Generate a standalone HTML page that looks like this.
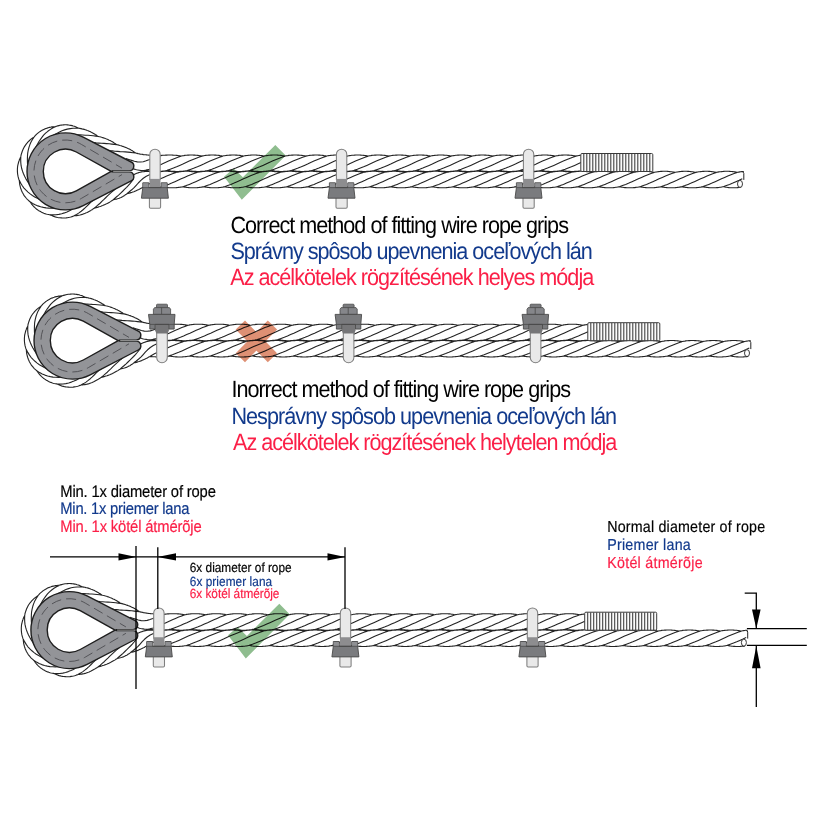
<!DOCTYPE html>
<html><head><meta charset="utf-8"><title>Wire rope grips</title>
<style>
html,body{margin:0;padding:0;background:#fff;}
body{width:820px;height:820px;overflow:hidden;font-family:"Liberation Sans",sans-serif;}
svg{display:block;}
</style></head><body>
<svg width="820" height="820" viewBox="0 0 820 820">
<rect width="820" height="820" fill="#ffffff"/>
<g transform="translate(0 0)">
<path d="M742.3 178.8 L739.1 180.3 L735.9 181.7 L732.8 183.1 L729.6 184.4 L726.4 185.6 L723.3 186.7 M737.3 172.4 L734.1 173.5 L731 174.7 L727.8 176 L724.6 177.4 L721.5 178.8 L718.3 180.3 L715.2 181.7 L712 183.1 L708.8 184.4 L705.7 185.6 L702.5 186.7 M716.5 172.4 L713.4 173.5 L710.2 174.7 L707 176 L703.9 177.4 L700.7 178.8 L697.5 180.3 L694.4 181.7 L691.2 183.1 L688 184.4 L684.9 185.6 L681.7 186.7 M695.7 172.4 L692.6 173.5 L689.4 174.7 L686.2 176 L683.1 177.4 L679.9 178.8 L676.8 180.3 L673.6 181.7 L670.4 183.1 L667.3 184.4 L664.1 185.6 L660.9 186.7 M675 172.4 L671.8 173.5 L668.6 174.7 L665.5 176 L662.3 177.4 L659.1 178.8 L656 180.3 L652.8 181.7 L649.7 183.1 L646.5 184.4 L643.3 185.6 L640.2 186.7 M654.2 172.4 L651 173.5 L647.9 174.7 L644.7 176 L641.5 177.4 L638.4 178.8 L635.2 180.3 L632 181.7 L628.9 183.1 L625.7 184.4 L622.5 185.6 L619.4 186.7 M633.4 172.4 L630.2 173.5 L627.1 174.7 L623.9 176 L620.7 177.4 L617.6 178.8 L614.4 180.3 L611.3 181.7 L608.1 183.1 L604.9 184.4 L601.8 185.6 L598.6 186.7 M612.6 172.4 L609.5 173.5 L606.3 174.7 L603.1 176 L600 177.4 L596.8 178.8 L593.6 180.3 L590.5 181.7 L587.3 183.1 L584.1 184.4 L581 185.6 L577.8 186.7 M591.8 172.4 L588.7 173.5 L585.5 174.7 L582.3 176 L579.2 177.4 L576 178.8 L572.9 180.3 L569.7 181.7 L566.5 183.1 L563.4 184.4 L560.2 185.6 L557 186.7 M571.1 172.4 L567.9 173.5 L564.7 174.7 L561.6 176 L558.4 177.4 L555.2 178.8 L552.1 180.3 L548.9 181.7 L545.8 183.1 L542.6 184.4 L539.4 185.6 L536.3 186.7 M550.3 172.4 L547.1 173.5 L544 174.7 L540.8 176 L537.6 177.4 L534.5 178.8 L531.3 180.3 L528.1 181.7 L525 183.1 L521.8 184.4 L518.6 185.6 L515.5 186.7 M529.5 172.4 L526.3 173.5 L523.2 174.7 L520 176 L516.8 177.4 L513.7 178.8 L510.5 180.3 L507.4 181.7 L504.2 183.1 L501 184.4 L497.9 185.6 L494.7 186.7 M508.7 172.4 L505.6 173.5 L502.4 174.7 L499.2 176 L496.1 177.4 L492.9 178.8 L489.7 180.3 L486.6 181.7 L483.4 183.1 L480.2 184.4 L477.1 185.6 L473.9 186.7 M487.9 172.4 L484.8 173.5 L481.6 174.7 L478.4 176 L475.3 177.4 L472.1 178.8 L469 180.3 L465.8 181.7 L462.6 183.1 L459.5 184.4 L456.3 185.6 L453.1 186.7 M467.2 172.4 L464 173.5 L460.8 174.7 L457.7 176 L454.5 177.4 L451.3 178.8 L448.2 180.3 L445 181.7 L441.9 183.1 L438.7 184.4 L435.5 185.6 L432.4 186.7 M446.4 172.4 L443.2 173.5 L440.1 174.7 L436.9 176 L433.7 177.4 L430.6 178.8 L427.4 180.3 L424.2 181.7 L421.1 183.1 L417.9 184.4 L414.7 185.6 L411.6 186.7 M425.6 172.4 L422.4 173.5 L419.3 174.7 L416.1 176 L412.9 177.4 L409.8 178.8 L406.6 180.3 L403.5 181.7 L400.3 183.1 L397.1 184.4 L394 185.6 L390.8 186.7 M404.8 172.4 L401.7 173.5 L398.5 174.7 L395.3 176 L392.2 177.4 L389 178.8 L385.8 180.3 L382.7 181.7 L379.5 183.1 L376.3 184.4 L373.2 185.6 L370 186.7 M384 172.4 L380.9 173.5 L377.7 174.7 L374.5 176 L371.4 177.4 L368.2 178.8 L365.1 180.3 L361.9 181.7 L358.7 183.1 L355.6 184.4 L352.4 185.6 L349.2 186.7 M363.3 172.4 L360.1 173.5 L356.9 174.7 L353.8 176 L350.6 177.4 L347.4 178.8 L344.3 180.3 L341.1 181.7 L338 183.1 L334.8 184.4 L331.6 185.6 L328.5 186.7 M342.5 172.4 L339.3 173.5 L336.2 174.7 L333 176 L329.8 177.4 L326.7 178.8 L323.5 180.3 L320.3 181.7 L317.2 183.1 L314 184.4 L310.8 185.6 L307.7 186.7 M321.7 172.4 L318.5 173.5 L315.4 174.7 L312.2 176 L309 177.4 L305.9 178.8 L302.7 180.3 L299.6 181.7 L296.4 183.1 L293.2 184.4 L290.1 185.6 L286.9 186.7 M300.9 172.4 L297.8 173.5 L294.6 174.7 L291.4 176 L288.3 177.4 L285.1 178.8 L281.9 180.3 L278.8 181.7 L275.6 183.1 L272.4 184.4 L269.3 185.6 L266.1 186.7 M280.1 172.4 L277 173.5 L273.8 174.7 L270.6 176 L267.5 177.4 L264.3 178.8 L261.2 180.3 L258 181.7 L254.8 183.1 L251.7 184.4 L248.5 185.6 L245.3 186.7 M259.4 172.4 L256.2 173.5 L253 174.7 L249.9 176 L246.7 177.4 L243.5 178.8 L240.4 180.3 L237.2 181.7 L234.1 183.1 L230.9 184.4 L227.7 185.6 L224.6 186.7 M238.6 172.4 L235.4 173.5 L232.3 174.7 L229.1 176 L225.9 177.4 L222.8 178.8 L219.6 180.3 L216.4 181.7 L213.3 183.1 L210.1 184.4 L206.9 185.6 L203.8 186.7 M217.8 172.4 L214.6 173.5 L211.5 174.7 L208.3 176 L205.1 177.4 L202 178.8 L198.8 180.3 L195.7 181.7 L192.5 183.1 L189.3 184.4 L186.2 185.6 L183 186.7 M197 172.4 L193.9 173.5 L190.7 174.7 L187.5 176 L184.4 177.4 L181.2 178.8 L178 180.3 L174.9 181.7 L171.7 183.1 L168.5 184.4 L165.4 185.6 L162.2 186.7 M176.2 172.4 L173.1 173.5 L169.9 174.7 L166.7 176 L163.6 177.4 L160.4 178.8 L157.3 180.3 L154.1 181.7 L150.9 183.1 L147.9 184.4 L145.3 185.8 L142.9 187.3 M155.5 172.4 L152.5 173.5 L149.5 174.7 L146.3 176.3 L143.3 178.3 L140.6 180.6 L138.3 183 L136.2 185.4 L134.1 187.7 L131.7 189.8 L129.3 191.8 L126.9 193.6 M133.7 178.7 L131.9 181.1 L130.2 183.3 L128.4 185.4 L126.6 187.3 L124.7 189.2 L122.9 191 L121 192.8 L119.1 194.6 L117.2 196.3 L115.2 198 L113.3 199.7 M115.5 188.9 L113.5 190.5 L111.6 192.2 L109.7 193.9 L107.8 195.7 L105.9 197.5 L104 199.4 L102.1 201.2 L100.3 203 L98.3 204.7 L96.4 206.4 L94.4 208 M96.8 197.2 L94.8 198.8 L92.8 200.5 L90.9 202.2 L89 204 L87.2 205.8 L85.3 207.7 L83.3 209.5 L81.2 211.2 L79 212.9 L76.6 214.4 L74 215.8 M78.1 205.2 L76.1 206.7 L74 208.1 L71.8 209.4 L69.5 210.7 L67 211.9 L64.4 212.9 L61.7 213.8 L58.9 214.4 L56 214.8 L53.1 214.9 L50.1 214.8 M59 207.7 L56.6 208 L54.1 208.1 L51.5 208.2 L48.9 208.1 L46.1 207.9 L43.4 207.4 L40.6 206.8 L37.9 205.9 L35.2 204.8 L32.6 203.4 L30.1 201.8 M41.5 200.2 L39.2 199.2 L36.9 198.1 L34.7 196.9 L32.4 195.5 L30.2 193.9 L28 192.1 L26 190.2 L24 188.1 L22.3 185.7 L20.8 183.2 L19.4 180.6 M30 185 L28.5 183 L27.2 180.9 L25.8 178.6 L24.6 176.3 L23.5 173.8 L22.5 171.2 L21.7 168.5 L21.1 165.7 L20.8 162.8 L20.7 159.9 L20.8 156.9 M27.8 166 L27.5 163.6 L27.4 161.1 L27.4 158.5 L27.5 155.8 L27.7 153.1 L28.2 150.4 L28.9 147.6 L29.8 144.9 L30.9 142.2 L32.3 139.7 L34 137.2 M35.4 148.6 L36.4 146.3 L37.6 144.1 L38.8 141.8 L40.3 139.6 L41.9 137.4 L43.6 135.2 L45.6 133.2 L47.8 131.3 L50.1 129.6 L52.6 128 L55.3 126.7 M50.8 137.3 L52.8 135.8 L54.9 134.5 L57.2 133.2 L59.5 132 L62 130.8 L64.6 129.9 L67.3 129.1 L70.2 128.6 L73.1 128.3 L76 128.2 L78.8 128.3 M69.8 135.3 L72.3 135 L74.8 134.9 L77.4 134.9 L80 134.9 L82.7 135 L85.3 135.2 L88 135.3 L90.6 135.5 L93.1 135.8 L95.7 136.1 L98.2 136.5 M88.5 142 L91.1 142.3 L93.6 142.6 L96.2 142.9 L98.8 143.1 L101.4 143.3 L104 143.4 L106.6 143.6 L109.2 143.8 L111.8 144.1 L114.3 144.4 L116.8 144.7 M107.2 150.2 L109.8 150.6 L112.3 150.9 L114.9 151.2 L117.5 151.4 L120.1 151.6 L122.7 151.7 L125.3 151.9 L127.9 152.1 L130.4 152.4 L133 152.7 L135.5 153 M126 158.6 L128.8 159.5 L131.6 160.4 L134.4 161.3 L137.3 161.9 L140.3 162 L143.3 161.7 L146.1 160.8 L148.9 159.7 L151.8 158.4 L154.7 157.2 L157.6 156.1 M145.9 170 L149.5 169.3 L152.6 168.1 L155.8 166.8 L159 165.4 L162.1 164 L165.3 162.5 L168.5 161.1 L171.6 159.7 L174.8 158.4 L177.9 157.2 L181.1 156.1 M167.1 170.4 L170.2 169.3 L173.4 168.1 L176.6 166.8 L179.7 165.4 L182.9 164 L186.1 162.5 L189.2 161.1 L192.4 159.7 L195.6 158.4 L198.7 157.2 L201.9 156.1 M187.9 170.4 L191 169.3 L194.2 168.1 L197.4 166.8 L200.5 165.4 L203.7 164 L206.8 162.5 L210 161.1 L213.2 159.7 L216.3 158.4 L219.5 157.2 L222.7 156.1 M208.6 170.4 L211.8 169.3 L215 168.1 L218.1 166.8 L221.3 165.4 L224.5 164 L227.6 162.5 L230.8 161.1 L234 159.7 L237.1 158.4 L240.3 157.2 L243.4 156.1 M229.4 170.4 L232.6 169.3 L235.8 168.1 L238.9 166.8 L242.1 165.4 L245.2 164 L248.4 162.5 L251.6 161.1 L254.7 159.7 L257.9 158.4 L261.1 157.2 L264.2 156.1 M250.2 170.4 L253.4 169.3 L256.5 168.1 L259.7 166.8 L262.9 165.4 L266 164 L269.2 162.5 L272.4 161.1 L275.5 159.7 L278.7 158.4 L281.8 157.2 L285 156.1 M271 170.4 L274.1 169.3 L277.3 168.1 L280.5 166.8 L283.6 165.4 L286.8 164 L290 162.5 L293.1 161.1 L296.3 159.7 L299.5 158.4 L302.6 157.2 L305.8 156.1 M291.8 170.4 L294.9 169.3 L298.1 168.1 L301.3 166.8 L304.4 165.4 L307.6 164 L310.7 162.5 L313.9 161.1 L317.1 159.7 L320.2 158.4 L323.4 157.2 L326.6 156.1 M312.5 170.4 L315.7 169.3 L318.9 168.1 L322 166.8 L325.2 165.4 L328.4 164 L331.5 162.5 L334.7 161.1 L337.9 159.7 L341 158.4 L344.2 157.2 L347.3 156.1 M333.3 170.4 L336.5 169.3 L339.7 168.1 L342.8 166.8 L346 165.4 L349.1 164 L352.3 162.5 L355.5 161.1 L358.6 159.7 L361.8 158.4 L365 157.2 L368.1 156.1 M354.1 170.4 L357.3 169.3 L360.4 168.1 L363.6 166.8 L366.8 165.4 L369.9 164 L373.1 162.5 L376.3 161.1 L379.4 159.7 L382.6 158.4 L385.7 157.2 L388.9 156.1 M374.9 170.4 L378 169.3 L381.2 168.1 L384.4 166.8 L387.5 165.4 L390.7 164 L393.9 162.5 L397 161.1 L400.2 159.7 L403.4 158.4 L406.5 157.2 L409.7 156.1 M395.7 170.4 L398.8 169.3 L402 168.1 L405.2 166.8 L408.3 165.4 L411.5 164 L414.6 162.5 L417.8 161.1 L421 159.7 L424.1 158.4 L427.3 157.2 L430.5 156.1 M416.4 170.4 L419.6 169.3 L422.8 168.1 L425.9 166.8 L429.1 165.4 L432.3 164 L435.4 162.5 L438.6 161.1 L441.8 159.7 L444.9 158.4 L448.1 157.2 L451.2 156.1 M437.2 170.4 L440.4 169.3 L443.6 168.1 L446.7 166.8 L449.9 165.4 L453 164 L456.2 162.5 L459.4 161.1 L462.5 159.7 L465.7 158.4 L468.9 157.2 L472 156.1 M458 170.4 L461.2 169.3 L464.3 168.1 L467.5 166.8 L470.7 165.4 L473.8 164 L477 162.5 L480.2 161.1 L483.3 159.7 L486.5 158.4 L489.6 157.2 L492.8 156.1 M478.8 170.4 L481.9 169.3 L485.1 168.1 L488.3 166.8 L491.4 165.4 L494.6 164 L497.8 162.5 L500.9 161.1 L504.1 159.7 L507.3 158.4 L510.4 157.2 L513.6 156.1 M499.6 170.4 L502.7 169.3 L505.9 168.1 L509.1 166.8 L512.2 165.4 L515.4 164 L518.5 162.5 L521.7 161.1 L524.9 159.7 L528 158.4 L531.2 157.2 L534.4 156.1 M520.3 170.4 L523.5 169.3 L526.7 168.1 L529.8 166.8 L533 165.4 L536.2 164 L539.3 162.5 L542.5 161.1 L545.7 159.7 L548.8 158.4 L552 157.2 L555.1 156.1 M541.1 170.4 L544.3 169.3 L547.5 168.1 L550.6 166.8 L553.8 165.4 L556.9 164 L560.1 162.5 L563.3 161.1 L566.4 159.7 L569.6 158.4 L572.8 157.2 L575.9 156.1 M561.9 170.4 L565.1 169.3 L568.2 168.1 L571.4 166.8 L574.6 165.4 L577.7 164 L580.9 162.5 M743.8 171.5 L742.8 171.5 L741.8 171.6 L740.8 171.8 L739.8 171.9 L738.8 172.1 L737.8 172.3 L736.8 172.3 L735.8 172.1 L734.8 171.9 L733.8 171.8 L732.8 171.6 L731.8 171.5 L730.8 171.5 L729.8 171.4 L728.8 171.3 L727.8 171.3 L726.8 171.3 L725.8 171.3 L724.8 171.3 L723.8 171.4 L722.8 171.5 L721.8 171.6 L720.8 171.7 L719.8 171.8 L718.8 171.9 L717.8 172.1 L716.8 172.3 L715.8 172.2 L714.8 172 L713.8 171.9 L712.8 171.7 L711.8 171.6 L710.8 171.5 L709.8 171.4 L708.8 171.4 L707.8 171.3 L706.8 171.3 L705.8 171.3 L704.8 171.3 L703.8 171.4 L702.8 171.4 L701.8 171.5 L700.8 171.6 L699.8 171.7 L698.8 171.8 L697.8 172 L696.8 172.1 L695.8 172.4 L694.8 172.2 L693.8 172 L692.8 171.8 L691.8 171.7 L690.8 171.6 L689.8 171.5 L688.8 171.4 L687.8 171.4 L686.8 171.3 L685.8 171.3 L684.8 171.3 L683.8 171.3 L682.8 171.4 L681.8 171.4 L680.8 171.5 L679.8 171.6 L678.8 171.7 L677.8 171.9 L676.8 172 L675.8 172.2 L674.8 172.3 L673.8 172.1 L672.8 172 L671.8 171.8 L670.8 171.7 L669.8 171.6 L668.8 171.5 L667.8 171.4 L666.8 171.3 L665.8 171.3 L664.8 171.3 L663.8 171.3 L662.8 171.3 L661.8 171.4 L660.8 171.4 L659.8 171.5 L658.8 171.6 L657.8 171.7 L656.8 171.9 L655.8 172 L654.8 172.2 L653.8 172.3 L652.8 172.1 L651.8 171.9 L650.8 171.8 L649.8 171.7 L648.8 171.5 L647.8 171.5 L646.8 171.4 L645.8 171.3 L644.8 171.3 L643.8 171.3 L642.8 171.3 L641.8 171.3 L640.8 171.4 L639.8 171.5 L638.8 171.5 L637.8 171.7 L636.8 171.8 L635.8 171.9 L634.8 172.1 L633.8 172.3 L632.8 172.2 L631.8 172 L630.8 171.9 L629.8 171.8 L628.8 171.6 L627.8 171.5 L626.8 171.4 L625.8 171.4 L624.8 171.3 L623.8 171.3 L622.8 171.3 L621.8 171.3 L620.8 171.3 L619.8 171.4 L618.8 171.5 L617.8 171.6 L616.8 171.7 L615.8 171.8 L614.8 172 L613.8 172.1 L612.8 172.3 L611.8 172.2 L610.8 172 L609.8 171.9 L608.8 171.7 L607.8 171.6 L606.8 171.5 L605.8 171.4 L604.8 171.4 L603.8 171.3 L602.8 171.3 L601.8 171.3 L600.8 171.3 L599.8 171.4 L598.8 171.4 L597.8 171.5 L596.8 171.6 L595.8 171.7 L594.8 171.8 L593.8 172 L592.8 172.2 L591.8 172.4 L590.8 172.2 L589.8 172 L588.8 171.8 L587.8 171.7 L586.8 171.6 L585.8 171.5 L584.8 171.4 L583.8 171.4 L582.8 171.3 L581.8 171.3 L580.8 171.3 L579.8 171.3 L578.8 171.4 L577.8 171.4 L576.8 171.5 L575.8 171.6 L574.8 171.7 L573.8 171.9 L572.8 172 L571.8 172.2 L570.8 172.3 L569.8 172.1 L568.8 171.9 L567.8 171.8 L566.8 171.7 L565.8 171.6 L564.8 171.5 L563.8 171.4 L562.8 171.3 L561.8 171.3 L560.8 171.3 L559.8 171.3 L558.8 171.3 L557.8 171.4 L556.8 171.4 L555.8 171.5 L554.8 171.6 L553.8 171.8 L552.8 171.9 L551.8 172.1 L550.8 172.3 L549.8 172.3 L548.8 172.1 L547.8 171.9 L546.8 171.8 L545.8 171.6 L544.8 171.5 L543.8 171.5 L542.8 171.4 L541.8 171.3 L540.8 171.3 L539.8 171.3 L538.8 171.3 L537.8 171.3 L536.8 171.4 L535.8 171.5 L534.8 171.6 L533.8 171.7 L532.8 171.8 L531.8 171.9 L530.8 172.1 L529.8 172.3 L528.8 172.2 L527.8 172 L526.8 171.9 L525.8 171.7 L524.8 171.6 L523.8 171.5 L522.8 171.4 L521.8 171.4 L520.8 171.3 L519.8 171.3 L518.8 171.3 L517.8 171.3 L516.8 171.4 L515.8 171.4 L514.8 171.5 L513.8 171.6 L512.8 171.7 L511.8 171.8 L510.8 172 L509.8 172.1 L508.8 172.4 L507.8 172.2 L506.8 172 L505.8 171.8 L504.8 171.7 L503.8 171.6 L502.8 171.5 L501.8 171.4 L500.8 171.4 L499.8 171.3 L498.8 171.3 L497.8 171.3 L496.8 171.3 L495.8 171.4 L494.8 171.4 L493.8 171.5 L492.8 171.6 L491.8 171.7 L490.8 171.9 L489.8 172 L488.8 172.2 L487.8 172.3 L486.8 172.1 L485.8 172 L484.8 171.8 L483.8 171.7 L482.8 171.6 L481.8 171.5 L480.8 171.4 L479.8 171.4 L478.8 171.3 L477.8 171.3 L476.8 171.3 L475.8 171.3 L474.8 171.4 L473.8 171.4 L472.8 171.5 L471.8 171.6 L470.8 171.7 L469.8 171.9 L468.8 172 L467.8 172.2 L466.8 172.3 L465.8 172.1 L464.8 171.9 L463.8 171.8 L462.8 171.7 L461.8 171.5 L460.8 171.5 L459.8 171.4 L458.8 171.3 L457.8 171.3 L456.8 171.3 L455.8 171.3 L454.8 171.3 L453.8 171.4 L452.8 171.5 L451.8 171.5 L450.8 171.6 L449.8 171.8 L448.8 171.9 L447.8 172.1 L446.8 172.3 L445.8 172.2 L444.8 172.1 L443.8 171.9 L442.8 171.8 L441.8 171.6 L440.8 171.5 L439.8 171.4 L438.8 171.4 L437.8 171.3 L436.8 171.3 L435.8 171.3 L434.8 171.3 L433.8 171.3 L432.8 171.4 L431.8 171.5 L430.8 171.6 L429.8 171.7 L428.8 171.8 L427.8 172 L426.8 172.1 L425.8 172.3 L424.8 172.2 L423.8 172 L422.8 171.9 L421.8 171.7 L420.8 171.6 L419.8 171.5 L418.8 171.4 L417.8 171.4 L416.8 171.3 L415.8 171.3 L414.8 171.3 L413.8 171.3 L412.8 171.4 L411.8 171.4 L410.8 171.5 L409.8 171.6 L408.8 171.7 L407.8 171.8 L406.8 172 L405.8 172.2 L404.8 172.4 L403.8 172.2 L402.8 172 L401.8 171.8 L400.8 171.7 L399.8 171.6 L398.8 171.5 L397.8 171.4 L396.8 171.4 L395.8 171.3 L394.8 171.3 L393.8 171.3 L392.8 171.3 L391.8 171.4 L390.8 171.4 L389.8 171.5 L388.8 171.6 L387.8 171.7 L386.8 171.9 L385.8 172 L384.8 172.2 L383.8 172.3 L382.8 172.1 L381.8 171.9 L380.8 171.8 L379.8 171.7 L378.8 171.6 L377.8 171.5 L376.8 171.4 L375.8 171.3 L374.8 171.3 L373.8 171.3 L372.8 171.3 L371.8 171.3 L370.8 171.4 L369.8 171.4 L368.8 171.5 L367.8 171.6 L366.8 171.8 L365.8 171.9 L364.8 172.1 L363.8 172.3 L362.8 172.3 L361.8 172.1 L360.8 171.9 L359.8 171.8 L358.8 171.6 L357.8 171.5 L356.8 171.5 L355.8 171.4 L354.8 171.3 L353.8 171.3 L352.8 171.3 L351.8 171.3 L350.8 171.3 L349.8 171.4 L348.8 171.5 L347.8 171.6 L346.8 171.7 L345.8 171.8 L344.8 171.9 L343.8 172.1 L342.8 172.3 L341.8 172.2 L340.8 172 L339.8 171.9 L338.8 171.7 L337.8 171.6 L336.8 171.5 L335.8 171.4 L334.8 171.4 L333.8 171.3 L332.8 171.3 L331.8 171.3 L330.8 171.3 L329.8 171.4 L328.8 171.4 L327.8 171.5 L326.8 171.6 L325.8 171.7 L324.8 171.8 L323.8 172 L322.8 172.1 L321.8 172.4 L320.8 172.2 L319.8 172 L318.8 171.8 L317.8 171.7 L316.8 171.6 L315.8 171.5 L314.8 171.4 L313.8 171.4 L312.8 171.3 L311.8 171.3 L310.8 171.3 L309.8 171.3 L308.8 171.4 L307.8 171.4 L306.8 171.5 L305.8 171.6 L304.8 171.7 L303.8 171.8 L302.8 172 L301.8 172.2 L300.8 172.4 L299.8 172.1 L298.8 172 L297.8 171.8 L296.8 171.7 L295.8 171.6 L294.8 171.5 L293.8 171.4 L292.8 171.4 L291.8 171.3 L290.8 171.3 L289.8 171.3 L288.8 171.3 L287.8 171.4 L286.8 171.4 L285.8 171.5 L284.8 171.6 L283.8 171.7 L282.8 171.9 L281.8 172 L280.8 172.2 L279.8 172.3 L278.8 172.1 L277.8 171.9 L276.8 171.8 L275.8 171.7 L274.8 171.6 L273.8 171.5 L272.8 171.4 L271.8 171.3 L270.8 171.3 L269.8 171.3 L268.8 171.3 L267.8 171.3 L266.8 171.4 L265.8 171.5 L264.8 171.5 L263.8 171.6 L262.8 171.8 L261.8 171.9 L260.8 172.1 L259.8 172.3 L258.8 172.2 L257.8 172.1 L256.8 171.9 L255.8 171.8 L254.8 171.6 L253.8 171.5 L252.8 171.4 L251.8 171.4 L250.8 171.3 L249.8 171.3 L248.8 171.3 L247.8 171.3 L246.8 171.3 L245.8 171.4 L244.8 171.5 L243.8 171.6 L242.8 171.7 L241.8 171.8 L240.8 171.9 L239.8 172.1 L238.8 172.3 L237.8 172.2 L236.8 172 L235.8 171.9 L234.8 171.7 L233.8 171.6 L232.8 171.5 L231.8 171.4 L230.8 171.4 L229.8 171.3 L228.8 171.3 L227.8 171.3 L226.8 171.3 L225.8 171.4 L224.8 171.4 L223.8 171.5 L222.8 171.6 L221.8 171.7 L220.8 171.8 L219.8 172 L218.8 172.2 L217.8 172.4 L216.8 172.2 L215.8 172 L214.8 171.8 L213.8 171.7 L212.8 171.6 L211.8 171.5 L210.8 171.4 L209.8 171.4 L208.8 171.3 L207.8 171.3 L206.8 171.3 L205.8 171.3 L204.8 171.4 L203.8 171.4 L202.8 171.5 L201.8 171.6 L200.8 171.7 L199.8 171.9 L198.8 172 L197.8 172.2 L196.8 172.3 L195.8 172.1 L194.8 171.9 L193.8 171.8 L192.8 171.7 L191.8 171.6 L190.8 171.5 L189.8 171.4 L188.8 171.3 L187.8 171.3 L186.8 171.3 L185.8 171.3 L184.8 171.3 L183.8 171.4 L182.8 171.4 L181.8 171.5 L180.8 171.6 L179.8 171.8 L178.8 171.9 L177.8 172.1 L176.8 172.2 L175.8 172.3 L174.8 172.1 L173.8 171.9 L172.8 171.8 L171.8 171.6 L170.8 171.5 L169.8 171.5 L168.8 171.4 L167.8 171.3 L166.8 171.3 L165.8 171.3 L164.8 171.3 L163.8 171.3 L162.8 171.4 L161.8 171.5 L160.8 171.6 L159.8 171.7 L158.8 171.8 L157.8 171.9 L156.8 172.1 L155.8 172.3 L154.8 172.2 L153.8 172 L152.8 171.9 L151.8 171.7 L150.8 171.6 L149.8 171.5 L148.8 171.4 L147.6 171.4 L146.4 171.4 L145.2 171.4 L143.9 171.6 L142.7 171.7 L141.5 171.9 L140.3 172.2 L139.1 172.5 L138 172.9 L136.8 173.3 L135.7 173.8 L134.6 174.3 L133.5 174.9 L132.5 175.5 L131.3 175.8 L130.2 176.1 L129.3 176.3 L128.3 176.6 L127.3 176.9 L126.4 177.2 L125.4 177.6 L124.5 177.9 L123.6 178.3 L122.6 178.7 L121.7 179.1 L120.8 179.5 L119.9 179.9 L119 180.4 L118.2 180.9 L117.3 181.4 L116.4 181.9 L115.6 182.4 L114.7 183 L113.9 183.6 L113 184 L112 184.3 L111 184.5 L110 184.8 L109.1 185.1 L108.1 185.4 L107.2 185.7 L106.2 186 L105.3 186.4 L104.4 186.8 L103.4 187.2 L102.5 187.6 L101.6 188 L100.7 188.5 L99.9 188.9 L99 189.4 L98.1 189.9 L97.2 190.5 L96.4 191 L95.5 191.6 L94.7 192.2 L93.7 192.4 L92.8 192.7 L91.8 192.9 L90.8 193.2 L89.8 193.5 L88.9 193.8 L87.9 194.2 L87 194.5 L86.1 194.9 L85.2 195.3 L84.2 195.7 L83.3 196.1 L82.5 196.6 L81.6 197 L80.7 197.5 L79.9 197.9 L79.1 198.4 L78.3 198.9 L77.5 199.4 L76.7 199.9 L75.9 200.2 L75 200.3 L74.1 200.5 L73.3 200.6 L72.4 200.7 L71.6 200.8 L70.8 200.9 L70 201 L69.2 201.1 L68.5 201.2 L67.7 201.3 L66.9 201.4 L66.1 201.5 L65.3 201.6 L64.5 201.7 L63.8 201.8 L63 201.9 L62.2 202 L61.3 202.1 L60.5 202.2 L59.7 202.3 L58.9 202 L58.2 201.6 L57.4 201.3 L56.7 201 L55.9 200.7 L55.2 200.4 L54.5 200.1 L53.7 199.8 L53 199.5 L52.3 199.2 L51.6 198.9 L50.9 198.6 L50.1 198.3 L49.4 197.9 L48.7 197.6 L47.9 197.3 L47.2 197 L46.4 196.7 L45.7 196.4 L44.9 196 L44.4 195.4 L43.9 194.8 L43.4 194.1 L42.9 193.5 L42.4 192.8 L41.9 192.2 L41.4 191.6 L41 190.9 L40.5 190.3 L40 189.7 L39.6 189 L39.1 188.4 L38.6 187.8 L38.1 187.1 L37.7 186.5 L37.2 185.9 L36.7 185.2 L36.2 184.6 L35.7 183.9 L35.2 183.2 L35 182.5 L34.9 181.7 L34.8 180.8 L34.7 180 L34.6 179.2 L34.5 178.4 L34.4 177.7 L34.3 176.9 L34.2 176.1 L34.1 175.3 L34 174.5 L33.9 173.8 L33.8 173 L33.7 172.2 L33.7 171.4 L33.6 170.6 L33.5 169.8 L33.4 169 L33.3 168.2 L33.2 167.4 L33.2 166.5 L33.6 165.8 L33.9 165 L34.2 164.3 L34.5 163.5 L34.9 162.8 L35.2 162.1 L35.5 161.4 L35.8 160.6 L36.1 159.9 L36.4 159.2 L36.8 158.5 L37.1 157.8 L37.4 157 L37.7 156.3 L38 155.6 L38.3 154.8 L38.7 154.1 L39 153.4 L39.3 152.6 L39.7 151.8 L40.4 151.4 L41 150.9 L41.7 150.4 L42.3 149.9 L43 149.4 L43.6 149 L44.3 148.5 L44.9 148 L45.5 147.6 L46.2 147.1 L46.8 146.6 L47.4 146.2 L48.1 145.7 L48.7 145.2 L49.4 144.8 L50 144.3 L50.7 143.8 L51.3 143.3 L52 142.9 L52.7 142.4 L53.5 142.2 L54.3 142.1 L55.1 142 L55.9 141.9 L56.7 141.9 L57.5 141.8 L58.3 141.7 L59.1 141.6 L59.9 141.5 L60.6 141.5 L61.4 141.4 L62.2 141.3 L63 141.2 L63.8 141.1 L64.6 141 L65.4 141 L66.2 140.9 L67 140.8 L67.8 140.7 L68.6 140.6 L69.4 140.8 L70.2 141.1 L70.9 141.5 L71.7 141.8 L72.4 142.1 L73.2 142.5 L74 142.8 L74.8 143.1 L75.6 143.5 L76.4 143.8 L77.2 144.1 L78.1 144.4 L78.9 144.7 L79.8 145.1 L80.7 145.4 L81.7 145.7 L82.6 145.9 L83.6 146.2 L84.5 146.5 L85.5 146.7 L86.5 147 L87.3 147.6 L88.2 148.2 L89 148.7 L89.9 149.2 L90.8 149.7 L91.6 150.2 L92.5 150.7 L93.4 151.1 L94.3 151.6 L95.2 152 L96.1 152.4 L97.1 152.8 L98 153.1 L98.9 153.5 L99.9 153.8 L100.9 154.1 L101.8 154.4 L102.8 154.6 L103.8 154.9 L104.8 155.1 L105.6 155.6 L106.5 156.2 L107.3 156.7 L108.2 157.3 L109.1 157.8 L109.9 158.3 L110.8 158.8 L111.7 159.2 L112.6 159.7 L113.5 160.1 L114.4 160.5 L115.3 160.9 L116.3 161.2 L117.2 161.6 L118.2 161.9 L119.1 162.2 L120.1 162.5 L121 162.8 L122 163.1 L123 163.3 L124 163.6 L124.8 164.2 L125.7 164.8 L126.5 165.3 L127.4 165.8 L128.2 166.3 L129.1 166.8 L130 167.3 L131 167.8 L132.1 168.3 L133.2 168.7 L134.4 169.1 L135.5 169.5 L136.7 169.8 L137.9 170 L139.1 170.2 L140.4 170.4 L141.6 170.5 L142.8 170.5 L144 170.5 L145.2 170.4 L146.4 170.5 L147.6 170.7 L148.8 170.9 L149.8 171 L150.8 171.2 L151.8 171.3 L152.8 171.3 L153.8 171.4 L154.8 171.5 L155.8 171.5 L156.8 171.5 L157.8 171.5 L158.8 171.5 L159.8 171.4 L160.8 171.3 L161.8 171.2 L162.8 171.1 L163.8 171 L164.8 170.9 L165.8 170.7 L166.8 170.5 L167.8 170.6 L168.8 170.8 L169.8 170.9 L170.8 171.1 L171.8 171.2 L172.8 171.3 L173.8 171.4 L174.8 171.4 L175.8 171.5 L176.8 171.5 L177.8 171.5 L178.8 171.5 L179.8 171.4 L180.8 171.4 L181.8 171.3 L182.8 171.2 L183.8 171.1 L184.8 171 L185.8 170.8 L186.8 170.7 L187.8 170.4 L188.8 170.6 L189.8 170.8 L190.8 171 L191.8 171.1 L192.8 171.2 L193.8 171.3 L194.8 171.4 L195.8 171.4 L196.8 171.5 L197.8 171.5 L198.8 171.5 L199.8 171.5 L200.8 171.4 L201.8 171.4 L202.8 171.3 L203.8 171.2 L204.8 171.1 L205.8 170.9 L206.8 170.8 L207.8 170.6 L208.8 170.5 L209.8 170.7 L210.8 170.8 L211.8 171 L212.8 171.1 L213.8 171.2 L214.8 171.3 L215.8 171.4 L216.8 171.5 L217.8 171.5 L218.8 171.5 L219.8 171.5 L220.8 171.5 L221.8 171.4 L222.8 171.4 L223.8 171.3 L224.8 171.2 L225.8 171.1 L226.8 170.9 L227.8 170.8 L228.8 170.6 L229.8 170.5 L230.8 170.7 L231.8 170.9 L232.8 171 L233.8 171.1 L234.8 171.3 L235.8 171.3 L236.8 171.4 L237.8 171.5 L238.8 171.5 L239.8 171.5 L240.8 171.5 L241.8 171.5 L242.8 171.4 L243.8 171.3 L244.8 171.3 L245.8 171.1 L246.8 171 L247.8 170.9 L248.8 170.7 L249.8 170.5 L250.8 170.6 L251.8 170.8 L252.8 170.9 L253.8 171.1 L254.8 171.2 L255.8 171.3 L256.8 171.4 L257.8 171.4 L258.8 171.5 L259.8 171.5 L260.8 171.5 L261.8 171.5 L262.8 171.5 L263.8 171.4 L264.8 171.3 L265.8 171.2 L266.8 171.1 L267.8 171 L268.8 170.8 L269.8 170.7 L270.8 170.5 L271.8 170.6 L272.8 170.8 L273.8 170.9 L274.8 171.1 L275.8 171.2 L276.8 171.3 L277.8 171.4 L278.8 171.4 L279.8 171.5 L280.8 171.5 L281.8 171.5 L282.8 171.5 L283.8 171.4 L284.8 171.4 L285.8 171.3 L286.8 171.2 L287.8 171.1 L288.8 171 L289.8 170.8 L290.8 170.6 L291.8 170.4 L292.8 170.7 L293.8 170.8 L294.8 171 L295.8 171.1 L296.8 171.2 L297.8 171.3 L298.8 171.4 L299.8 171.4 L300.8 171.5 L301.8 171.5 L302.8 171.5 L303.8 171.5 L304.8 171.4 L305.8 171.4 L306.8 171.3 L307.8 171.2 L308.8 171.1 L309.8 170.9 L310.8 170.8 L311.8 170.6 L312.8 170.5 L313.8 170.7 L314.8 170.9 L315.8 171 L316.8 171.1 L317.8 171.2 L318.8 171.3 L319.8 171.4 L320.8 171.5 L321.8 171.5 L322.8 171.5 L323.8 171.5 L324.8 171.5 L325.8 171.4 L326.8 171.4 L327.8 171.3 L328.8 171.2 L329.8 171 L330.8 170.9 L331.8 170.7 L332.8 170.5 L333.8 170.5 L334.8 170.7 L335.8 170.9 L336.8 171 L337.8 171.2 L338.8 171.3 L339.8 171.3 L340.8 171.4 L341.8 171.5 L342.8 171.5 L343.8 171.5 L344.8 171.5 L345.8 171.5 L346.8 171.4 L347.8 171.3 L348.8 171.2 L349.8 171.1 L350.8 171 L351.8 170.9 L352.8 170.7 L353.8 170.5 L354.8 170.6 L355.8 170.8 L356.8 170.9 L357.8 171.1 L358.8 171.2 L359.8 171.3 L360.8 171.4 L361.8 171.4 L362.8 171.5 L363.8 171.5 L364.8 171.5 L365.8 171.5 L366.8 171.4 L367.8 171.4 L368.8 171.3 L369.8 171.2 L370.8 171.1 L371.8 171 L372.8 170.8 L373.8 170.7 L374.8 170.4 L375.8 170.6 L376.8 170.8 L377.8 171 L378.8 171.1 L379.8 171.2 L380.8 171.3 L381.8 171.4 L382.8 171.4 L383.8 171.5 L384.8 171.5 L385.8 171.5 L386.8 171.5 L387.8 171.4 L388.8 171.4 L389.8 171.3 L390.8 171.2 L391.8 171.1 L392.8 170.9 L393.8 170.8 L394.8 170.6 L395.8 170.5 L396.8 170.7 L397.8 170.8 L398.8 171 L399.8 171.1 L400.8 171.2 L401.8 171.3 L402.8 171.4 L403.8 171.4 L404.8 171.5 L405.8 171.5 L406.8 171.5 L407.8 171.5 L408.8 171.4 L409.8 171.4 L410.8 171.3 L411.8 171.2 L412.8 171.1 L413.8 170.9 L414.8 170.8 L415.8 170.6 L416.8 170.5 L417.8 170.7 L418.8 170.9 L419.8 171 L420.8 171.1 L421.8 171.3 L422.8 171.3 L423.8 171.4 L424.8 171.5 L425.8 171.5 L426.8 171.5 L427.8 171.5 L428.8 171.5 L429.8 171.4 L430.8 171.3 L431.8 171.3 L432.8 171.1 L433.8 171 L434.8 170.9 L435.8 170.7 L436.8 170.5 L437.8 170.6 L438.8 170.7 L439.8 170.9 L440.8 171 L441.8 171.2 L442.8 171.3 L443.8 171.4 L444.8 171.4 L445.8 171.5 L446.8 171.5 L447.8 171.5 L448.8 171.5 L449.8 171.5 L450.8 171.4 L451.8 171.3 L452.8 171.2 L453.8 171.1 L454.8 171 L455.8 170.8 L456.8 170.7 L457.8 170.5 L458.8 170.6 L459.8 170.8 L460.8 170.9 L461.8 171.1 L462.8 171.2 L463.8 171.3 L464.8 171.4 L465.8 171.4 L466.8 171.5 L467.8 171.5 L468.8 171.5 L469.8 171.5 L470.8 171.4 L471.8 171.4 L472.8 171.3 L473.8 171.2 L474.8 171.1 L475.8 171 L476.8 170.8 L477.8 170.6 L478.8 170.4 L479.8 170.6 L480.8 170.8 L481.8 171 L482.8 171.1 L483.8 171.2 L484.8 171.3 L485.8 171.4 L486.8 171.4 L487.8 171.5 L488.8 171.5 L489.8 171.5 L490.8 171.5 L491.8 171.4 L492.8 171.4 L493.8 171.3 L494.8 171.2 L495.8 171.1 L496.8 170.9 L497.8 170.8 L498.8 170.6 L499.8 170.5 L500.8 170.7 L501.8 170.9 L502.8 171 L503.8 171.1 L504.8 171.2 L505.8 171.3 L506.8 171.4 L507.8 171.5 L508.8 171.5 L509.8 171.5 L510.8 171.5 L511.8 171.5 L512.8 171.4 L513.8 171.4 L514.8 171.3 L515.8 171.2 L516.8 171 L517.8 170.9 L518.8 170.7 L519.8 170.5 L520.8 170.5 L521.8 170.7 L522.8 170.9 L523.8 171 L524.8 171.2 L525.8 171.3 L526.8 171.3 L527.8 171.4 L528.8 171.5 L529.8 171.5 L530.8 171.5 L531.8 171.5 L532.8 171.5 L533.8 171.4 L534.8 171.3 L535.8 171.2 L536.8 171.1 L537.8 171 L538.8 170.9 L539.8 170.7 L540.8 170.5 L541.8 170.6 L542.8 170.8 L543.8 170.9 L544.8 171.1 L545.8 171.2 L546.8 171.3 L547.8 171.4 L548.8 171.4 L549.8 171.5 L550.8 171.5 L551.8 171.5 L552.8 171.5 L553.8 171.4 L554.8 171.4 L555.8 171.3 L556.8 171.2 L557.8 171.1 L558.8 171 L559.8 170.8 L560.8 170.7 L561.8 170.4 L562.8 170.6 L563.8 170.8 L564.8 171 L565.8 171.1 L566.8 171.2 L567.8 171.3 L568.8 171.4 L569.8 171.4 L570.8 171.5 L571.8 171.5 L572.8 171.5 L573.8 171.5 L574.8 171.4 L575.8 171.4 L576.8 171.3 L577.8 171.2 L578.8 171.1 L579.8 171 L580.8 170.8 M743.8 186.8 L742.8 187 L741.8 187.2 L740.8 187.3 L739.8 187.4 L738.8 187.5 L737.8 187.6 L736.8 187.7 L735.8 187.8 L734.8 187.8 L733.8 187.8 L732.8 187.8 L731.8 187.8 L730.8 187.7 L729.8 187.7 L728.8 187.6 L727.8 187.5 L726.8 187.3 L725.8 187.2 L724.8 187 L723.8 186.8 L722.8 186.8 L721.8 187 L720.8 187.2 L719.8 187.3 L718.8 187.5 L717.8 187.6 L716.8 187.6 L715.8 187.7 L714.8 187.8 L713.8 187.8 L712.8 187.8 L711.8 187.8 L710.8 187.8 L709.8 187.7 L708.8 187.6 L707.8 187.5 L706.8 187.4 L705.8 187.3 L704.8 187.2 L703.8 187 L702.8 186.8 L701.8 186.9 L700.8 187.1 L699.8 187.2 L698.8 187.4 L697.8 187.5 L696.8 187.6 L695.8 187.7 L694.8 187.7 L693.8 187.8 L692.8 187.8 L691.8 187.8 L690.8 187.8 L689.8 187.7 L688.8 187.7 L687.8 187.6 L686.8 187.5 L685.8 187.4 L684.8 187.3 L683.8 187.1 L682.8 187 L681.8 186.7 L680.8 186.9 L679.8 187.1 L678.8 187.3 L677.8 187.4 L676.8 187.5 L675.8 187.6 L674.8 187.7 L673.8 187.7 L672.8 187.8 L671.8 187.8 L670.8 187.8 L669.8 187.8 L668.8 187.7 L667.8 187.7 L666.8 187.6 L665.8 187.5 L664.8 187.4 L663.8 187.2 L662.8 187.1 L661.8 186.9 L660.8 186.8 L659.8 187 L658.8 187.1 L657.8 187.3 L656.8 187.4 L655.8 187.5 L654.8 187.6 L653.8 187.7 L652.8 187.7 L651.8 187.8 L650.8 187.8 L649.8 187.8 L648.8 187.8 L647.8 187.7 L646.8 187.7 L645.8 187.6 L644.8 187.5 L643.8 187.4 L642.8 187.2 L641.8 187.1 L640.8 186.9 L639.8 186.8 L638.8 187 L637.8 187.2 L636.8 187.3 L635.8 187.4 L634.8 187.6 L633.8 187.6 L632.8 187.7 L631.8 187.8 L630.8 187.8 L629.8 187.8 L628.8 187.8 L627.8 187.8 L626.8 187.7 L625.8 187.6 L624.8 187.6 L623.8 187.5 L622.8 187.3 L621.8 187.2 L620.8 187 L619.8 186.8 L618.8 186.9 L617.8 187 L616.8 187.2 L615.8 187.3 L614.8 187.5 L613.8 187.6 L612.8 187.7 L611.8 187.7 L610.8 187.8 L609.8 187.8 L608.8 187.8 L607.8 187.8 L606.8 187.8 L605.8 187.7 L604.8 187.6 L603.8 187.5 L602.8 187.4 L601.8 187.3 L600.8 187.1 L599.8 187 L598.8 186.8 L597.8 186.9 L596.8 187.1 L595.8 187.2 L594.8 187.4 L593.8 187.5 L592.8 187.6 L591.8 187.7 L590.8 187.7 L589.8 187.8 L588.8 187.8 L587.8 187.8 L586.8 187.8 L585.8 187.7 L584.8 187.7 L583.8 187.6 L582.8 187.5 L581.8 187.4 L580.8 187.3 L579.8 187.1 L578.8 186.9 L577.8 186.7 L576.8 186.9 L575.8 187.1 L574.8 187.3 L573.8 187.4 L572.8 187.5 L571.8 187.6 L570.8 187.7 L569.8 187.7 L568.8 187.8 L567.8 187.8 L566.8 187.8 L565.8 187.8 L564.8 187.7 L563.8 187.7 L562.8 187.6 L561.8 187.5 L560.8 187.4 L559.8 187.2 L558.8 187.1 L557.8 186.9 L556.8 186.8 L555.8 187 L554.8 187.2 L553.8 187.3 L552.8 187.4 L551.8 187.5 L550.8 187.6 L549.8 187.7 L548.8 187.8 L547.8 187.8 L546.8 187.8 L545.8 187.8 L544.8 187.8 L543.8 187.7 L542.8 187.7 L541.8 187.6 L540.8 187.5 L539.8 187.3 L538.8 187.2 L537.8 187 L536.8 186.8 L535.8 186.8 L534.8 187 L533.8 187.2 L532.8 187.3 L531.8 187.5 L530.8 187.6 L529.8 187.6 L528.8 187.7 L527.8 187.8 L526.8 187.8 L525.8 187.8 L524.8 187.8 L523.8 187.8 L522.8 187.7 L521.8 187.6 L520.8 187.5 L519.8 187.4 L518.8 187.3 L517.8 187.2 L516.8 187 L515.8 186.8 L514.8 186.9 L513.8 187.1 L512.8 187.2 L511.8 187.4 L510.8 187.5 L509.8 187.6 L508.8 187.7 L507.8 187.7 L506.8 187.8 L505.8 187.8 L504.8 187.8 L503.8 187.8 L502.8 187.7 L501.8 187.7 L500.8 187.6 L499.8 187.5 L498.8 187.4 L497.8 187.3 L496.8 187.1 L495.8 187 L494.8 186.7 L493.8 186.9 L492.8 187.1 L491.8 187.3 L490.8 187.4 L489.8 187.5 L488.8 187.6 L487.8 187.7 L486.8 187.7 L485.8 187.8 L484.8 187.8 L483.8 187.8 L482.8 187.8 L481.8 187.7 L480.8 187.7 L479.8 187.6 L478.8 187.5 L477.8 187.4 L476.8 187.3 L475.8 187.1 L474.8 186.9 L473.8 186.7 L472.8 187 L471.8 187.1 L470.8 187.3 L469.8 187.4 L468.8 187.5 L467.8 187.6 L466.8 187.7 L465.8 187.7 L464.8 187.8 L463.8 187.8 L462.8 187.8 L461.8 187.8 L460.8 187.7 L459.8 187.7 L458.8 187.6 L457.8 187.5 L456.8 187.4 L455.8 187.2 L454.8 187.1 L453.8 186.9 L452.8 186.8 L451.8 187 L450.8 187.2 L449.8 187.3 L448.8 187.4 L447.8 187.5 L446.8 187.6 L445.8 187.7 L444.8 187.8 L443.8 187.8 L442.8 187.8 L441.8 187.8 L440.8 187.8 L439.8 187.7 L438.8 187.6 L437.8 187.6 L436.8 187.5 L435.8 187.3 L434.8 187.2 L433.8 187 L432.8 186.8 L431.8 186.9 L430.8 187 L429.8 187.2 L428.8 187.3 L427.8 187.5 L426.8 187.6 L425.8 187.7 L424.8 187.7 L423.8 187.8 L422.8 187.8 L421.8 187.8 L420.8 187.8 L419.8 187.8 L418.8 187.7 L417.8 187.6 L416.8 187.5 L415.8 187.4 L414.8 187.3 L413.8 187.2 L412.8 187 L411.8 186.8 L410.8 186.9 L409.8 187.1 L408.8 187.2 L407.8 187.4 L406.8 187.5 L405.8 187.6 L404.8 187.7 L403.8 187.7 L402.8 187.8 L401.8 187.8 L400.8 187.8 L399.8 187.8 L398.8 187.7 L397.8 187.7 L396.8 187.6 L395.8 187.5 L394.8 187.4 L393.8 187.3 L392.8 187.1 L391.8 186.9 L390.8 186.7 L389.8 186.9 L388.8 187.1 L387.8 187.3 L386.8 187.4 L385.8 187.5 L384.8 187.6 L383.8 187.7 L382.8 187.7 L381.8 187.8 L380.8 187.8 L379.8 187.8 L378.8 187.8 L377.8 187.7 L376.8 187.7 L375.8 187.6 L374.8 187.5 L373.8 187.4 L372.8 187.2 L371.8 187.1 L370.8 186.9 L369.8 186.8 L368.8 187 L367.8 187.2 L366.8 187.3 L365.8 187.4 L364.8 187.5 L363.8 187.6 L362.8 187.7 L361.8 187.8 L360.8 187.8 L359.8 187.8 L358.8 187.8 L357.8 187.8 L356.8 187.7 L355.8 187.7 L354.8 187.6 L353.8 187.5 L352.8 187.3 L351.8 187.2 L350.8 187 L349.8 186.9 L348.8 186.8 L347.8 187 L346.8 187.2 L345.8 187.3 L344.8 187.5 L343.8 187.6 L342.8 187.6 L341.8 187.7 L340.8 187.8 L339.8 187.8 L338.8 187.8 L337.8 187.8 L336.8 187.8 L335.8 187.7 L334.8 187.6 L333.8 187.5 L332.8 187.4 L331.8 187.3 L330.8 187.2 L329.8 187 L328.8 186.8 L327.8 186.9 L326.8 187.1 L325.8 187.2 L324.8 187.4 L323.8 187.5 L322.8 187.6 L321.8 187.7 L320.8 187.7 L319.8 187.8 L318.8 187.8 L317.8 187.8 L316.8 187.8 L315.8 187.7 L314.8 187.7 L313.8 187.6 L312.8 187.5 L311.8 187.4 L310.8 187.3 L309.8 187.1 L308.8 187 L307.8 186.7 L306.8 186.9 L305.8 187.1 L304.8 187.3 L303.8 187.4 L302.8 187.5 L301.8 187.6 L300.8 187.7 L299.8 187.7 L298.8 187.8 L297.8 187.8 L296.8 187.8 L295.8 187.8 L294.8 187.7 L293.8 187.7 L292.8 187.6 L291.8 187.5 L290.8 187.4 L289.8 187.3 L288.8 187.1 L287.8 186.9 L286.8 186.7 L285.8 187 L284.8 187.1 L283.8 187.3 L282.8 187.4 L281.8 187.5 L280.8 187.6 L279.8 187.7 L278.8 187.7 L277.8 187.8 L276.8 187.8 L275.8 187.8 L274.8 187.8 L273.8 187.7 L272.8 187.7 L271.8 187.6 L270.8 187.5 L269.8 187.4 L268.8 187.2 L267.8 187.1 L266.8 186.9 L265.8 186.8 L264.8 187 L263.8 187.2 L262.8 187.3 L261.8 187.4 L260.8 187.5 L259.8 187.6 L258.8 187.7 L257.8 187.8 L256.8 187.8 L255.8 187.8 L254.8 187.8 L253.8 187.8 L252.8 187.7 L251.8 187.6 L250.8 187.6 L249.8 187.5 L248.8 187.3 L247.8 187.2 L246.8 187 L245.8 186.8 L244.8 186.8 L243.8 187 L242.8 187.2 L241.8 187.3 L240.8 187.5 L239.8 187.6 L238.8 187.7 L237.8 187.7 L236.8 187.8 L235.8 187.8 L234.8 187.8 L233.8 187.8 L232.8 187.8 L231.8 187.7 L230.8 187.6 L229.8 187.5 L228.8 187.4 L227.8 187.3 L226.8 187.2 L225.8 187 L224.8 186.8 L223.8 186.9 L222.8 187.1 L221.8 187.2 L220.8 187.4 L219.8 187.5 L218.8 187.6 L217.8 187.7 L216.8 187.7 L215.8 187.8 L214.8 187.8 L213.8 187.8 L212.8 187.8 L211.8 187.7 L210.8 187.7 L209.8 187.6 L208.8 187.5 L207.8 187.4 L206.8 187.3 L205.8 187.1 L204.8 186.9 L203.8 186.7 L202.8 186.9 L201.8 187.1 L200.8 187.3 L199.8 187.4 L198.8 187.5 L197.8 187.6 L196.8 187.7 L195.8 187.7 L194.8 187.8 L193.8 187.8 L192.8 187.8 L191.8 187.8 L190.8 187.7 L189.8 187.7 L188.8 187.6 L187.8 187.5 L186.8 187.4 L185.8 187.2 L184.8 187.1 L183.8 186.9 L182.8 186.8 L181.8 187 L180.8 187.1 L179.8 187.3 L178.8 187.4 L177.8 187.5 L176.8 187.6 L175.8 187.7 L174.8 187.8 L173.8 187.8 L172.8 187.8 L171.8 187.8 L170.8 187.8 L169.8 187.7 L168.8 187.7 L167.8 187.6 L166.8 187.5 L165.8 187.3 L164.8 187.2 L163.8 187 L162.8 186.9 L161.8 186.8 L160.8 187 L159.8 187.2 L158.8 187.3 L157.8 187.5 L156.8 187.6 L155.8 187.6 L154.8 187.7 L153.8 187.8 L152.8 187.8 L151.8 187.8 L150.8 187.8 L149.8 187.8 L148.8 187.7 L148 187.6 L147.2 187.6 L146.4 187.5 L145.6 187.5 L144.8 187.4 L144 187.4 L143.2 187.3 L142.4 187.6 L141.7 187.9 L141 188.3 L140.3 188.7 L139.6 189 L138.9 189.4 L138.2 189.7 L137.5 190.1 L136.6 190.5 L135.7 190.9 L134.8 191.3 L133.9 191.7 L132.9 192 L132 192.3 L131 192.6 L130.1 192.9 L129.1 193.2 L128.1 193.4 L127.1 193.6 L126.3 194.2 L125.4 194.8 L124.6 195.4 L123.7 195.9 L122.9 196.5 L122 196.9 L121.1 197.4 L120.2 197.8 L119.3 198.2 L118.3 198.5 L117.4 198.8 L116.4 199.1 L115.4 199.3 L114.4 199.5 L113.4 199.7 L112.5 200.2 L111.7 200.8 L110.8 201.4 L110 201.9 L109.1 202.4 L108.2 202.9 L107.3 203.4 L106.4 203.8 L105.5 204.3 L104.6 204.7 L103.7 205.1 L102.8 205.5 L101.9 205.8 L100.9 206.2 L100 206.5 L99 206.8 L98.1 207.1 L97.1 207.4 L96.1 207.7 L95.1 207.9 L94.2 208.2 L93.3 208.8 L92.5 209.4 L91.6 209.9 L90.8 210.4 L89.9 210.9 L89 211.4 L88.1 211.9 L87.2 212.4 L86.2 212.8 L85.3 213.2 L84.3 213.6 L83.2 214 L82.2 214.4 L81.1 214.7 L80 215 L78.9 215.2 L77.8 215.4 L76.6 215.6 L75.4 215.8 L74.2 215.8 L73.1 216.2 L72 216.6 L70.8 217 L69.6 217.3 L68.5 217.5 L67.3 217.7 L66.1 217.9 L64.8 218 L63.6 218 L62.4 218 L61.2 217.9 L60 217.8 L58.8 217.7 L57.6 217.5 L56.4 217.2 L55.2 216.9 L54.1 216.5 L52.9 216.1 L51.8 215.6 L50.7 215.1 L49.6 214.7 L48.4 214.5 L47.2 214.3 L46.1 214 L44.9 213.6 L43.8 213.2 L42.7 212.7 L41.6 212.2 L40.5 211.6 L39.4 211 L38.4 210.4 L37.4 209.7 L36.4 209 L35.5 208.2 L34.6 207.4 L33.7 206.5 L32.9 205.6 L32.1 204.7 L31.4 203.8 L30.7 202.8 L30 201.8 L29.1 201 L28.2 200.2 L27.3 199.4 L26.5 198.5 L25.7 197.5 L25 196.6 L24.2 195.6 L23.6 194.6 L23 193.5 L22.4 192.5 L21.9 191.4 L21.4 190.3 L21 189.1 L20.6 188 L20.3 186.8 L20 185.6 L19.7 184.4 L19.6 183.2 L19.4 182 L19.4 180.8 L19 179.7 L18.6 178.5 L18.3 177.4 L18 176.2 L17.8 175 L17.6 173.8 L17.5 172.6 L17.4 171.4 L17.4 170.2 L17.4 169 L17.5 167.8 L17.6 166.5 L17.8 165.3 L18.1 164.2 L18.4 163 L18.7 161.8 L19.1 160.7 L19.5 159.5 L20 158.4 L20.6 157.4 L20.9 156.2 L21.1 155 L21.4 153.9 L21.8 152.7 L22.2 151.5 L22.6 150.4 L23.1 149.3 L23.6 148.2 L24.2 147.1 L24.8 146.1 L25.5 145.1 L26.2 144.1 L27 143.2 L27.8 142.2 L28.6 141.4 L29.5 140.5 L30.4 139.7 L31.3 138.9 L32.3 138.2 L33.3 137.6 L34.2 136.8 L35 135.9 L35.8 135 L36.7 134.2 L37.6 133.4 L38.5 132.6 L39.5 131.9 L40.5 131.2 L41.6 130.6 L42.6 130 L43.7 129.4 L44.8 128.9 L45.9 128.5 L47.1 128.1 L48.2 127.7 L49.4 127.4 L50.6 127.2 L51.8 126.9 L53 126.8 L54.2 126.7 L55.4 126.6 L56.5 126.2 L57.7 125.9 L58.9 125.6 L60 125.3 L61.2 125.1 L62.4 125 L63.6 124.9 L64.9 124.8 L66.1 124.8 L67.3 124.9 L68.5 125 L69.7 125.2 L70.9 125.4 L72.1 125.6 L73.2 126 L74.4 126.3 L75.5 126.7 L76.6 127.2 L77.7 127.7 L78.7 128.2 L79.8 128.4 L80.9 128.6 L82 128.9 L83.1 129.1 L84.2 129.4 L85.2 129.7 L86.2 130.1 L87.2 130.5 L88.2 130.8 L89.1 131.2 L90 131.6 L90.9 132.1 L91.8 132.5 L92.7 133 L93.6 133.5 L94.5 134 L95.3 134.5 L96.2 135 L97 135.6 L97.9 136.2 L98.8 136.6 L99.8 136.8 L100.8 137 L101.7 137.3 L102.7 137.6 L103.6 137.9 L104.6 138.2 L105.5 138.6 L106.5 139 L107.4 139.3 L108.3 139.7 L109.2 140.2 L110.1 140.6 L111 141.1 L111.9 141.5 L112.8 142 L113.6 142.5 L114.5 143.1 L115.3 143.6 L116.2 144.2 L117 144.7 L118 144.9 L119 145.2 L120 145.5 L121 145.7 L121.9 146.1 L122.9 146.4 L123.8 146.7 L124.7 147.1 L125.7 147.4 L126.6 147.8 L127.5 148.3 L128.4 148.7 L129.3 149.1 L130.2 149.6 L131.1 150.1 L131.9 150.6 L132.8 151.1 L133.7 151.7 L134.5 152.2 L135.3 152.8 L136.3 153.2 L137.2 153.4 L138 153.6 L138.8 153.7 L139.5 153.9 L140.3 154.1 L141.1 154.2 L141.9 154.3 L142.6 154.4 L143.4 154.6 L144.2 154.7 L144.9 154.8 L145.7 154.8 L146.5 154.9 L147.2 155 L148 155 L148.8 155.1 L149.8 155.2 L150.8 155.2 L151.8 155.3 L152.8 155.4 L153.8 155.5 L154.8 155.6 L155.8 155.8 L156.8 155.9 L157.8 156 L158.8 155.8 L159.8 155.7 L160.8 155.6 L161.8 155.4 L162.8 155.3 L163.8 155.2 L164.8 155.2 L165.8 155.1 L166.8 155.1 L167.8 155 L168.8 155 L169.8 155 L170.8 155 L171.8 155 L172.8 155.1 L173.8 155.2 L174.8 155.2 L175.8 155.3 L176.8 155.4 L177.8 155.5 L178.8 155.7 L179.8 155.8 L180.8 156 L181.8 155.9 L182.8 155.7 L183.8 155.6 L184.8 155.4 L185.8 155.3 L186.8 155.2 L187.8 155.1 L188.8 155.1 L189.8 155 L190.8 155 L191.8 155 L192.8 155 L193.8 155.1 L194.8 155.1 L195.8 155.2 L196.8 155.3 L197.8 155.4 L198.8 155.5 L199.8 155.7 L200.8 155.8 L201.8 156.1 L202.8 155.9 L203.8 155.7 L204.8 155.5 L205.8 155.4 L206.8 155.3 L207.8 155.2 L208.8 155.1 L209.8 155.1 L210.8 155 L211.8 155 L212.8 155 L213.8 155 L214.8 155.1 L215.8 155.1 L216.8 155.2 L217.8 155.3 L218.8 155.4 L219.8 155.6 L220.8 155.7 L221.8 155.9 L222.8 156 L223.8 155.8 L224.8 155.7 L225.8 155.5 L226.8 155.4 L227.8 155.3 L228.8 155.2 L229.8 155.1 L230.8 155.1 L231.8 155 L232.8 155 L233.8 155 L234.8 155 L235.8 155.1 L236.8 155.1 L237.8 155.2 L238.8 155.3 L239.8 155.4 L240.8 155.6 L241.8 155.7 L242.8 155.9 L243.8 156 L244.8 155.8 L245.8 155.6 L246.8 155.5 L247.8 155.4 L248.8 155.2 L249.8 155.2 L250.8 155.1 L251.8 155 L252.8 155 L253.8 155 L254.8 155 L255.8 155 L256.8 155.1 L257.8 155.2 L258.8 155.2 L259.8 155.4 L260.8 155.5 L261.8 155.6 L262.8 155.8 L263.8 156 L264.8 155.9 L265.8 155.8 L266.8 155.6 L267.8 155.5 L268.8 155.3 L269.8 155.2 L270.8 155.1 L271.8 155.1 L272.8 155 L273.8 155 L274.8 155 L275.8 155 L276.8 155 L277.8 155.1 L278.8 155.2 L279.8 155.3 L280.8 155.4 L281.8 155.5 L282.8 155.7 L283.8 155.8 L284.8 156 L285.8 155.9 L286.8 155.7 L287.8 155.6 L288.8 155.4 L289.8 155.3 L290.8 155.2 L291.8 155.1 L292.8 155.1 L293.8 155 L294.8 155 L295.8 155 L296.8 155 L297.8 155.1 L298.8 155.1 L299.8 155.2 L300.8 155.3 L301.8 155.4 L302.8 155.5 L303.8 155.7 L304.8 155.9 L305.8 156.1 L306.8 155.9 L307.8 155.7 L308.8 155.5 L309.8 155.4 L310.8 155.3 L311.8 155.2 L312.8 155.1 L313.8 155.1 L314.8 155 L315.8 155 L316.8 155 L317.8 155 L318.8 155.1 L319.8 155.1 L320.8 155.2 L321.8 155.3 L322.8 155.4 L323.8 155.6 L324.8 155.7 L325.8 155.9 L326.8 156 L327.8 155.8 L328.8 155.6 L329.8 155.5 L330.8 155.4 L331.8 155.3 L332.8 155.2 L333.8 155.1 L334.8 155 L335.8 155 L336.8 155 L337.8 155 L338.8 155 L339.8 155.1 L340.8 155.1 L341.8 155.2 L342.8 155.3 L343.8 155.5 L344.8 155.6 L345.8 155.8 L346.8 156 L347.8 156 L348.8 155.8 L349.8 155.6 L350.8 155.5 L351.8 155.3 L352.8 155.2 L353.8 155.2 L354.8 155.1 L355.8 155 L356.8 155 L357.8 155 L358.8 155 L359.8 155 L360.8 155.1 L361.8 155.2 L362.8 155.3 L363.8 155.4 L364.8 155.5 L365.8 155.6 L366.8 155.8 L367.8 156 L368.8 155.9 L369.8 155.7 L370.8 155.6 L371.8 155.4 L372.8 155.3 L373.8 155.2 L374.8 155.1 L375.8 155.1 L376.8 155 L377.8 155 L378.8 155 L379.8 155 L380.8 155.1 L381.8 155.1 L382.8 155.2 L383.8 155.3 L384.8 155.4 L385.8 155.5 L386.8 155.7 L387.8 155.8 L388.8 156.1 L389.8 155.9 L390.8 155.7 L391.8 155.5 L392.8 155.4 L393.8 155.3 L394.8 155.2 L395.8 155.1 L396.8 155.1 L397.8 155 L398.8 155 L399.8 155 L400.8 155 L401.8 155.1 L402.8 155.1 L403.8 155.2 L404.8 155.3 L405.8 155.4 L406.8 155.5 L407.8 155.7 L408.8 155.9 L409.8 156.1 L410.8 155.8 L411.8 155.7 L412.8 155.5 L413.8 155.4 L414.8 155.3 L415.8 155.2 L416.8 155.1 L417.8 155.1 L418.8 155 L419.8 155 L420.8 155 L421.8 155 L422.8 155.1 L423.8 155.1 L424.8 155.2 L425.8 155.3 L426.8 155.4 L427.8 155.6 L428.8 155.7 L429.8 155.9 L430.8 156 L431.8 155.8 L432.8 155.6 L433.8 155.5 L434.8 155.4 L435.8 155.3 L436.8 155.2 L437.8 155.1 L438.8 155 L439.8 155 L440.8 155 L441.8 155 L442.8 155 L443.8 155.1 L444.8 155.2 L445.8 155.2 L446.8 155.3 L447.8 155.5 L448.8 155.6 L449.8 155.8 L450.8 156 L451.8 155.9 L452.8 155.8 L453.8 155.6 L454.8 155.5 L455.8 155.3 L456.8 155.2 L457.8 155.1 L458.8 155.1 L459.8 155 L460.8 155 L461.8 155 L462.8 155 L463.8 155 L464.8 155.1 L465.8 155.2 L466.8 155.3 L467.8 155.4 L468.8 155.5 L469.8 155.6 L470.8 155.8 L471.8 156 L472.8 155.9 L473.8 155.7 L474.8 155.6 L475.8 155.4 L476.8 155.3 L477.8 155.2 L478.8 155.1 L479.8 155.1 L480.8 155 L481.8 155 L482.8 155 L483.8 155 L484.8 155.1 L485.8 155.1 L486.8 155.2 L487.8 155.3 L488.8 155.4 L489.8 155.5 L490.8 155.7 L491.8 155.9 L492.8 156.1 L493.8 155.9 L494.8 155.7 L495.8 155.5 L496.8 155.4 L497.8 155.3 L498.8 155.2 L499.8 155.1 L500.8 155.1 L501.8 155 L502.8 155 L503.8 155 L504.8 155 L505.8 155.1 L506.8 155.1 L507.8 155.2 L508.8 155.3 L509.8 155.4 L510.8 155.6 L511.8 155.7 L512.8 155.9 L513.8 156 L514.8 155.8 L515.8 155.6 L516.8 155.5 L517.8 155.4 L518.8 155.3 L519.8 155.2 L520.8 155.1 L521.8 155 L522.8 155 L523.8 155 L524.8 155 L525.8 155 L526.8 155.1 L527.8 155.1 L528.8 155.2 L529.8 155.3 L530.8 155.5 L531.8 155.6 L532.8 155.8 L533.8 155.9 L534.8 156 L535.8 155.8 L536.8 155.6 L537.8 155.5 L538.8 155.3 L539.8 155.2 L540.8 155.2 L541.8 155.1 L542.8 155 L543.8 155 L544.8 155 L545.8 155 L546.8 155 L547.8 155.1 L548.8 155.2 L549.8 155.3 L550.8 155.4 L551.8 155.5 L552.8 155.6 L553.8 155.8 L554.8 156 L555.8 155.9 L556.8 155.7 L557.8 155.6 L558.8 155.4 L559.8 155.3 L560.8 155.2 L561.8 155.1 L562.8 155.1 L563.8 155 L564.8 155 L565.8 155 L566.8 155 L567.8 155.1 L568.8 155.1 L569.8 155.2 L570.8 155.3 L571.8 155.4 L572.8 155.5 L573.8 155.7 L574.8 155.8 L575.8 156.1 L576.8 155.9 L577.8 155.7 L578.8 155.5 L579.8 155.4 L580.8 155.3" fill="none" stroke="#242424" stroke-width="1.12" stroke-linejoin="round"/>
<rect x="741.1999999999999" y="180.0" width="5" height="9.6" fill="#fff"/>
<path d="M742.3 171.9 Q743.8 171.9 743.8 173.4 V179.9" stroke="#242424" stroke-width="1" fill="none"/>
<ellipse cx="740.0" cy="183.9" rx="2.5" ry="3.5" fill="#fff" stroke="#242424" stroke-width="0.9"/>
<rect x="580.8" y="153.5" width="72.0" height="18.0" rx="1.2" fill="#fbfbfb" stroke="#3a3a3a" stroke-width="1"/>
<path d="M583.8 153.8V171.5 M586.8 153.8V171.5 M589.8 153.8V171.5 M592.8 153.8V171.5 M595.8 153.8V171.5 M598.8 153.8V171.5 M601.8 153.8V171.5 M604.8 153.8V171.5 M607.8 153.8V171.5 M610.8 153.8V171.5 M613.8 153.8V171.5 M616.8 153.8V171.5 M619.8 153.8V171.5 M622.8 153.8V171.5 M625.8 153.8V171.5 M628.8 153.8V171.5 M631.8 153.8V171.5 M634.8 153.8V171.5 M637.8 153.8V171.5 M640.8 153.8V171.5 M643.8 153.8V171.5 M646.8 153.8V171.5 M649.8 153.8V171.5" stroke="#3a3a3a" stroke-width="1.05" fill="none"/>
<path d="M112.2 170.9 L129 170.9 A4.7 4.7 0 0 0 131.2 162 L83.2 137.2 A38.5 38.5 0 1 0 83.2 205.6 L131.2 180.8 A4.7 4.7 0 0 0 129 171.9 L112.2 171.9 Z M111.2 171.4 L76.3 152 A22.2 22.2 0 1 0 76.3 190.8 Z" fill="#939498" fill-rule="evenodd" stroke="#1e1e1e" stroke-width="1.4" stroke-linejoin="round"/>
<path d="M122 168.2 L81.4 144.4 A31.4 31.4 0 1 0 81.4 198.4 L122 174.6" fill="none" stroke="#4c4c50" stroke-width="0.9" stroke-dasharray="10 5" stroke-dashoffset="3"/>
<path d="M113.2 171.4 H132" stroke="#cfcfcf" stroke-width="0.7" fill="none"/>
<path d="M149.8 179.4 V154.4 A5.2 5.2 0 0 1 160.2 154.4 V179.4 Z" fill="#e9e9e9" stroke="#7e7e7e" stroke-width="1.05"/>
<rect x="149.5" y="178.9" width="11.0" height="8.6" fill="#8d8d8f"/>
<path d="M149.4 197.4 V207.0 Q149.4 208.2 150.6 208.2 H159.4 Q160.6 208.2 160.6 207.0 V197.4 Z" fill="#e9e9e9" stroke="#7e7e7e" stroke-width="1.05"/>
<path d="M142.8 182.8 H148.8 V187.6 H161.2 V182.8 H167.2 V187.6 L168.4 198.20000000000002 H141.4 L142.8 187.6 Z" fill="#7a7b7e" stroke="#4a4a4a" stroke-width="0.9" stroke-linejoin="round"/>
<path d="M143.2 183.20000000000002 H148.4 V187.6 H143.2 Z M161.6 183.20000000000002 H166.8 V187.6 H161.6 Z" fill="#8f9093"/>
<path d="M142.8 187.6 H167.2" stroke="#4a4a4a" stroke-width="0.8"/>
<path d="M336.40000000000003 179.4 V154.4 A5.2 5.2 0 0 1 346.8 154.4 V179.4 Z" fill="#e9e9e9" stroke="#7e7e7e" stroke-width="1.05"/>
<rect x="336.1" y="178.9" width="11.0" height="8.6" fill="#8d8d8f"/>
<path d="M336.0 197.4 V207.0 Q336.0 208.2 337.20000000000005 208.2 H346.0 Q347.20000000000005 208.2 347.20000000000005 207.0 V197.4 Z" fill="#e9e9e9" stroke="#7e7e7e" stroke-width="1.05"/>
<path d="M329.40000000000003 182.8 H335.40000000000003 V187.6 H347.8 V182.8 H353.8 V187.6 L355.0 198.20000000000002 H328.0 L329.40000000000003 187.6 Z" fill="#7a7b7e" stroke="#4a4a4a" stroke-width="0.9" stroke-linejoin="round"/>
<path d="M329.8 183.20000000000002 H335.0 V187.6 H329.8 Z M348.20000000000005 183.20000000000002 H353.40000000000003 V187.6 H348.20000000000005 Z" fill="#8f9093"/>
<path d="M329.40000000000003 187.6 H353.8" stroke="#4a4a4a" stroke-width="0.8"/>
<path d="M523.4 179.4 V154.4 A5.2 5.2 0 0 1 533.8000000000001 154.4 V179.4 Z" fill="#e9e9e9" stroke="#7e7e7e" stroke-width="1.05"/>
<rect x="523.1" y="178.9" width="11.0" height="8.6" fill="#8d8d8f"/>
<path d="M523.0 197.4 V207.0 Q523.0 208.2 524.2 208.2 H533.0 Q534.2 208.2 534.2 207.0 V197.4 Z" fill="#e9e9e9" stroke="#7e7e7e" stroke-width="1.05"/>
<path d="M516.4 182.8 H522.4 V187.6 H534.8000000000001 V182.8 H540.8000000000001 V187.6 L542.0 198.20000000000002 H515.0 L516.4 187.6 Z" fill="#7a7b7e" stroke="#4a4a4a" stroke-width="0.9" stroke-linejoin="round"/>
<path d="M516.8000000000001 183.20000000000002 H522.0 V187.6 H516.8000000000001 Z M535.2 183.20000000000002 H540.4 V187.6 H535.2 Z" fill="#8f9093"/>
<path d="M516.4 187.6 H540.8000000000001" stroke="#4a4a4a" stroke-width="0.8"/>
</g>
<g transform="translate(7.0 169.2)">
<path d="M742.3 178.8 L739.1 180.3 L735.9 181.7 L732.8 183.1 L729.6 184.4 L726.4 185.6 L723.3 186.7 M737.3 172.4 L734.1 173.5 L731 174.7 L727.8 176 L724.6 177.4 L721.5 178.8 L718.3 180.3 L715.2 181.7 L712 183.1 L708.8 184.4 L705.7 185.6 L702.5 186.7 M716.5 172.4 L713.4 173.5 L710.2 174.7 L707 176 L703.9 177.4 L700.7 178.8 L697.5 180.3 L694.4 181.7 L691.2 183.1 L688 184.4 L684.9 185.6 L681.7 186.7 M695.7 172.4 L692.6 173.5 L689.4 174.7 L686.2 176 L683.1 177.4 L679.9 178.8 L676.8 180.3 L673.6 181.7 L670.4 183.1 L667.3 184.4 L664.1 185.6 L660.9 186.7 M675 172.4 L671.8 173.5 L668.6 174.7 L665.5 176 L662.3 177.4 L659.1 178.8 L656 180.3 L652.8 181.7 L649.7 183.1 L646.5 184.4 L643.3 185.6 L640.2 186.7 M654.2 172.4 L651 173.5 L647.9 174.7 L644.7 176 L641.5 177.4 L638.4 178.8 L635.2 180.3 L632 181.7 L628.9 183.1 L625.7 184.4 L622.5 185.6 L619.4 186.7 M633.4 172.4 L630.2 173.5 L627.1 174.7 L623.9 176 L620.7 177.4 L617.6 178.8 L614.4 180.3 L611.3 181.7 L608.1 183.1 L604.9 184.4 L601.8 185.6 L598.6 186.7 M612.6 172.4 L609.5 173.5 L606.3 174.7 L603.1 176 L600 177.4 L596.8 178.8 L593.6 180.3 L590.5 181.7 L587.3 183.1 L584.1 184.4 L581 185.6 L577.8 186.7 M591.8 172.4 L588.7 173.5 L585.5 174.7 L582.3 176 L579.2 177.4 L576 178.8 L572.9 180.3 L569.7 181.7 L566.5 183.1 L563.4 184.4 L560.2 185.6 L557 186.7 M571.1 172.4 L567.9 173.5 L564.7 174.7 L561.6 176 L558.4 177.4 L555.2 178.8 L552.1 180.3 L548.9 181.7 L545.8 183.1 L542.6 184.4 L539.4 185.6 L536.3 186.7 M550.3 172.4 L547.1 173.5 L544 174.7 L540.8 176 L537.6 177.4 L534.5 178.8 L531.3 180.3 L528.1 181.7 L525 183.1 L521.8 184.4 L518.6 185.6 L515.5 186.7 M529.5 172.4 L526.3 173.5 L523.2 174.7 L520 176 L516.8 177.4 L513.7 178.8 L510.5 180.3 L507.4 181.7 L504.2 183.1 L501 184.4 L497.9 185.6 L494.7 186.7 M508.7 172.4 L505.6 173.5 L502.4 174.7 L499.2 176 L496.1 177.4 L492.9 178.8 L489.7 180.3 L486.6 181.7 L483.4 183.1 L480.2 184.4 L477.1 185.6 L473.9 186.7 M487.9 172.4 L484.8 173.5 L481.6 174.7 L478.4 176 L475.3 177.4 L472.1 178.8 L469 180.3 L465.8 181.7 L462.6 183.1 L459.5 184.4 L456.3 185.6 L453.1 186.7 M467.2 172.4 L464 173.5 L460.8 174.7 L457.7 176 L454.5 177.4 L451.3 178.8 L448.2 180.3 L445 181.7 L441.9 183.1 L438.7 184.4 L435.5 185.6 L432.4 186.7 M446.4 172.4 L443.2 173.5 L440.1 174.7 L436.9 176 L433.7 177.4 L430.6 178.8 L427.4 180.3 L424.2 181.7 L421.1 183.1 L417.9 184.4 L414.7 185.6 L411.6 186.7 M425.6 172.4 L422.4 173.5 L419.3 174.7 L416.1 176 L412.9 177.4 L409.8 178.8 L406.6 180.3 L403.5 181.7 L400.3 183.1 L397.1 184.4 L394 185.6 L390.8 186.7 M404.8 172.4 L401.7 173.5 L398.5 174.7 L395.3 176 L392.2 177.4 L389 178.8 L385.8 180.3 L382.7 181.7 L379.5 183.1 L376.3 184.4 L373.2 185.6 L370 186.7 M384 172.4 L380.9 173.5 L377.7 174.7 L374.5 176 L371.4 177.4 L368.2 178.8 L365.1 180.3 L361.9 181.7 L358.7 183.1 L355.6 184.4 L352.4 185.6 L349.2 186.7 M363.3 172.4 L360.1 173.5 L356.9 174.7 L353.8 176 L350.6 177.4 L347.4 178.8 L344.3 180.3 L341.1 181.7 L338 183.1 L334.8 184.4 L331.6 185.6 L328.5 186.7 M342.5 172.4 L339.3 173.5 L336.2 174.7 L333 176 L329.8 177.4 L326.7 178.8 L323.5 180.3 L320.3 181.7 L317.2 183.1 L314 184.4 L310.8 185.6 L307.7 186.7 M321.7 172.4 L318.5 173.5 L315.4 174.7 L312.2 176 L309 177.4 L305.9 178.8 L302.7 180.3 L299.6 181.7 L296.4 183.1 L293.2 184.4 L290.1 185.6 L286.9 186.7 M300.9 172.4 L297.8 173.5 L294.6 174.7 L291.4 176 L288.3 177.4 L285.1 178.8 L281.9 180.3 L278.8 181.7 L275.6 183.1 L272.4 184.4 L269.3 185.6 L266.1 186.7 M280.1 172.4 L277 173.5 L273.8 174.7 L270.6 176 L267.5 177.4 L264.3 178.8 L261.2 180.3 L258 181.7 L254.8 183.1 L251.7 184.4 L248.5 185.6 L245.3 186.7 M259.4 172.4 L256.2 173.5 L253 174.7 L249.9 176 L246.7 177.4 L243.5 178.8 L240.4 180.3 L237.2 181.7 L234.1 183.1 L230.9 184.4 L227.7 185.6 L224.6 186.7 M238.6 172.4 L235.4 173.5 L232.3 174.7 L229.1 176 L225.9 177.4 L222.8 178.8 L219.6 180.3 L216.4 181.7 L213.3 183.1 L210.1 184.4 L206.9 185.6 L203.8 186.7 M217.8 172.4 L214.6 173.5 L211.5 174.7 L208.3 176 L205.1 177.4 L202 178.8 L198.8 180.3 L195.7 181.7 L192.5 183.1 L189.3 184.4 L186.2 185.6 L183 186.7 M197 172.4 L193.9 173.5 L190.7 174.7 L187.5 176 L184.4 177.4 L181.2 178.8 L178 180.3 L174.9 181.7 L171.7 183.1 L168.5 184.4 L165.4 185.6 L162.2 186.7 M176.2 172.4 L173.1 173.5 L169.9 174.7 L166.7 176 L163.6 177.4 L160.4 178.8 L157.3 180.3 L154.1 181.7 L150.9 183.1 L147.9 184.4 L145.3 185.8 L142.9 187.3 M155.5 172.4 L152.5 173.5 L149.5 174.7 L146.3 176.3 L143.3 178.3 L140.6 180.6 L138.3 183 L136.2 185.4 L134.1 187.7 L131.7 189.8 L129.3 191.8 L126.9 193.6 M133.7 178.7 L131.9 181.1 L130.2 183.3 L128.4 185.4 L126.6 187.3 L124.7 189.2 L122.9 191 L121 192.8 L119.1 194.6 L117.2 196.3 L115.2 198 L113.3 199.7 M115.5 188.9 L113.5 190.5 L111.6 192.2 L109.7 193.9 L107.8 195.7 L105.9 197.5 L104 199.4 L102.1 201.2 L100.3 203 L98.3 204.7 L96.4 206.4 L94.4 208 M96.8 197.2 L94.8 198.8 L92.8 200.5 L90.9 202.2 L89 204 L87.2 205.8 L85.3 207.7 L83.3 209.5 L81.2 211.2 L79 212.9 L76.6 214.4 L74 215.8 M78.1 205.2 L76.1 206.7 L74 208.1 L71.8 209.4 L69.5 210.7 L67 211.9 L64.4 212.9 L61.7 213.8 L58.9 214.4 L56 214.8 L53.1 214.9 L50.1 214.8 M59 207.7 L56.6 208 L54.1 208.1 L51.5 208.2 L48.9 208.1 L46.1 207.9 L43.4 207.4 L40.6 206.8 L37.9 205.9 L35.2 204.8 L32.6 203.4 L30.1 201.8 M41.5 200.2 L39.2 199.2 L36.9 198.1 L34.7 196.9 L32.4 195.5 L30.2 193.9 L28 192.1 L26 190.2 L24 188.1 L22.3 185.7 L20.8 183.2 L19.4 180.6 M30 185 L28.5 183 L27.2 180.9 L25.8 178.6 L24.6 176.3 L23.5 173.8 L22.5 171.2 L21.7 168.5 L21.1 165.7 L20.8 162.8 L20.7 159.9 L20.8 156.9 M27.8 166 L27.5 163.6 L27.4 161.1 L27.4 158.5 L27.5 155.8 L27.7 153.1 L28.2 150.4 L28.9 147.6 L29.8 144.9 L30.9 142.2 L32.3 139.7 L34 137.2 M35.4 148.6 L36.4 146.3 L37.6 144.1 L38.8 141.8 L40.3 139.6 L41.9 137.4 L43.6 135.2 L45.6 133.2 L47.8 131.3 L50.1 129.6 L52.6 128 L55.3 126.7 M50.8 137.3 L52.8 135.8 L54.9 134.5 L57.2 133.2 L59.5 132 L62 130.8 L64.6 129.9 L67.3 129.1 L70.2 128.6 L73.1 128.3 L76 128.2 L78.8 128.3 M69.8 135.3 L72.3 135 L74.8 134.9 L77.4 134.9 L80 134.9 L82.7 135 L85.3 135.2 L88 135.3 L90.6 135.5 L93.1 135.8 L95.7 136.1 L98.2 136.5 M88.5 142 L91.1 142.3 L93.6 142.6 L96.2 142.9 L98.8 143.1 L101.4 143.3 L104 143.4 L106.6 143.6 L109.2 143.8 L111.8 144.1 L114.3 144.4 L116.8 144.7 M107.2 150.2 L109.8 150.6 L112.3 150.9 L114.9 151.2 L117.5 151.4 L120.1 151.6 L122.7 151.7 L125.3 151.9 L127.9 152.1 L130.4 152.4 L133 152.7 L135.5 153 M126 158.6 L128.8 159.5 L131.6 160.4 L134.4 161.3 L137.3 161.9 L140.3 162 L143.3 161.7 L146.1 160.8 L148.9 159.7 L151.8 158.4 L154.7 157.2 L157.6 156.1 M145.9 170 L149.5 169.3 L152.6 168.1 L155.8 166.8 L159 165.4 L162.1 164 L165.3 162.5 L168.5 161.1 L171.6 159.7 L174.8 158.4 L177.9 157.2 L181.1 156.1 M167.1 170.4 L170.2 169.3 L173.4 168.1 L176.6 166.8 L179.7 165.4 L182.9 164 L186.1 162.5 L189.2 161.1 L192.4 159.7 L195.6 158.4 L198.7 157.2 L201.9 156.1 M187.9 170.4 L191 169.3 L194.2 168.1 L197.4 166.8 L200.5 165.4 L203.7 164 L206.8 162.5 L210 161.1 L213.2 159.7 L216.3 158.4 L219.5 157.2 L222.7 156.1 M208.6 170.4 L211.8 169.3 L215 168.1 L218.1 166.8 L221.3 165.4 L224.5 164 L227.6 162.5 L230.8 161.1 L234 159.7 L237.1 158.4 L240.3 157.2 L243.4 156.1 M229.4 170.4 L232.6 169.3 L235.8 168.1 L238.9 166.8 L242.1 165.4 L245.2 164 L248.4 162.5 L251.6 161.1 L254.7 159.7 L257.9 158.4 L261.1 157.2 L264.2 156.1 M250.2 170.4 L253.4 169.3 L256.5 168.1 L259.7 166.8 L262.9 165.4 L266 164 L269.2 162.5 L272.4 161.1 L275.5 159.7 L278.7 158.4 L281.8 157.2 L285 156.1 M271 170.4 L274.1 169.3 L277.3 168.1 L280.5 166.8 L283.6 165.4 L286.8 164 L290 162.5 L293.1 161.1 L296.3 159.7 L299.5 158.4 L302.6 157.2 L305.8 156.1 M291.8 170.4 L294.9 169.3 L298.1 168.1 L301.3 166.8 L304.4 165.4 L307.6 164 L310.7 162.5 L313.9 161.1 L317.1 159.7 L320.2 158.4 L323.4 157.2 L326.6 156.1 M312.5 170.4 L315.7 169.3 L318.9 168.1 L322 166.8 L325.2 165.4 L328.4 164 L331.5 162.5 L334.7 161.1 L337.9 159.7 L341 158.4 L344.2 157.2 L347.3 156.1 M333.3 170.4 L336.5 169.3 L339.7 168.1 L342.8 166.8 L346 165.4 L349.1 164 L352.3 162.5 L355.5 161.1 L358.6 159.7 L361.8 158.4 L365 157.2 L368.1 156.1 M354.1 170.4 L357.3 169.3 L360.4 168.1 L363.6 166.8 L366.8 165.4 L369.9 164 L373.1 162.5 L376.3 161.1 L379.4 159.7 L382.6 158.4 L385.7 157.2 L388.9 156.1 M374.9 170.4 L378 169.3 L381.2 168.1 L384.4 166.8 L387.5 165.4 L390.7 164 L393.9 162.5 L397 161.1 L400.2 159.7 L403.4 158.4 L406.5 157.2 L409.7 156.1 M395.7 170.4 L398.8 169.3 L402 168.1 L405.2 166.8 L408.3 165.4 L411.5 164 L414.6 162.5 L417.8 161.1 L421 159.7 L424.1 158.4 L427.3 157.2 L430.5 156.1 M416.4 170.4 L419.6 169.3 L422.8 168.1 L425.9 166.8 L429.1 165.4 L432.3 164 L435.4 162.5 L438.6 161.1 L441.8 159.7 L444.9 158.4 L448.1 157.2 L451.2 156.1 M437.2 170.4 L440.4 169.3 L443.6 168.1 L446.7 166.8 L449.9 165.4 L453 164 L456.2 162.5 L459.4 161.1 L462.5 159.7 L465.7 158.4 L468.9 157.2 L472 156.1 M458 170.4 L461.2 169.3 L464.3 168.1 L467.5 166.8 L470.7 165.4 L473.8 164 L477 162.5 L480.2 161.1 L483.3 159.7 L486.5 158.4 L489.6 157.2 L492.8 156.1 M478.8 170.4 L481.9 169.3 L485.1 168.1 L488.3 166.8 L491.4 165.4 L494.6 164 L497.8 162.5 L500.9 161.1 L504.1 159.7 L507.3 158.4 L510.4 157.2 L513.6 156.1 M499.6 170.4 L502.7 169.3 L505.9 168.1 L509.1 166.8 L512.2 165.4 L515.4 164 L518.5 162.5 L521.7 161.1 L524.9 159.7 L528 158.4 L531.2 157.2 L534.4 156.1 M520.3 170.4 L523.5 169.3 L526.7 168.1 L529.8 166.8 L533 165.4 L536.2 164 L539.3 162.5 L542.5 161.1 L545.7 159.7 L548.8 158.4 L552 157.2 L555.1 156.1 M541.1 170.4 L544.3 169.3 L547.5 168.1 L550.6 166.8 L553.8 165.4 L556.9 164 L560.1 162.5 L563.3 161.1 L566.4 159.7 L569.6 158.4 L572.8 157.2 L575.9 156.1 M561.9 170.4 L565.1 169.3 L568.2 168.1 L571.4 166.8 L574.6 165.4 L577.7 164 L580.9 162.5 M743.8 171.5 L742.8 171.5 L741.8 171.6 L740.8 171.8 L739.8 171.9 L738.8 172.1 L737.8 172.3 L736.8 172.3 L735.8 172.1 L734.8 171.9 L733.8 171.8 L732.8 171.6 L731.8 171.5 L730.8 171.5 L729.8 171.4 L728.8 171.3 L727.8 171.3 L726.8 171.3 L725.8 171.3 L724.8 171.3 L723.8 171.4 L722.8 171.5 L721.8 171.6 L720.8 171.7 L719.8 171.8 L718.8 171.9 L717.8 172.1 L716.8 172.3 L715.8 172.2 L714.8 172 L713.8 171.9 L712.8 171.7 L711.8 171.6 L710.8 171.5 L709.8 171.4 L708.8 171.4 L707.8 171.3 L706.8 171.3 L705.8 171.3 L704.8 171.3 L703.8 171.4 L702.8 171.4 L701.8 171.5 L700.8 171.6 L699.8 171.7 L698.8 171.8 L697.8 172 L696.8 172.1 L695.8 172.4 L694.8 172.2 L693.8 172 L692.8 171.8 L691.8 171.7 L690.8 171.6 L689.8 171.5 L688.8 171.4 L687.8 171.4 L686.8 171.3 L685.8 171.3 L684.8 171.3 L683.8 171.3 L682.8 171.4 L681.8 171.4 L680.8 171.5 L679.8 171.6 L678.8 171.7 L677.8 171.9 L676.8 172 L675.8 172.2 L674.8 172.3 L673.8 172.1 L672.8 172 L671.8 171.8 L670.8 171.7 L669.8 171.6 L668.8 171.5 L667.8 171.4 L666.8 171.3 L665.8 171.3 L664.8 171.3 L663.8 171.3 L662.8 171.3 L661.8 171.4 L660.8 171.4 L659.8 171.5 L658.8 171.6 L657.8 171.7 L656.8 171.9 L655.8 172 L654.8 172.2 L653.8 172.3 L652.8 172.1 L651.8 171.9 L650.8 171.8 L649.8 171.7 L648.8 171.5 L647.8 171.5 L646.8 171.4 L645.8 171.3 L644.8 171.3 L643.8 171.3 L642.8 171.3 L641.8 171.3 L640.8 171.4 L639.8 171.5 L638.8 171.5 L637.8 171.7 L636.8 171.8 L635.8 171.9 L634.8 172.1 L633.8 172.3 L632.8 172.2 L631.8 172 L630.8 171.9 L629.8 171.8 L628.8 171.6 L627.8 171.5 L626.8 171.4 L625.8 171.4 L624.8 171.3 L623.8 171.3 L622.8 171.3 L621.8 171.3 L620.8 171.3 L619.8 171.4 L618.8 171.5 L617.8 171.6 L616.8 171.7 L615.8 171.8 L614.8 172 L613.8 172.1 L612.8 172.3 L611.8 172.2 L610.8 172 L609.8 171.9 L608.8 171.7 L607.8 171.6 L606.8 171.5 L605.8 171.4 L604.8 171.4 L603.8 171.3 L602.8 171.3 L601.8 171.3 L600.8 171.3 L599.8 171.4 L598.8 171.4 L597.8 171.5 L596.8 171.6 L595.8 171.7 L594.8 171.8 L593.8 172 L592.8 172.2 L591.8 172.4 L590.8 172.2 L589.8 172 L588.8 171.8 L587.8 171.7 L586.8 171.6 L585.8 171.5 L584.8 171.4 L583.8 171.4 L582.8 171.3 L581.8 171.3 L580.8 171.3 L579.8 171.3 L578.8 171.4 L577.8 171.4 L576.8 171.5 L575.8 171.6 L574.8 171.7 L573.8 171.9 L572.8 172 L571.8 172.2 L570.8 172.3 L569.8 172.1 L568.8 171.9 L567.8 171.8 L566.8 171.7 L565.8 171.6 L564.8 171.5 L563.8 171.4 L562.8 171.3 L561.8 171.3 L560.8 171.3 L559.8 171.3 L558.8 171.3 L557.8 171.4 L556.8 171.4 L555.8 171.5 L554.8 171.6 L553.8 171.8 L552.8 171.9 L551.8 172.1 L550.8 172.3 L549.8 172.3 L548.8 172.1 L547.8 171.9 L546.8 171.8 L545.8 171.6 L544.8 171.5 L543.8 171.5 L542.8 171.4 L541.8 171.3 L540.8 171.3 L539.8 171.3 L538.8 171.3 L537.8 171.3 L536.8 171.4 L535.8 171.5 L534.8 171.6 L533.8 171.7 L532.8 171.8 L531.8 171.9 L530.8 172.1 L529.8 172.3 L528.8 172.2 L527.8 172 L526.8 171.9 L525.8 171.7 L524.8 171.6 L523.8 171.5 L522.8 171.4 L521.8 171.4 L520.8 171.3 L519.8 171.3 L518.8 171.3 L517.8 171.3 L516.8 171.4 L515.8 171.4 L514.8 171.5 L513.8 171.6 L512.8 171.7 L511.8 171.8 L510.8 172 L509.8 172.1 L508.8 172.4 L507.8 172.2 L506.8 172 L505.8 171.8 L504.8 171.7 L503.8 171.6 L502.8 171.5 L501.8 171.4 L500.8 171.4 L499.8 171.3 L498.8 171.3 L497.8 171.3 L496.8 171.3 L495.8 171.4 L494.8 171.4 L493.8 171.5 L492.8 171.6 L491.8 171.7 L490.8 171.9 L489.8 172 L488.8 172.2 L487.8 172.3 L486.8 172.1 L485.8 172 L484.8 171.8 L483.8 171.7 L482.8 171.6 L481.8 171.5 L480.8 171.4 L479.8 171.4 L478.8 171.3 L477.8 171.3 L476.8 171.3 L475.8 171.3 L474.8 171.4 L473.8 171.4 L472.8 171.5 L471.8 171.6 L470.8 171.7 L469.8 171.9 L468.8 172 L467.8 172.2 L466.8 172.3 L465.8 172.1 L464.8 171.9 L463.8 171.8 L462.8 171.7 L461.8 171.5 L460.8 171.5 L459.8 171.4 L458.8 171.3 L457.8 171.3 L456.8 171.3 L455.8 171.3 L454.8 171.3 L453.8 171.4 L452.8 171.5 L451.8 171.5 L450.8 171.6 L449.8 171.8 L448.8 171.9 L447.8 172.1 L446.8 172.3 L445.8 172.2 L444.8 172.1 L443.8 171.9 L442.8 171.8 L441.8 171.6 L440.8 171.5 L439.8 171.4 L438.8 171.4 L437.8 171.3 L436.8 171.3 L435.8 171.3 L434.8 171.3 L433.8 171.3 L432.8 171.4 L431.8 171.5 L430.8 171.6 L429.8 171.7 L428.8 171.8 L427.8 172 L426.8 172.1 L425.8 172.3 L424.8 172.2 L423.8 172 L422.8 171.9 L421.8 171.7 L420.8 171.6 L419.8 171.5 L418.8 171.4 L417.8 171.4 L416.8 171.3 L415.8 171.3 L414.8 171.3 L413.8 171.3 L412.8 171.4 L411.8 171.4 L410.8 171.5 L409.8 171.6 L408.8 171.7 L407.8 171.8 L406.8 172 L405.8 172.2 L404.8 172.4 L403.8 172.2 L402.8 172 L401.8 171.8 L400.8 171.7 L399.8 171.6 L398.8 171.5 L397.8 171.4 L396.8 171.4 L395.8 171.3 L394.8 171.3 L393.8 171.3 L392.8 171.3 L391.8 171.4 L390.8 171.4 L389.8 171.5 L388.8 171.6 L387.8 171.7 L386.8 171.9 L385.8 172 L384.8 172.2 L383.8 172.3 L382.8 172.1 L381.8 171.9 L380.8 171.8 L379.8 171.7 L378.8 171.6 L377.8 171.5 L376.8 171.4 L375.8 171.3 L374.8 171.3 L373.8 171.3 L372.8 171.3 L371.8 171.3 L370.8 171.4 L369.8 171.4 L368.8 171.5 L367.8 171.6 L366.8 171.8 L365.8 171.9 L364.8 172.1 L363.8 172.3 L362.8 172.3 L361.8 172.1 L360.8 171.9 L359.8 171.8 L358.8 171.6 L357.8 171.5 L356.8 171.5 L355.8 171.4 L354.8 171.3 L353.8 171.3 L352.8 171.3 L351.8 171.3 L350.8 171.3 L349.8 171.4 L348.8 171.5 L347.8 171.6 L346.8 171.7 L345.8 171.8 L344.8 171.9 L343.8 172.1 L342.8 172.3 L341.8 172.2 L340.8 172 L339.8 171.9 L338.8 171.7 L337.8 171.6 L336.8 171.5 L335.8 171.4 L334.8 171.4 L333.8 171.3 L332.8 171.3 L331.8 171.3 L330.8 171.3 L329.8 171.4 L328.8 171.4 L327.8 171.5 L326.8 171.6 L325.8 171.7 L324.8 171.8 L323.8 172 L322.8 172.1 L321.8 172.4 L320.8 172.2 L319.8 172 L318.8 171.8 L317.8 171.7 L316.8 171.6 L315.8 171.5 L314.8 171.4 L313.8 171.4 L312.8 171.3 L311.8 171.3 L310.8 171.3 L309.8 171.3 L308.8 171.4 L307.8 171.4 L306.8 171.5 L305.8 171.6 L304.8 171.7 L303.8 171.8 L302.8 172 L301.8 172.2 L300.8 172.4 L299.8 172.1 L298.8 172 L297.8 171.8 L296.8 171.7 L295.8 171.6 L294.8 171.5 L293.8 171.4 L292.8 171.4 L291.8 171.3 L290.8 171.3 L289.8 171.3 L288.8 171.3 L287.8 171.4 L286.8 171.4 L285.8 171.5 L284.8 171.6 L283.8 171.7 L282.8 171.9 L281.8 172 L280.8 172.2 L279.8 172.3 L278.8 172.1 L277.8 171.9 L276.8 171.8 L275.8 171.7 L274.8 171.6 L273.8 171.5 L272.8 171.4 L271.8 171.3 L270.8 171.3 L269.8 171.3 L268.8 171.3 L267.8 171.3 L266.8 171.4 L265.8 171.5 L264.8 171.5 L263.8 171.6 L262.8 171.8 L261.8 171.9 L260.8 172.1 L259.8 172.3 L258.8 172.2 L257.8 172.1 L256.8 171.9 L255.8 171.8 L254.8 171.6 L253.8 171.5 L252.8 171.4 L251.8 171.4 L250.8 171.3 L249.8 171.3 L248.8 171.3 L247.8 171.3 L246.8 171.3 L245.8 171.4 L244.8 171.5 L243.8 171.6 L242.8 171.7 L241.8 171.8 L240.8 171.9 L239.8 172.1 L238.8 172.3 L237.8 172.2 L236.8 172 L235.8 171.9 L234.8 171.7 L233.8 171.6 L232.8 171.5 L231.8 171.4 L230.8 171.4 L229.8 171.3 L228.8 171.3 L227.8 171.3 L226.8 171.3 L225.8 171.4 L224.8 171.4 L223.8 171.5 L222.8 171.6 L221.8 171.7 L220.8 171.8 L219.8 172 L218.8 172.2 L217.8 172.4 L216.8 172.2 L215.8 172 L214.8 171.8 L213.8 171.7 L212.8 171.6 L211.8 171.5 L210.8 171.4 L209.8 171.4 L208.8 171.3 L207.8 171.3 L206.8 171.3 L205.8 171.3 L204.8 171.4 L203.8 171.4 L202.8 171.5 L201.8 171.6 L200.8 171.7 L199.8 171.9 L198.8 172 L197.8 172.2 L196.8 172.3 L195.8 172.1 L194.8 171.9 L193.8 171.8 L192.8 171.7 L191.8 171.6 L190.8 171.5 L189.8 171.4 L188.8 171.3 L187.8 171.3 L186.8 171.3 L185.8 171.3 L184.8 171.3 L183.8 171.4 L182.8 171.4 L181.8 171.5 L180.8 171.6 L179.8 171.8 L178.8 171.9 L177.8 172.1 L176.8 172.2 L175.8 172.3 L174.8 172.1 L173.8 171.9 L172.8 171.8 L171.8 171.6 L170.8 171.5 L169.8 171.5 L168.8 171.4 L167.8 171.3 L166.8 171.3 L165.8 171.3 L164.8 171.3 L163.8 171.3 L162.8 171.4 L161.8 171.5 L160.8 171.6 L159.8 171.7 L158.8 171.8 L157.8 171.9 L156.8 172.1 L155.8 172.3 L154.8 172.2 L153.8 172 L152.8 171.9 L151.8 171.7 L150.8 171.6 L149.8 171.5 L148.8 171.4 L147.6 171.4 L146.4 171.4 L145.2 171.4 L143.9 171.6 L142.7 171.7 L141.5 171.9 L140.3 172.2 L139.1 172.5 L138 172.9 L136.8 173.3 L135.7 173.8 L134.6 174.3 L133.5 174.9 L132.5 175.5 L131.3 175.8 L130.2 176.1 L129.3 176.3 L128.3 176.6 L127.3 176.9 L126.4 177.2 L125.4 177.6 L124.5 177.9 L123.6 178.3 L122.6 178.7 L121.7 179.1 L120.8 179.5 L119.9 179.9 L119 180.4 L118.2 180.9 L117.3 181.4 L116.4 181.9 L115.6 182.4 L114.7 183 L113.9 183.6 L113 184 L112 184.3 L111 184.5 L110 184.8 L109.1 185.1 L108.1 185.4 L107.2 185.7 L106.2 186 L105.3 186.4 L104.4 186.8 L103.4 187.2 L102.5 187.6 L101.6 188 L100.7 188.5 L99.9 188.9 L99 189.4 L98.1 189.9 L97.2 190.5 L96.4 191 L95.5 191.6 L94.7 192.2 L93.7 192.4 L92.8 192.7 L91.8 192.9 L90.8 193.2 L89.8 193.5 L88.9 193.8 L87.9 194.2 L87 194.5 L86.1 194.9 L85.2 195.3 L84.2 195.7 L83.3 196.1 L82.5 196.6 L81.6 197 L80.7 197.5 L79.9 197.9 L79.1 198.4 L78.3 198.9 L77.5 199.4 L76.7 199.9 L75.9 200.2 L75 200.3 L74.1 200.5 L73.3 200.6 L72.4 200.7 L71.6 200.8 L70.8 200.9 L70 201 L69.2 201.1 L68.5 201.2 L67.7 201.3 L66.9 201.4 L66.1 201.5 L65.3 201.6 L64.5 201.7 L63.8 201.8 L63 201.9 L62.2 202 L61.3 202.1 L60.5 202.2 L59.7 202.3 L58.9 202 L58.2 201.6 L57.4 201.3 L56.7 201 L55.9 200.7 L55.2 200.4 L54.5 200.1 L53.7 199.8 L53 199.5 L52.3 199.2 L51.6 198.9 L50.9 198.6 L50.1 198.3 L49.4 197.9 L48.7 197.6 L47.9 197.3 L47.2 197 L46.4 196.7 L45.7 196.4 L44.9 196 L44.4 195.4 L43.9 194.8 L43.4 194.1 L42.9 193.5 L42.4 192.8 L41.9 192.2 L41.4 191.6 L41 190.9 L40.5 190.3 L40 189.7 L39.6 189 L39.1 188.4 L38.6 187.8 L38.1 187.1 L37.7 186.5 L37.2 185.9 L36.7 185.2 L36.2 184.6 L35.7 183.9 L35.2 183.2 L35 182.5 L34.9 181.7 L34.8 180.8 L34.7 180 L34.6 179.2 L34.5 178.4 L34.4 177.7 L34.3 176.9 L34.2 176.1 L34.1 175.3 L34 174.5 L33.9 173.8 L33.8 173 L33.7 172.2 L33.7 171.4 L33.6 170.6 L33.5 169.8 L33.4 169 L33.3 168.2 L33.2 167.4 L33.2 166.5 L33.6 165.8 L33.9 165 L34.2 164.3 L34.5 163.5 L34.9 162.8 L35.2 162.1 L35.5 161.4 L35.8 160.6 L36.1 159.9 L36.4 159.2 L36.8 158.5 L37.1 157.8 L37.4 157 L37.7 156.3 L38 155.6 L38.3 154.8 L38.7 154.1 L39 153.4 L39.3 152.6 L39.7 151.8 L40.4 151.4 L41 150.9 L41.7 150.4 L42.3 149.9 L43 149.4 L43.6 149 L44.3 148.5 L44.9 148 L45.5 147.6 L46.2 147.1 L46.8 146.6 L47.4 146.2 L48.1 145.7 L48.7 145.2 L49.4 144.8 L50 144.3 L50.7 143.8 L51.3 143.3 L52 142.9 L52.7 142.4 L53.5 142.2 L54.3 142.1 L55.1 142 L55.9 141.9 L56.7 141.9 L57.5 141.8 L58.3 141.7 L59.1 141.6 L59.9 141.5 L60.6 141.5 L61.4 141.4 L62.2 141.3 L63 141.2 L63.8 141.1 L64.6 141 L65.4 141 L66.2 140.9 L67 140.8 L67.8 140.7 L68.6 140.6 L69.4 140.8 L70.2 141.1 L70.9 141.5 L71.7 141.8 L72.4 142.1 L73.2 142.5 L74 142.8 L74.8 143.1 L75.6 143.5 L76.4 143.8 L77.2 144.1 L78.1 144.4 L78.9 144.7 L79.8 145.1 L80.7 145.4 L81.7 145.7 L82.6 145.9 L83.6 146.2 L84.5 146.5 L85.5 146.7 L86.5 147 L87.3 147.6 L88.2 148.2 L89 148.7 L89.9 149.2 L90.8 149.7 L91.6 150.2 L92.5 150.7 L93.4 151.1 L94.3 151.6 L95.2 152 L96.1 152.4 L97.1 152.8 L98 153.1 L98.9 153.5 L99.9 153.8 L100.9 154.1 L101.8 154.4 L102.8 154.6 L103.8 154.9 L104.8 155.1 L105.6 155.6 L106.5 156.2 L107.3 156.7 L108.2 157.3 L109.1 157.8 L109.9 158.3 L110.8 158.8 L111.7 159.2 L112.6 159.7 L113.5 160.1 L114.4 160.5 L115.3 160.9 L116.3 161.2 L117.2 161.6 L118.2 161.9 L119.1 162.2 L120.1 162.5 L121 162.8 L122 163.1 L123 163.3 L124 163.6 L124.8 164.2 L125.7 164.8 L126.5 165.3 L127.4 165.8 L128.2 166.3 L129.1 166.8 L130 167.3 L131 167.8 L132.1 168.3 L133.2 168.7 L134.4 169.1 L135.5 169.5 L136.7 169.8 L137.9 170 L139.1 170.2 L140.4 170.4 L141.6 170.5 L142.8 170.5 L144 170.5 L145.2 170.4 L146.4 170.5 L147.6 170.7 L148.8 170.9 L149.8 171 L150.8 171.2 L151.8 171.3 L152.8 171.3 L153.8 171.4 L154.8 171.5 L155.8 171.5 L156.8 171.5 L157.8 171.5 L158.8 171.5 L159.8 171.4 L160.8 171.3 L161.8 171.2 L162.8 171.1 L163.8 171 L164.8 170.9 L165.8 170.7 L166.8 170.5 L167.8 170.6 L168.8 170.8 L169.8 170.9 L170.8 171.1 L171.8 171.2 L172.8 171.3 L173.8 171.4 L174.8 171.4 L175.8 171.5 L176.8 171.5 L177.8 171.5 L178.8 171.5 L179.8 171.4 L180.8 171.4 L181.8 171.3 L182.8 171.2 L183.8 171.1 L184.8 171 L185.8 170.8 L186.8 170.7 L187.8 170.4 L188.8 170.6 L189.8 170.8 L190.8 171 L191.8 171.1 L192.8 171.2 L193.8 171.3 L194.8 171.4 L195.8 171.4 L196.8 171.5 L197.8 171.5 L198.8 171.5 L199.8 171.5 L200.8 171.4 L201.8 171.4 L202.8 171.3 L203.8 171.2 L204.8 171.1 L205.8 170.9 L206.8 170.8 L207.8 170.6 L208.8 170.5 L209.8 170.7 L210.8 170.8 L211.8 171 L212.8 171.1 L213.8 171.2 L214.8 171.3 L215.8 171.4 L216.8 171.5 L217.8 171.5 L218.8 171.5 L219.8 171.5 L220.8 171.5 L221.8 171.4 L222.8 171.4 L223.8 171.3 L224.8 171.2 L225.8 171.1 L226.8 170.9 L227.8 170.8 L228.8 170.6 L229.8 170.5 L230.8 170.7 L231.8 170.9 L232.8 171 L233.8 171.1 L234.8 171.3 L235.8 171.3 L236.8 171.4 L237.8 171.5 L238.8 171.5 L239.8 171.5 L240.8 171.5 L241.8 171.5 L242.8 171.4 L243.8 171.3 L244.8 171.3 L245.8 171.1 L246.8 171 L247.8 170.9 L248.8 170.7 L249.8 170.5 L250.8 170.6 L251.8 170.8 L252.8 170.9 L253.8 171.1 L254.8 171.2 L255.8 171.3 L256.8 171.4 L257.8 171.4 L258.8 171.5 L259.8 171.5 L260.8 171.5 L261.8 171.5 L262.8 171.5 L263.8 171.4 L264.8 171.3 L265.8 171.2 L266.8 171.1 L267.8 171 L268.8 170.8 L269.8 170.7 L270.8 170.5 L271.8 170.6 L272.8 170.8 L273.8 170.9 L274.8 171.1 L275.8 171.2 L276.8 171.3 L277.8 171.4 L278.8 171.4 L279.8 171.5 L280.8 171.5 L281.8 171.5 L282.8 171.5 L283.8 171.4 L284.8 171.4 L285.8 171.3 L286.8 171.2 L287.8 171.1 L288.8 171 L289.8 170.8 L290.8 170.6 L291.8 170.4 L292.8 170.7 L293.8 170.8 L294.8 171 L295.8 171.1 L296.8 171.2 L297.8 171.3 L298.8 171.4 L299.8 171.4 L300.8 171.5 L301.8 171.5 L302.8 171.5 L303.8 171.5 L304.8 171.4 L305.8 171.4 L306.8 171.3 L307.8 171.2 L308.8 171.1 L309.8 170.9 L310.8 170.8 L311.8 170.6 L312.8 170.5 L313.8 170.7 L314.8 170.9 L315.8 171 L316.8 171.1 L317.8 171.2 L318.8 171.3 L319.8 171.4 L320.8 171.5 L321.8 171.5 L322.8 171.5 L323.8 171.5 L324.8 171.5 L325.8 171.4 L326.8 171.4 L327.8 171.3 L328.8 171.2 L329.8 171 L330.8 170.9 L331.8 170.7 L332.8 170.5 L333.8 170.5 L334.8 170.7 L335.8 170.9 L336.8 171 L337.8 171.2 L338.8 171.3 L339.8 171.3 L340.8 171.4 L341.8 171.5 L342.8 171.5 L343.8 171.5 L344.8 171.5 L345.8 171.5 L346.8 171.4 L347.8 171.3 L348.8 171.2 L349.8 171.1 L350.8 171 L351.8 170.9 L352.8 170.7 L353.8 170.5 L354.8 170.6 L355.8 170.8 L356.8 170.9 L357.8 171.1 L358.8 171.2 L359.8 171.3 L360.8 171.4 L361.8 171.4 L362.8 171.5 L363.8 171.5 L364.8 171.5 L365.8 171.5 L366.8 171.4 L367.8 171.4 L368.8 171.3 L369.8 171.2 L370.8 171.1 L371.8 171 L372.8 170.8 L373.8 170.7 L374.8 170.4 L375.8 170.6 L376.8 170.8 L377.8 171 L378.8 171.1 L379.8 171.2 L380.8 171.3 L381.8 171.4 L382.8 171.4 L383.8 171.5 L384.8 171.5 L385.8 171.5 L386.8 171.5 L387.8 171.4 L388.8 171.4 L389.8 171.3 L390.8 171.2 L391.8 171.1 L392.8 170.9 L393.8 170.8 L394.8 170.6 L395.8 170.5 L396.8 170.7 L397.8 170.8 L398.8 171 L399.8 171.1 L400.8 171.2 L401.8 171.3 L402.8 171.4 L403.8 171.4 L404.8 171.5 L405.8 171.5 L406.8 171.5 L407.8 171.5 L408.8 171.4 L409.8 171.4 L410.8 171.3 L411.8 171.2 L412.8 171.1 L413.8 170.9 L414.8 170.8 L415.8 170.6 L416.8 170.5 L417.8 170.7 L418.8 170.9 L419.8 171 L420.8 171.1 L421.8 171.3 L422.8 171.3 L423.8 171.4 L424.8 171.5 L425.8 171.5 L426.8 171.5 L427.8 171.5 L428.8 171.5 L429.8 171.4 L430.8 171.3 L431.8 171.3 L432.8 171.1 L433.8 171 L434.8 170.9 L435.8 170.7 L436.8 170.5 L437.8 170.6 L438.8 170.7 L439.8 170.9 L440.8 171 L441.8 171.2 L442.8 171.3 L443.8 171.4 L444.8 171.4 L445.8 171.5 L446.8 171.5 L447.8 171.5 L448.8 171.5 L449.8 171.5 L450.8 171.4 L451.8 171.3 L452.8 171.2 L453.8 171.1 L454.8 171 L455.8 170.8 L456.8 170.7 L457.8 170.5 L458.8 170.6 L459.8 170.8 L460.8 170.9 L461.8 171.1 L462.8 171.2 L463.8 171.3 L464.8 171.4 L465.8 171.4 L466.8 171.5 L467.8 171.5 L468.8 171.5 L469.8 171.5 L470.8 171.4 L471.8 171.4 L472.8 171.3 L473.8 171.2 L474.8 171.1 L475.8 171 L476.8 170.8 L477.8 170.6 L478.8 170.4 L479.8 170.6 L480.8 170.8 L481.8 171 L482.8 171.1 L483.8 171.2 L484.8 171.3 L485.8 171.4 L486.8 171.4 L487.8 171.5 L488.8 171.5 L489.8 171.5 L490.8 171.5 L491.8 171.4 L492.8 171.4 L493.8 171.3 L494.8 171.2 L495.8 171.1 L496.8 170.9 L497.8 170.8 L498.8 170.6 L499.8 170.5 L500.8 170.7 L501.8 170.9 L502.8 171 L503.8 171.1 L504.8 171.2 L505.8 171.3 L506.8 171.4 L507.8 171.5 L508.8 171.5 L509.8 171.5 L510.8 171.5 L511.8 171.5 L512.8 171.4 L513.8 171.4 L514.8 171.3 L515.8 171.2 L516.8 171 L517.8 170.9 L518.8 170.7 L519.8 170.5 L520.8 170.5 L521.8 170.7 L522.8 170.9 L523.8 171 L524.8 171.2 L525.8 171.3 L526.8 171.3 L527.8 171.4 L528.8 171.5 L529.8 171.5 L530.8 171.5 L531.8 171.5 L532.8 171.5 L533.8 171.4 L534.8 171.3 L535.8 171.2 L536.8 171.1 L537.8 171 L538.8 170.9 L539.8 170.7 L540.8 170.5 L541.8 170.6 L542.8 170.8 L543.8 170.9 L544.8 171.1 L545.8 171.2 L546.8 171.3 L547.8 171.4 L548.8 171.4 L549.8 171.5 L550.8 171.5 L551.8 171.5 L552.8 171.5 L553.8 171.4 L554.8 171.4 L555.8 171.3 L556.8 171.2 L557.8 171.1 L558.8 171 L559.8 170.8 L560.8 170.7 L561.8 170.4 L562.8 170.6 L563.8 170.8 L564.8 171 L565.8 171.1 L566.8 171.2 L567.8 171.3 L568.8 171.4 L569.8 171.4 L570.8 171.5 L571.8 171.5 L572.8 171.5 L573.8 171.5 L574.8 171.4 L575.8 171.4 L576.8 171.3 L577.8 171.2 L578.8 171.1 L579.8 171 L580.8 170.8 M743.8 186.8 L742.8 187 L741.8 187.2 L740.8 187.3 L739.8 187.4 L738.8 187.5 L737.8 187.6 L736.8 187.7 L735.8 187.8 L734.8 187.8 L733.8 187.8 L732.8 187.8 L731.8 187.8 L730.8 187.7 L729.8 187.7 L728.8 187.6 L727.8 187.5 L726.8 187.3 L725.8 187.2 L724.8 187 L723.8 186.8 L722.8 186.8 L721.8 187 L720.8 187.2 L719.8 187.3 L718.8 187.5 L717.8 187.6 L716.8 187.6 L715.8 187.7 L714.8 187.8 L713.8 187.8 L712.8 187.8 L711.8 187.8 L710.8 187.8 L709.8 187.7 L708.8 187.6 L707.8 187.5 L706.8 187.4 L705.8 187.3 L704.8 187.2 L703.8 187 L702.8 186.8 L701.8 186.9 L700.8 187.1 L699.8 187.2 L698.8 187.4 L697.8 187.5 L696.8 187.6 L695.8 187.7 L694.8 187.7 L693.8 187.8 L692.8 187.8 L691.8 187.8 L690.8 187.8 L689.8 187.7 L688.8 187.7 L687.8 187.6 L686.8 187.5 L685.8 187.4 L684.8 187.3 L683.8 187.1 L682.8 187 L681.8 186.7 L680.8 186.9 L679.8 187.1 L678.8 187.3 L677.8 187.4 L676.8 187.5 L675.8 187.6 L674.8 187.7 L673.8 187.7 L672.8 187.8 L671.8 187.8 L670.8 187.8 L669.8 187.8 L668.8 187.7 L667.8 187.7 L666.8 187.6 L665.8 187.5 L664.8 187.4 L663.8 187.2 L662.8 187.1 L661.8 186.9 L660.8 186.8 L659.8 187 L658.8 187.1 L657.8 187.3 L656.8 187.4 L655.8 187.5 L654.8 187.6 L653.8 187.7 L652.8 187.7 L651.8 187.8 L650.8 187.8 L649.8 187.8 L648.8 187.8 L647.8 187.7 L646.8 187.7 L645.8 187.6 L644.8 187.5 L643.8 187.4 L642.8 187.2 L641.8 187.1 L640.8 186.9 L639.8 186.8 L638.8 187 L637.8 187.2 L636.8 187.3 L635.8 187.4 L634.8 187.6 L633.8 187.6 L632.8 187.7 L631.8 187.8 L630.8 187.8 L629.8 187.8 L628.8 187.8 L627.8 187.8 L626.8 187.7 L625.8 187.6 L624.8 187.6 L623.8 187.5 L622.8 187.3 L621.8 187.2 L620.8 187 L619.8 186.8 L618.8 186.9 L617.8 187 L616.8 187.2 L615.8 187.3 L614.8 187.5 L613.8 187.6 L612.8 187.7 L611.8 187.7 L610.8 187.8 L609.8 187.8 L608.8 187.8 L607.8 187.8 L606.8 187.8 L605.8 187.7 L604.8 187.6 L603.8 187.5 L602.8 187.4 L601.8 187.3 L600.8 187.1 L599.8 187 L598.8 186.8 L597.8 186.9 L596.8 187.1 L595.8 187.2 L594.8 187.4 L593.8 187.5 L592.8 187.6 L591.8 187.7 L590.8 187.7 L589.8 187.8 L588.8 187.8 L587.8 187.8 L586.8 187.8 L585.8 187.7 L584.8 187.7 L583.8 187.6 L582.8 187.5 L581.8 187.4 L580.8 187.3 L579.8 187.1 L578.8 186.9 L577.8 186.7 L576.8 186.9 L575.8 187.1 L574.8 187.3 L573.8 187.4 L572.8 187.5 L571.8 187.6 L570.8 187.7 L569.8 187.7 L568.8 187.8 L567.8 187.8 L566.8 187.8 L565.8 187.8 L564.8 187.7 L563.8 187.7 L562.8 187.6 L561.8 187.5 L560.8 187.4 L559.8 187.2 L558.8 187.1 L557.8 186.9 L556.8 186.8 L555.8 187 L554.8 187.2 L553.8 187.3 L552.8 187.4 L551.8 187.5 L550.8 187.6 L549.8 187.7 L548.8 187.8 L547.8 187.8 L546.8 187.8 L545.8 187.8 L544.8 187.8 L543.8 187.7 L542.8 187.7 L541.8 187.6 L540.8 187.5 L539.8 187.3 L538.8 187.2 L537.8 187 L536.8 186.8 L535.8 186.8 L534.8 187 L533.8 187.2 L532.8 187.3 L531.8 187.5 L530.8 187.6 L529.8 187.6 L528.8 187.7 L527.8 187.8 L526.8 187.8 L525.8 187.8 L524.8 187.8 L523.8 187.8 L522.8 187.7 L521.8 187.6 L520.8 187.5 L519.8 187.4 L518.8 187.3 L517.8 187.2 L516.8 187 L515.8 186.8 L514.8 186.9 L513.8 187.1 L512.8 187.2 L511.8 187.4 L510.8 187.5 L509.8 187.6 L508.8 187.7 L507.8 187.7 L506.8 187.8 L505.8 187.8 L504.8 187.8 L503.8 187.8 L502.8 187.7 L501.8 187.7 L500.8 187.6 L499.8 187.5 L498.8 187.4 L497.8 187.3 L496.8 187.1 L495.8 187 L494.8 186.7 L493.8 186.9 L492.8 187.1 L491.8 187.3 L490.8 187.4 L489.8 187.5 L488.8 187.6 L487.8 187.7 L486.8 187.7 L485.8 187.8 L484.8 187.8 L483.8 187.8 L482.8 187.8 L481.8 187.7 L480.8 187.7 L479.8 187.6 L478.8 187.5 L477.8 187.4 L476.8 187.3 L475.8 187.1 L474.8 186.9 L473.8 186.7 L472.8 187 L471.8 187.1 L470.8 187.3 L469.8 187.4 L468.8 187.5 L467.8 187.6 L466.8 187.7 L465.8 187.7 L464.8 187.8 L463.8 187.8 L462.8 187.8 L461.8 187.8 L460.8 187.7 L459.8 187.7 L458.8 187.6 L457.8 187.5 L456.8 187.4 L455.8 187.2 L454.8 187.1 L453.8 186.9 L452.8 186.8 L451.8 187 L450.8 187.2 L449.8 187.3 L448.8 187.4 L447.8 187.5 L446.8 187.6 L445.8 187.7 L444.8 187.8 L443.8 187.8 L442.8 187.8 L441.8 187.8 L440.8 187.8 L439.8 187.7 L438.8 187.6 L437.8 187.6 L436.8 187.5 L435.8 187.3 L434.8 187.2 L433.8 187 L432.8 186.8 L431.8 186.9 L430.8 187 L429.8 187.2 L428.8 187.3 L427.8 187.5 L426.8 187.6 L425.8 187.7 L424.8 187.7 L423.8 187.8 L422.8 187.8 L421.8 187.8 L420.8 187.8 L419.8 187.8 L418.8 187.7 L417.8 187.6 L416.8 187.5 L415.8 187.4 L414.8 187.3 L413.8 187.2 L412.8 187 L411.8 186.8 L410.8 186.9 L409.8 187.1 L408.8 187.2 L407.8 187.4 L406.8 187.5 L405.8 187.6 L404.8 187.7 L403.8 187.7 L402.8 187.8 L401.8 187.8 L400.8 187.8 L399.8 187.8 L398.8 187.7 L397.8 187.7 L396.8 187.6 L395.8 187.5 L394.8 187.4 L393.8 187.3 L392.8 187.1 L391.8 186.9 L390.8 186.7 L389.8 186.9 L388.8 187.1 L387.8 187.3 L386.8 187.4 L385.8 187.5 L384.8 187.6 L383.8 187.7 L382.8 187.7 L381.8 187.8 L380.8 187.8 L379.8 187.8 L378.8 187.8 L377.8 187.7 L376.8 187.7 L375.8 187.6 L374.8 187.5 L373.8 187.4 L372.8 187.2 L371.8 187.1 L370.8 186.9 L369.8 186.8 L368.8 187 L367.8 187.2 L366.8 187.3 L365.8 187.4 L364.8 187.5 L363.8 187.6 L362.8 187.7 L361.8 187.8 L360.8 187.8 L359.8 187.8 L358.8 187.8 L357.8 187.8 L356.8 187.7 L355.8 187.7 L354.8 187.6 L353.8 187.5 L352.8 187.3 L351.8 187.2 L350.8 187 L349.8 186.9 L348.8 186.8 L347.8 187 L346.8 187.2 L345.8 187.3 L344.8 187.5 L343.8 187.6 L342.8 187.6 L341.8 187.7 L340.8 187.8 L339.8 187.8 L338.8 187.8 L337.8 187.8 L336.8 187.8 L335.8 187.7 L334.8 187.6 L333.8 187.5 L332.8 187.4 L331.8 187.3 L330.8 187.2 L329.8 187 L328.8 186.8 L327.8 186.9 L326.8 187.1 L325.8 187.2 L324.8 187.4 L323.8 187.5 L322.8 187.6 L321.8 187.7 L320.8 187.7 L319.8 187.8 L318.8 187.8 L317.8 187.8 L316.8 187.8 L315.8 187.7 L314.8 187.7 L313.8 187.6 L312.8 187.5 L311.8 187.4 L310.8 187.3 L309.8 187.1 L308.8 187 L307.8 186.7 L306.8 186.9 L305.8 187.1 L304.8 187.3 L303.8 187.4 L302.8 187.5 L301.8 187.6 L300.8 187.7 L299.8 187.7 L298.8 187.8 L297.8 187.8 L296.8 187.8 L295.8 187.8 L294.8 187.7 L293.8 187.7 L292.8 187.6 L291.8 187.5 L290.8 187.4 L289.8 187.3 L288.8 187.1 L287.8 186.9 L286.8 186.7 L285.8 187 L284.8 187.1 L283.8 187.3 L282.8 187.4 L281.8 187.5 L280.8 187.6 L279.8 187.7 L278.8 187.7 L277.8 187.8 L276.8 187.8 L275.8 187.8 L274.8 187.8 L273.8 187.7 L272.8 187.7 L271.8 187.6 L270.8 187.5 L269.8 187.4 L268.8 187.2 L267.8 187.1 L266.8 186.9 L265.8 186.8 L264.8 187 L263.8 187.2 L262.8 187.3 L261.8 187.4 L260.8 187.5 L259.8 187.6 L258.8 187.7 L257.8 187.8 L256.8 187.8 L255.8 187.8 L254.8 187.8 L253.8 187.8 L252.8 187.7 L251.8 187.6 L250.8 187.6 L249.8 187.5 L248.8 187.3 L247.8 187.2 L246.8 187 L245.8 186.8 L244.8 186.8 L243.8 187 L242.8 187.2 L241.8 187.3 L240.8 187.5 L239.8 187.6 L238.8 187.7 L237.8 187.7 L236.8 187.8 L235.8 187.8 L234.8 187.8 L233.8 187.8 L232.8 187.8 L231.8 187.7 L230.8 187.6 L229.8 187.5 L228.8 187.4 L227.8 187.3 L226.8 187.2 L225.8 187 L224.8 186.8 L223.8 186.9 L222.8 187.1 L221.8 187.2 L220.8 187.4 L219.8 187.5 L218.8 187.6 L217.8 187.7 L216.8 187.7 L215.8 187.8 L214.8 187.8 L213.8 187.8 L212.8 187.8 L211.8 187.7 L210.8 187.7 L209.8 187.6 L208.8 187.5 L207.8 187.4 L206.8 187.3 L205.8 187.1 L204.8 186.9 L203.8 186.7 L202.8 186.9 L201.8 187.1 L200.8 187.3 L199.8 187.4 L198.8 187.5 L197.8 187.6 L196.8 187.7 L195.8 187.7 L194.8 187.8 L193.8 187.8 L192.8 187.8 L191.8 187.8 L190.8 187.7 L189.8 187.7 L188.8 187.6 L187.8 187.5 L186.8 187.4 L185.8 187.2 L184.8 187.1 L183.8 186.9 L182.8 186.8 L181.8 187 L180.8 187.1 L179.8 187.3 L178.8 187.4 L177.8 187.5 L176.8 187.6 L175.8 187.7 L174.8 187.8 L173.8 187.8 L172.8 187.8 L171.8 187.8 L170.8 187.8 L169.8 187.7 L168.8 187.7 L167.8 187.6 L166.8 187.5 L165.8 187.3 L164.8 187.2 L163.8 187 L162.8 186.9 L161.8 186.8 L160.8 187 L159.8 187.2 L158.8 187.3 L157.8 187.5 L156.8 187.6 L155.8 187.6 L154.8 187.7 L153.8 187.8 L152.8 187.8 L151.8 187.8 L150.8 187.8 L149.8 187.8 L148.8 187.7 L148 187.6 L147.2 187.6 L146.4 187.5 L145.6 187.5 L144.8 187.4 L144 187.4 L143.2 187.3 L142.4 187.6 L141.7 187.9 L141 188.3 L140.3 188.7 L139.6 189 L138.9 189.4 L138.2 189.7 L137.5 190.1 L136.6 190.5 L135.7 190.9 L134.8 191.3 L133.9 191.7 L132.9 192 L132 192.3 L131 192.6 L130.1 192.9 L129.1 193.2 L128.1 193.4 L127.1 193.6 L126.3 194.2 L125.4 194.8 L124.6 195.4 L123.7 195.9 L122.9 196.5 L122 196.9 L121.1 197.4 L120.2 197.8 L119.3 198.2 L118.3 198.5 L117.4 198.8 L116.4 199.1 L115.4 199.3 L114.4 199.5 L113.4 199.7 L112.5 200.2 L111.7 200.8 L110.8 201.4 L110 201.9 L109.1 202.4 L108.2 202.9 L107.3 203.4 L106.4 203.8 L105.5 204.3 L104.6 204.7 L103.7 205.1 L102.8 205.5 L101.9 205.8 L100.9 206.2 L100 206.5 L99 206.8 L98.1 207.1 L97.1 207.4 L96.1 207.7 L95.1 207.9 L94.2 208.2 L93.3 208.8 L92.5 209.4 L91.6 209.9 L90.8 210.4 L89.9 210.9 L89 211.4 L88.1 211.9 L87.2 212.4 L86.2 212.8 L85.3 213.2 L84.3 213.6 L83.2 214 L82.2 214.4 L81.1 214.7 L80 215 L78.9 215.2 L77.8 215.4 L76.6 215.6 L75.4 215.8 L74.2 215.8 L73.1 216.2 L72 216.6 L70.8 217 L69.6 217.3 L68.5 217.5 L67.3 217.7 L66.1 217.9 L64.8 218 L63.6 218 L62.4 218 L61.2 217.9 L60 217.8 L58.8 217.7 L57.6 217.5 L56.4 217.2 L55.2 216.9 L54.1 216.5 L52.9 216.1 L51.8 215.6 L50.7 215.1 L49.6 214.7 L48.4 214.5 L47.2 214.3 L46.1 214 L44.9 213.6 L43.8 213.2 L42.7 212.7 L41.6 212.2 L40.5 211.6 L39.4 211 L38.4 210.4 L37.4 209.7 L36.4 209 L35.5 208.2 L34.6 207.4 L33.7 206.5 L32.9 205.6 L32.1 204.7 L31.4 203.8 L30.7 202.8 L30 201.8 L29.1 201 L28.2 200.2 L27.3 199.4 L26.5 198.5 L25.7 197.5 L25 196.6 L24.2 195.6 L23.6 194.6 L23 193.5 L22.4 192.5 L21.9 191.4 L21.4 190.3 L21 189.1 L20.6 188 L20.3 186.8 L20 185.6 L19.7 184.4 L19.6 183.2 L19.4 182 L19.4 180.8 L19 179.7 L18.6 178.5 L18.3 177.4 L18 176.2 L17.8 175 L17.6 173.8 L17.5 172.6 L17.4 171.4 L17.4 170.2 L17.4 169 L17.5 167.8 L17.6 166.5 L17.8 165.3 L18.1 164.2 L18.4 163 L18.7 161.8 L19.1 160.7 L19.5 159.5 L20 158.4 L20.6 157.4 L20.9 156.2 L21.1 155 L21.4 153.9 L21.8 152.7 L22.2 151.5 L22.6 150.4 L23.1 149.3 L23.6 148.2 L24.2 147.1 L24.8 146.1 L25.5 145.1 L26.2 144.1 L27 143.2 L27.8 142.2 L28.6 141.4 L29.5 140.5 L30.4 139.7 L31.3 138.9 L32.3 138.2 L33.3 137.6 L34.2 136.8 L35 135.9 L35.8 135 L36.7 134.2 L37.6 133.4 L38.5 132.6 L39.5 131.9 L40.5 131.2 L41.6 130.6 L42.6 130 L43.7 129.4 L44.8 128.9 L45.9 128.5 L47.1 128.1 L48.2 127.7 L49.4 127.4 L50.6 127.2 L51.8 126.9 L53 126.8 L54.2 126.7 L55.4 126.6 L56.5 126.2 L57.7 125.9 L58.9 125.6 L60 125.3 L61.2 125.1 L62.4 125 L63.6 124.9 L64.9 124.8 L66.1 124.8 L67.3 124.9 L68.5 125 L69.7 125.2 L70.9 125.4 L72.1 125.6 L73.2 126 L74.4 126.3 L75.5 126.7 L76.6 127.2 L77.7 127.7 L78.7 128.2 L79.8 128.4 L80.9 128.6 L82 128.9 L83.1 129.1 L84.2 129.4 L85.2 129.7 L86.2 130.1 L87.2 130.5 L88.2 130.8 L89.1 131.2 L90 131.6 L90.9 132.1 L91.8 132.5 L92.7 133 L93.6 133.5 L94.5 134 L95.3 134.5 L96.2 135 L97 135.6 L97.9 136.2 L98.8 136.6 L99.8 136.8 L100.8 137 L101.7 137.3 L102.7 137.6 L103.6 137.9 L104.6 138.2 L105.5 138.6 L106.5 139 L107.4 139.3 L108.3 139.7 L109.2 140.2 L110.1 140.6 L111 141.1 L111.9 141.5 L112.8 142 L113.6 142.5 L114.5 143.1 L115.3 143.6 L116.2 144.2 L117 144.7 L118 144.9 L119 145.2 L120 145.5 L121 145.7 L121.9 146.1 L122.9 146.4 L123.8 146.7 L124.7 147.1 L125.7 147.4 L126.6 147.8 L127.5 148.3 L128.4 148.7 L129.3 149.1 L130.2 149.6 L131.1 150.1 L131.9 150.6 L132.8 151.1 L133.7 151.7 L134.5 152.2 L135.3 152.8 L136.3 153.2 L137.2 153.4 L138 153.6 L138.8 153.7 L139.5 153.9 L140.3 154.1 L141.1 154.2 L141.9 154.3 L142.6 154.4 L143.4 154.6 L144.2 154.7 L144.9 154.8 L145.7 154.8 L146.5 154.9 L147.2 155 L148 155 L148.8 155.1 L149.8 155.2 L150.8 155.2 L151.8 155.3 L152.8 155.4 L153.8 155.5 L154.8 155.6 L155.8 155.8 L156.8 155.9 L157.8 156 L158.8 155.8 L159.8 155.7 L160.8 155.6 L161.8 155.4 L162.8 155.3 L163.8 155.2 L164.8 155.2 L165.8 155.1 L166.8 155.1 L167.8 155 L168.8 155 L169.8 155 L170.8 155 L171.8 155 L172.8 155.1 L173.8 155.2 L174.8 155.2 L175.8 155.3 L176.8 155.4 L177.8 155.5 L178.8 155.7 L179.8 155.8 L180.8 156 L181.8 155.9 L182.8 155.7 L183.8 155.6 L184.8 155.4 L185.8 155.3 L186.8 155.2 L187.8 155.1 L188.8 155.1 L189.8 155 L190.8 155 L191.8 155 L192.8 155 L193.8 155.1 L194.8 155.1 L195.8 155.2 L196.8 155.3 L197.8 155.4 L198.8 155.5 L199.8 155.7 L200.8 155.8 L201.8 156.1 L202.8 155.9 L203.8 155.7 L204.8 155.5 L205.8 155.4 L206.8 155.3 L207.8 155.2 L208.8 155.1 L209.8 155.1 L210.8 155 L211.8 155 L212.8 155 L213.8 155 L214.8 155.1 L215.8 155.1 L216.8 155.2 L217.8 155.3 L218.8 155.4 L219.8 155.6 L220.8 155.7 L221.8 155.9 L222.8 156 L223.8 155.8 L224.8 155.7 L225.8 155.5 L226.8 155.4 L227.8 155.3 L228.8 155.2 L229.8 155.1 L230.8 155.1 L231.8 155 L232.8 155 L233.8 155 L234.8 155 L235.8 155.1 L236.8 155.1 L237.8 155.2 L238.8 155.3 L239.8 155.4 L240.8 155.6 L241.8 155.7 L242.8 155.9 L243.8 156 L244.8 155.8 L245.8 155.6 L246.8 155.5 L247.8 155.4 L248.8 155.2 L249.8 155.2 L250.8 155.1 L251.8 155 L252.8 155 L253.8 155 L254.8 155 L255.8 155 L256.8 155.1 L257.8 155.2 L258.8 155.2 L259.8 155.4 L260.8 155.5 L261.8 155.6 L262.8 155.8 L263.8 156 L264.8 155.9 L265.8 155.8 L266.8 155.6 L267.8 155.5 L268.8 155.3 L269.8 155.2 L270.8 155.1 L271.8 155.1 L272.8 155 L273.8 155 L274.8 155 L275.8 155 L276.8 155 L277.8 155.1 L278.8 155.2 L279.8 155.3 L280.8 155.4 L281.8 155.5 L282.8 155.7 L283.8 155.8 L284.8 156 L285.8 155.9 L286.8 155.7 L287.8 155.6 L288.8 155.4 L289.8 155.3 L290.8 155.2 L291.8 155.1 L292.8 155.1 L293.8 155 L294.8 155 L295.8 155 L296.8 155 L297.8 155.1 L298.8 155.1 L299.8 155.2 L300.8 155.3 L301.8 155.4 L302.8 155.5 L303.8 155.7 L304.8 155.9 L305.8 156.1 L306.8 155.9 L307.8 155.7 L308.8 155.5 L309.8 155.4 L310.8 155.3 L311.8 155.2 L312.8 155.1 L313.8 155.1 L314.8 155 L315.8 155 L316.8 155 L317.8 155 L318.8 155.1 L319.8 155.1 L320.8 155.2 L321.8 155.3 L322.8 155.4 L323.8 155.6 L324.8 155.7 L325.8 155.9 L326.8 156 L327.8 155.8 L328.8 155.6 L329.8 155.5 L330.8 155.4 L331.8 155.3 L332.8 155.2 L333.8 155.1 L334.8 155 L335.8 155 L336.8 155 L337.8 155 L338.8 155 L339.8 155.1 L340.8 155.1 L341.8 155.2 L342.8 155.3 L343.8 155.5 L344.8 155.6 L345.8 155.8 L346.8 156 L347.8 156 L348.8 155.8 L349.8 155.6 L350.8 155.5 L351.8 155.3 L352.8 155.2 L353.8 155.2 L354.8 155.1 L355.8 155 L356.8 155 L357.8 155 L358.8 155 L359.8 155 L360.8 155.1 L361.8 155.2 L362.8 155.3 L363.8 155.4 L364.8 155.5 L365.8 155.6 L366.8 155.8 L367.8 156 L368.8 155.9 L369.8 155.7 L370.8 155.6 L371.8 155.4 L372.8 155.3 L373.8 155.2 L374.8 155.1 L375.8 155.1 L376.8 155 L377.8 155 L378.8 155 L379.8 155 L380.8 155.1 L381.8 155.1 L382.8 155.2 L383.8 155.3 L384.8 155.4 L385.8 155.5 L386.8 155.7 L387.8 155.8 L388.8 156.1 L389.8 155.9 L390.8 155.7 L391.8 155.5 L392.8 155.4 L393.8 155.3 L394.8 155.2 L395.8 155.1 L396.8 155.1 L397.8 155 L398.8 155 L399.8 155 L400.8 155 L401.8 155.1 L402.8 155.1 L403.8 155.2 L404.8 155.3 L405.8 155.4 L406.8 155.5 L407.8 155.7 L408.8 155.9 L409.8 156.1 L410.8 155.8 L411.8 155.7 L412.8 155.5 L413.8 155.4 L414.8 155.3 L415.8 155.2 L416.8 155.1 L417.8 155.1 L418.8 155 L419.8 155 L420.8 155 L421.8 155 L422.8 155.1 L423.8 155.1 L424.8 155.2 L425.8 155.3 L426.8 155.4 L427.8 155.6 L428.8 155.7 L429.8 155.9 L430.8 156 L431.8 155.8 L432.8 155.6 L433.8 155.5 L434.8 155.4 L435.8 155.3 L436.8 155.2 L437.8 155.1 L438.8 155 L439.8 155 L440.8 155 L441.8 155 L442.8 155 L443.8 155.1 L444.8 155.2 L445.8 155.2 L446.8 155.3 L447.8 155.5 L448.8 155.6 L449.8 155.8 L450.8 156 L451.8 155.9 L452.8 155.8 L453.8 155.6 L454.8 155.5 L455.8 155.3 L456.8 155.2 L457.8 155.1 L458.8 155.1 L459.8 155 L460.8 155 L461.8 155 L462.8 155 L463.8 155 L464.8 155.1 L465.8 155.2 L466.8 155.3 L467.8 155.4 L468.8 155.5 L469.8 155.6 L470.8 155.8 L471.8 156 L472.8 155.9 L473.8 155.7 L474.8 155.6 L475.8 155.4 L476.8 155.3 L477.8 155.2 L478.8 155.1 L479.8 155.1 L480.8 155 L481.8 155 L482.8 155 L483.8 155 L484.8 155.1 L485.8 155.1 L486.8 155.2 L487.8 155.3 L488.8 155.4 L489.8 155.5 L490.8 155.7 L491.8 155.9 L492.8 156.1 L493.8 155.9 L494.8 155.7 L495.8 155.5 L496.8 155.4 L497.8 155.3 L498.8 155.2 L499.8 155.1 L500.8 155.1 L501.8 155 L502.8 155 L503.8 155 L504.8 155 L505.8 155.1 L506.8 155.1 L507.8 155.2 L508.8 155.3 L509.8 155.4 L510.8 155.6 L511.8 155.7 L512.8 155.9 L513.8 156 L514.8 155.8 L515.8 155.6 L516.8 155.5 L517.8 155.4 L518.8 155.3 L519.8 155.2 L520.8 155.1 L521.8 155 L522.8 155 L523.8 155 L524.8 155 L525.8 155 L526.8 155.1 L527.8 155.1 L528.8 155.2 L529.8 155.3 L530.8 155.5 L531.8 155.6 L532.8 155.8 L533.8 155.9 L534.8 156 L535.8 155.8 L536.8 155.6 L537.8 155.5 L538.8 155.3 L539.8 155.2 L540.8 155.2 L541.8 155.1 L542.8 155 L543.8 155 L544.8 155 L545.8 155 L546.8 155 L547.8 155.1 L548.8 155.2 L549.8 155.3 L550.8 155.4 L551.8 155.5 L552.8 155.6 L553.8 155.8 L554.8 156 L555.8 155.9 L556.8 155.7 L557.8 155.6 L558.8 155.4 L559.8 155.3 L560.8 155.2 L561.8 155.1 L562.8 155.1 L563.8 155 L564.8 155 L565.8 155 L566.8 155 L567.8 155.1 L568.8 155.1 L569.8 155.2 L570.8 155.3 L571.8 155.4 L572.8 155.5 L573.8 155.7 L574.8 155.8 L575.8 156.1 L576.8 155.9 L577.8 155.7 L578.8 155.5 L579.8 155.4 L580.8 155.3" fill="none" stroke="#242424" stroke-width="1.12" stroke-linejoin="round"/>
<rect x="741.1999999999999" y="180.0" width="5" height="9.6" fill="#fff"/>
<path d="M742.3 171.9 Q743.8 171.9 743.8 173.4 V179.9" stroke="#242424" stroke-width="1" fill="none"/>
<ellipse cx="740.0" cy="183.9" rx="2.5" ry="3.5" fill="#fff" stroke="#242424" stroke-width="0.9"/>
<rect x="580.8" y="153.5" width="72.0" height="18.0" rx="1.2" fill="#fbfbfb" stroke="#3a3a3a" stroke-width="1"/>
<path d="M583.8 153.8V171.5 M586.8 153.8V171.5 M589.8 153.8V171.5 M592.8 153.8V171.5 M595.8 153.8V171.5 M598.8 153.8V171.5 M601.8 153.8V171.5 M604.8 153.8V171.5 M607.8 153.8V171.5 M610.8 153.8V171.5 M613.8 153.8V171.5 M616.8 153.8V171.5 M619.8 153.8V171.5 M622.8 153.8V171.5 M625.8 153.8V171.5 M628.8 153.8V171.5 M631.8 153.8V171.5 M634.8 153.8V171.5 M637.8 153.8V171.5 M640.8 153.8V171.5 M643.8 153.8V171.5 M646.8 153.8V171.5 M649.8 153.8V171.5" stroke="#3a3a3a" stroke-width="1.05" fill="none"/>
<path d="M112.2 170.9 L129 170.9 A4.7 4.7 0 0 0 131.2 162 L83.2 137.2 A38.5 38.5 0 1 0 83.2 205.6 L131.2 180.8 A4.7 4.7 0 0 0 129 171.9 L112.2 171.9 Z M111.2 171.4 L76.3 152 A22.2 22.2 0 1 0 76.3 190.8 Z" fill="#939498" fill-rule="evenodd" stroke="#1e1e1e" stroke-width="1.4" stroke-linejoin="round"/>
<path d="M122 168.2 L81.4 144.4 A31.4 31.4 0 1 0 81.4 198.4 L122 174.6" fill="none" stroke="#4c4c50" stroke-width="0.9" stroke-dasharray="10 5" stroke-dashoffset="3"/>
<path d="M113.2 171.4 H132" stroke="#cfcfcf" stroke-width="0.7" fill="none"/>
<path d="M149.7 163.4 V188.29999999999998 A5.3 5.3 0 0 0 160.3 188.29999999999998 V163.4 Z" fill="#e9e9e9" stroke="#7e7e7e" stroke-width="1.05"/>
<path d="M148.1 155.4 H161.9 V161.4 L160.60000000000002 164.20000000000002 H149.39999999999998 L148.1 161.4 Z" fill="#767678"/>
<rect x="149.5" y="135.0" width="11" height="4" rx="1" fill="#7a7b7e" stroke="#4a4a4a" stroke-width="0.8"/>
<path d="M146.4 145.20000000000002 V140.0 L147.6 138.4 H162.4 L163.6 140.0 V145.20000000000002 Z" fill="#85868a" stroke="#4a4a4a" stroke-width="0.8" stroke-linejoin="round"/>
<path d="M154.6 138.4 V145.20000000000002" stroke="#4a4a4a" stroke-width="0.8"/>
<path d="M141.5 145.20000000000002 H168.0 L167.2 155.20000000000002 V159.9 H161.9 V155.20000000000002 H148.1 V159.9 H142.8 V155.20000000000002 Z" fill="#7a7b7e" stroke="#4a4a4a" stroke-width="0.9" stroke-linejoin="round"/>
<path d="M142.8 155.20000000000002 H167.2" stroke="#4a4a4a" stroke-width="0.8"/>
<path d="M336.3 163.4 V188.29999999999998 A5.3 5.3 0 0 0 346.90000000000003 188.29999999999998 V163.4 Z" fill="#e9e9e9" stroke="#7e7e7e" stroke-width="1.05"/>
<path d="M334.70000000000005 155.4 H348.5 V161.4 L347.20000000000005 164.20000000000002 H336.0 L334.70000000000005 161.4 Z" fill="#767678"/>
<rect x="336.1" y="135.0" width="11" height="4" rx="1" fill="#7a7b7e" stroke="#4a4a4a" stroke-width="0.8"/>
<path d="M333.0 145.20000000000002 V140.0 L334.20000000000005 138.4 H349.0 L350.20000000000005 140.0 V145.20000000000002 Z" fill="#85868a" stroke="#4a4a4a" stroke-width="0.8" stroke-linejoin="round"/>
<path d="M341.20000000000005 138.4 V145.20000000000002" stroke="#4a4a4a" stroke-width="0.8"/>
<path d="M328.1 145.20000000000002 H354.6 L353.8 155.20000000000002 V159.9 H348.5 V155.20000000000002 H334.70000000000005 V159.9 H329.40000000000003 V155.20000000000002 Z" fill="#7a7b7e" stroke="#4a4a4a" stroke-width="0.9" stroke-linejoin="round"/>
<path d="M329.40000000000003 155.20000000000002 H353.8" stroke="#4a4a4a" stroke-width="0.8"/>
<path d="M523.3000000000001 163.4 V188.29999999999998 A5.3 5.3 0 0 0 533.9 188.29999999999998 V163.4 Z" fill="#e9e9e9" stroke="#7e7e7e" stroke-width="1.05"/>
<path d="M521.7 155.4 H535.5 V161.4 L534.1999999999999 164.20000000000002 H523.0000000000001 L521.7 161.4 Z" fill="#767678"/>
<rect x="523.1" y="135.0" width="11" height="4" rx="1" fill="#7a7b7e" stroke="#4a4a4a" stroke-width="0.8"/>
<path d="M520.0 145.20000000000002 V140.0 L521.2 138.4 H536.0 L537.2 140.0 V145.20000000000002 Z" fill="#85868a" stroke="#4a4a4a" stroke-width="0.8" stroke-linejoin="round"/>
<path d="M528.2 138.4 V145.20000000000002" stroke="#4a4a4a" stroke-width="0.8"/>
<path d="M515.1 145.20000000000002 H541.6 L540.8000000000001 155.20000000000002 V159.9 H535.5 V155.20000000000002 H521.7 V159.9 H516.4 V155.20000000000002 Z" fill="#7a7b7e" stroke="#4a4a4a" stroke-width="0.9" stroke-linejoin="round"/>
<path d="M516.4 155.20000000000002 H540.8000000000001" stroke="#4a4a4a" stroke-width="0.8"/>
</g>
<g transform="translate(3.9 458.7)">
<path d="M742.3 178.8 L739.1 180.3 L735.9 181.7 L732.8 183.1 L729.6 184.4 L726.4 185.6 L723.3 186.7 M737.3 172.4 L734.1 173.5 L731 174.7 L727.8 176 L724.6 177.4 L721.5 178.8 L718.3 180.3 L715.2 181.7 L712 183.1 L708.8 184.4 L705.7 185.6 L702.5 186.7 M716.5 172.4 L713.4 173.5 L710.2 174.7 L707 176 L703.9 177.4 L700.7 178.8 L697.5 180.3 L694.4 181.7 L691.2 183.1 L688 184.4 L684.9 185.6 L681.7 186.7 M695.7 172.4 L692.6 173.5 L689.4 174.7 L686.2 176 L683.1 177.4 L679.9 178.8 L676.8 180.3 L673.6 181.7 L670.4 183.1 L667.3 184.4 L664.1 185.6 L660.9 186.7 M675 172.4 L671.8 173.5 L668.6 174.7 L665.5 176 L662.3 177.4 L659.1 178.8 L656 180.3 L652.8 181.7 L649.7 183.1 L646.5 184.4 L643.3 185.6 L640.2 186.7 M654.2 172.4 L651 173.5 L647.9 174.7 L644.7 176 L641.5 177.4 L638.4 178.8 L635.2 180.3 L632 181.7 L628.9 183.1 L625.7 184.4 L622.5 185.6 L619.4 186.7 M633.4 172.4 L630.2 173.5 L627.1 174.7 L623.9 176 L620.7 177.4 L617.6 178.8 L614.4 180.3 L611.3 181.7 L608.1 183.1 L604.9 184.4 L601.8 185.6 L598.6 186.7 M612.6 172.4 L609.5 173.5 L606.3 174.7 L603.1 176 L600 177.4 L596.8 178.8 L593.6 180.3 L590.5 181.7 L587.3 183.1 L584.1 184.4 L581 185.6 L577.8 186.7 M591.8 172.4 L588.7 173.5 L585.5 174.7 L582.3 176 L579.2 177.4 L576 178.8 L572.9 180.3 L569.7 181.7 L566.5 183.1 L563.4 184.4 L560.2 185.6 L557 186.7 M571.1 172.4 L567.9 173.5 L564.7 174.7 L561.6 176 L558.4 177.4 L555.2 178.8 L552.1 180.3 L548.9 181.7 L545.8 183.1 L542.6 184.4 L539.4 185.6 L536.3 186.7 M550.3 172.4 L547.1 173.5 L544 174.7 L540.8 176 L537.6 177.4 L534.5 178.8 L531.3 180.3 L528.1 181.7 L525 183.1 L521.8 184.4 L518.6 185.6 L515.5 186.7 M529.5 172.4 L526.3 173.5 L523.2 174.7 L520 176 L516.8 177.4 L513.7 178.8 L510.5 180.3 L507.4 181.7 L504.2 183.1 L501 184.4 L497.9 185.6 L494.7 186.7 M508.7 172.4 L505.6 173.5 L502.4 174.7 L499.2 176 L496.1 177.4 L492.9 178.8 L489.7 180.3 L486.6 181.7 L483.4 183.1 L480.2 184.4 L477.1 185.6 L473.9 186.7 M487.9 172.4 L484.8 173.5 L481.6 174.7 L478.4 176 L475.3 177.4 L472.1 178.8 L469 180.3 L465.8 181.7 L462.6 183.1 L459.5 184.4 L456.3 185.6 L453.1 186.7 M467.2 172.4 L464 173.5 L460.8 174.7 L457.7 176 L454.5 177.4 L451.3 178.8 L448.2 180.3 L445 181.7 L441.9 183.1 L438.7 184.4 L435.5 185.6 L432.4 186.7 M446.4 172.4 L443.2 173.5 L440.1 174.7 L436.9 176 L433.7 177.4 L430.6 178.8 L427.4 180.3 L424.2 181.7 L421.1 183.1 L417.9 184.4 L414.7 185.6 L411.6 186.7 M425.6 172.4 L422.4 173.5 L419.3 174.7 L416.1 176 L412.9 177.4 L409.8 178.8 L406.6 180.3 L403.5 181.7 L400.3 183.1 L397.1 184.4 L394 185.6 L390.8 186.7 M404.8 172.4 L401.7 173.5 L398.5 174.7 L395.3 176 L392.2 177.4 L389 178.8 L385.8 180.3 L382.7 181.7 L379.5 183.1 L376.3 184.4 L373.2 185.6 L370 186.7 M384 172.4 L380.9 173.5 L377.7 174.7 L374.5 176 L371.4 177.4 L368.2 178.8 L365.1 180.3 L361.9 181.7 L358.7 183.1 L355.6 184.4 L352.4 185.6 L349.2 186.7 M363.3 172.4 L360.1 173.5 L356.9 174.7 L353.8 176 L350.6 177.4 L347.4 178.8 L344.3 180.3 L341.1 181.7 L338 183.1 L334.8 184.4 L331.6 185.6 L328.5 186.7 M342.5 172.4 L339.3 173.5 L336.2 174.7 L333 176 L329.8 177.4 L326.7 178.8 L323.5 180.3 L320.3 181.7 L317.2 183.1 L314 184.4 L310.8 185.6 L307.7 186.7 M321.7 172.4 L318.5 173.5 L315.4 174.7 L312.2 176 L309 177.4 L305.9 178.8 L302.7 180.3 L299.6 181.7 L296.4 183.1 L293.2 184.4 L290.1 185.6 L286.9 186.7 M300.9 172.4 L297.8 173.5 L294.6 174.7 L291.4 176 L288.3 177.4 L285.1 178.8 L281.9 180.3 L278.8 181.7 L275.6 183.1 L272.4 184.4 L269.3 185.6 L266.1 186.7 M280.1 172.4 L277 173.5 L273.8 174.7 L270.6 176 L267.5 177.4 L264.3 178.8 L261.2 180.3 L258 181.7 L254.8 183.1 L251.7 184.4 L248.5 185.6 L245.3 186.7 M259.4 172.4 L256.2 173.5 L253 174.7 L249.9 176 L246.7 177.4 L243.5 178.8 L240.4 180.3 L237.2 181.7 L234.1 183.1 L230.9 184.4 L227.7 185.6 L224.6 186.7 M238.6 172.4 L235.4 173.5 L232.3 174.7 L229.1 176 L225.9 177.4 L222.8 178.8 L219.6 180.3 L216.4 181.7 L213.3 183.1 L210.1 184.4 L206.9 185.6 L203.8 186.7 M217.8 172.4 L214.6 173.5 L211.5 174.7 L208.3 176 L205.1 177.4 L202 178.8 L198.8 180.3 L195.7 181.7 L192.5 183.1 L189.3 184.4 L186.2 185.6 L183 186.7 M197 172.4 L193.9 173.5 L190.7 174.7 L187.5 176 L184.4 177.4 L181.2 178.8 L178 180.3 L174.9 181.7 L171.7 183.1 L168.5 184.4 L165.4 185.6 L162.2 186.7 M176.2 172.4 L173.1 173.5 L169.9 174.7 L166.7 176 L163.6 177.4 L160.4 178.8 L157.3 180.3 L154.1 181.7 L150.9 183.1 L147.9 184.4 L145.3 185.8 L142.9 187.3 M155.5 172.4 L152.5 173.5 L149.5 174.7 L146.3 176.3 L143.3 178.3 L140.6 180.6 L138.3 183 L136.2 185.4 L134.1 187.7 L131.7 189.8 L129.3 191.8 L126.9 193.6 M133.7 178.7 L131.9 181.1 L130.2 183.3 L128.4 185.4 L126.6 187.3 L124.7 189.2 L122.9 191 L121 192.8 L119.1 194.6 L117.2 196.3 L115.2 198 L113.3 199.7 M115.5 188.9 L113.5 190.5 L111.6 192.2 L109.7 193.9 L107.8 195.7 L105.9 197.5 L104 199.4 L102.1 201.2 L100.3 203 L98.3 204.7 L96.4 206.4 L94.4 208 M96.8 197.2 L94.8 198.8 L92.8 200.5 L90.9 202.2 L89 204 L87.2 205.8 L85.3 207.7 L83.3 209.5 L81.2 211.2 L79 212.9 L76.6 214.4 L74 215.8 M78.1 205.2 L76.1 206.7 L74 208.1 L71.8 209.4 L69.5 210.7 L67 211.9 L64.4 212.9 L61.7 213.8 L58.9 214.4 L56 214.8 L53.1 214.9 L50.1 214.8 M59 207.7 L56.6 208 L54.1 208.1 L51.5 208.2 L48.9 208.1 L46.1 207.9 L43.4 207.4 L40.6 206.8 L37.9 205.9 L35.2 204.8 L32.6 203.4 L30.1 201.8 M41.5 200.2 L39.2 199.2 L36.9 198.1 L34.7 196.9 L32.4 195.5 L30.2 193.9 L28 192.1 L26 190.2 L24 188.1 L22.3 185.7 L20.8 183.2 L19.4 180.6 M30 185 L28.5 183 L27.2 180.9 L25.8 178.6 L24.6 176.3 L23.5 173.8 L22.5 171.2 L21.7 168.5 L21.1 165.7 L20.8 162.8 L20.7 159.9 L20.8 156.9 M27.8 166 L27.5 163.6 L27.4 161.1 L27.4 158.5 L27.5 155.8 L27.7 153.1 L28.2 150.4 L28.9 147.6 L29.8 144.9 L30.9 142.2 L32.3 139.7 L34 137.2 M35.4 148.6 L36.4 146.3 L37.6 144.1 L38.8 141.8 L40.3 139.6 L41.9 137.4 L43.6 135.2 L45.6 133.2 L47.8 131.3 L50.1 129.6 L52.6 128 L55.3 126.7 M50.8 137.3 L52.8 135.8 L54.9 134.5 L57.2 133.2 L59.5 132 L62 130.8 L64.6 129.9 L67.3 129.1 L70.2 128.6 L73.1 128.3 L76 128.2 L78.8 128.3 M69.8 135.3 L72.3 135 L74.8 134.9 L77.4 134.9 L80 134.9 L82.7 135 L85.3 135.2 L88 135.3 L90.6 135.5 L93.1 135.8 L95.7 136.1 L98.2 136.5 M88.5 142 L91.1 142.3 L93.6 142.6 L96.2 142.9 L98.8 143.1 L101.4 143.3 L104 143.4 L106.6 143.6 L109.2 143.8 L111.8 144.1 L114.3 144.4 L116.8 144.7 M107.2 150.2 L109.8 150.6 L112.3 150.9 L114.9 151.2 L117.5 151.4 L120.1 151.6 L122.7 151.7 L125.3 151.9 L127.9 152.1 L130.4 152.4 L133 152.7 L135.5 153 M126 158.6 L128.8 159.5 L131.6 160.4 L134.4 161.3 L137.3 161.9 L140.3 162 L143.3 161.7 L146.1 160.8 L148.9 159.7 L151.8 158.4 L154.7 157.2 L157.6 156.1 M145.9 170 L149.5 169.3 L152.6 168.1 L155.8 166.8 L159 165.4 L162.1 164 L165.3 162.5 L168.5 161.1 L171.6 159.7 L174.8 158.4 L177.9 157.2 L181.1 156.1 M167.1 170.4 L170.2 169.3 L173.4 168.1 L176.6 166.8 L179.7 165.4 L182.9 164 L186.1 162.5 L189.2 161.1 L192.4 159.7 L195.6 158.4 L198.7 157.2 L201.9 156.1 M187.9 170.4 L191 169.3 L194.2 168.1 L197.4 166.8 L200.5 165.4 L203.7 164 L206.8 162.5 L210 161.1 L213.2 159.7 L216.3 158.4 L219.5 157.2 L222.7 156.1 M208.6 170.4 L211.8 169.3 L215 168.1 L218.1 166.8 L221.3 165.4 L224.5 164 L227.6 162.5 L230.8 161.1 L234 159.7 L237.1 158.4 L240.3 157.2 L243.4 156.1 M229.4 170.4 L232.6 169.3 L235.8 168.1 L238.9 166.8 L242.1 165.4 L245.2 164 L248.4 162.5 L251.6 161.1 L254.7 159.7 L257.9 158.4 L261.1 157.2 L264.2 156.1 M250.2 170.4 L253.4 169.3 L256.5 168.1 L259.7 166.8 L262.9 165.4 L266 164 L269.2 162.5 L272.4 161.1 L275.5 159.7 L278.7 158.4 L281.8 157.2 L285 156.1 M271 170.4 L274.1 169.3 L277.3 168.1 L280.5 166.8 L283.6 165.4 L286.8 164 L290 162.5 L293.1 161.1 L296.3 159.7 L299.5 158.4 L302.6 157.2 L305.8 156.1 M291.8 170.4 L294.9 169.3 L298.1 168.1 L301.3 166.8 L304.4 165.4 L307.6 164 L310.7 162.5 L313.9 161.1 L317.1 159.7 L320.2 158.4 L323.4 157.2 L326.6 156.1 M312.5 170.4 L315.7 169.3 L318.9 168.1 L322 166.8 L325.2 165.4 L328.4 164 L331.5 162.5 L334.7 161.1 L337.9 159.7 L341 158.4 L344.2 157.2 L347.3 156.1 M333.3 170.4 L336.5 169.3 L339.7 168.1 L342.8 166.8 L346 165.4 L349.1 164 L352.3 162.5 L355.5 161.1 L358.6 159.7 L361.8 158.4 L365 157.2 L368.1 156.1 M354.1 170.4 L357.3 169.3 L360.4 168.1 L363.6 166.8 L366.8 165.4 L369.9 164 L373.1 162.5 L376.3 161.1 L379.4 159.7 L382.6 158.4 L385.7 157.2 L388.9 156.1 M374.9 170.4 L378 169.3 L381.2 168.1 L384.4 166.8 L387.5 165.4 L390.7 164 L393.9 162.5 L397 161.1 L400.2 159.7 L403.4 158.4 L406.5 157.2 L409.7 156.1 M395.7 170.4 L398.8 169.3 L402 168.1 L405.2 166.8 L408.3 165.4 L411.5 164 L414.6 162.5 L417.8 161.1 L421 159.7 L424.1 158.4 L427.3 157.2 L430.5 156.1 M416.4 170.4 L419.6 169.3 L422.8 168.1 L425.9 166.8 L429.1 165.4 L432.3 164 L435.4 162.5 L438.6 161.1 L441.8 159.7 L444.9 158.4 L448.1 157.2 L451.2 156.1 M437.2 170.4 L440.4 169.3 L443.6 168.1 L446.7 166.8 L449.9 165.4 L453 164 L456.2 162.5 L459.4 161.1 L462.5 159.7 L465.7 158.4 L468.9 157.2 L472 156.1 M458 170.4 L461.2 169.3 L464.3 168.1 L467.5 166.8 L470.7 165.4 L473.8 164 L477 162.5 L480.2 161.1 L483.3 159.7 L486.5 158.4 L489.6 157.2 L492.8 156.1 M478.8 170.4 L481.9 169.3 L485.1 168.1 L488.3 166.8 L491.4 165.4 L494.6 164 L497.8 162.5 L500.9 161.1 L504.1 159.7 L507.3 158.4 L510.4 157.2 L513.6 156.1 M499.6 170.4 L502.7 169.3 L505.9 168.1 L509.1 166.8 L512.2 165.4 L515.4 164 L518.5 162.5 L521.7 161.1 L524.9 159.7 L528 158.4 L531.2 157.2 L534.4 156.1 M520.3 170.4 L523.5 169.3 L526.7 168.1 L529.8 166.8 L533 165.4 L536.2 164 L539.3 162.5 L542.5 161.1 L545.7 159.7 L548.8 158.4 L552 157.2 L555.1 156.1 M541.1 170.4 L544.3 169.3 L547.5 168.1 L550.6 166.8 L553.8 165.4 L556.9 164 L560.1 162.5 L563.3 161.1 L566.4 159.7 L569.6 158.4 L572.8 157.2 L575.9 156.1 M561.9 170.4 L565.1 169.3 L568.2 168.1 L571.4 166.8 L574.6 165.4 L577.7 164 L580.9 162.5 M743.8 171.5 L742.8 171.5 L741.8 171.6 L740.8 171.8 L739.8 171.9 L738.8 172.1 L737.8 172.3 L736.8 172.3 L735.8 172.1 L734.8 171.9 L733.8 171.8 L732.8 171.6 L731.8 171.5 L730.8 171.5 L729.8 171.4 L728.8 171.3 L727.8 171.3 L726.8 171.3 L725.8 171.3 L724.8 171.3 L723.8 171.4 L722.8 171.5 L721.8 171.6 L720.8 171.7 L719.8 171.8 L718.8 171.9 L717.8 172.1 L716.8 172.3 L715.8 172.2 L714.8 172 L713.8 171.9 L712.8 171.7 L711.8 171.6 L710.8 171.5 L709.8 171.4 L708.8 171.4 L707.8 171.3 L706.8 171.3 L705.8 171.3 L704.8 171.3 L703.8 171.4 L702.8 171.4 L701.8 171.5 L700.8 171.6 L699.8 171.7 L698.8 171.8 L697.8 172 L696.8 172.1 L695.8 172.4 L694.8 172.2 L693.8 172 L692.8 171.8 L691.8 171.7 L690.8 171.6 L689.8 171.5 L688.8 171.4 L687.8 171.4 L686.8 171.3 L685.8 171.3 L684.8 171.3 L683.8 171.3 L682.8 171.4 L681.8 171.4 L680.8 171.5 L679.8 171.6 L678.8 171.7 L677.8 171.9 L676.8 172 L675.8 172.2 L674.8 172.3 L673.8 172.1 L672.8 172 L671.8 171.8 L670.8 171.7 L669.8 171.6 L668.8 171.5 L667.8 171.4 L666.8 171.3 L665.8 171.3 L664.8 171.3 L663.8 171.3 L662.8 171.3 L661.8 171.4 L660.8 171.4 L659.8 171.5 L658.8 171.6 L657.8 171.7 L656.8 171.9 L655.8 172 L654.8 172.2 L653.8 172.3 L652.8 172.1 L651.8 171.9 L650.8 171.8 L649.8 171.7 L648.8 171.5 L647.8 171.5 L646.8 171.4 L645.8 171.3 L644.8 171.3 L643.8 171.3 L642.8 171.3 L641.8 171.3 L640.8 171.4 L639.8 171.5 L638.8 171.5 L637.8 171.7 L636.8 171.8 L635.8 171.9 L634.8 172.1 L633.8 172.3 L632.8 172.2 L631.8 172 L630.8 171.9 L629.8 171.8 L628.8 171.6 L627.8 171.5 L626.8 171.4 L625.8 171.4 L624.8 171.3 L623.8 171.3 L622.8 171.3 L621.8 171.3 L620.8 171.3 L619.8 171.4 L618.8 171.5 L617.8 171.6 L616.8 171.7 L615.8 171.8 L614.8 172 L613.8 172.1 L612.8 172.3 L611.8 172.2 L610.8 172 L609.8 171.9 L608.8 171.7 L607.8 171.6 L606.8 171.5 L605.8 171.4 L604.8 171.4 L603.8 171.3 L602.8 171.3 L601.8 171.3 L600.8 171.3 L599.8 171.4 L598.8 171.4 L597.8 171.5 L596.8 171.6 L595.8 171.7 L594.8 171.8 L593.8 172 L592.8 172.2 L591.8 172.4 L590.8 172.2 L589.8 172 L588.8 171.8 L587.8 171.7 L586.8 171.6 L585.8 171.5 L584.8 171.4 L583.8 171.4 L582.8 171.3 L581.8 171.3 L580.8 171.3 L579.8 171.3 L578.8 171.4 L577.8 171.4 L576.8 171.5 L575.8 171.6 L574.8 171.7 L573.8 171.9 L572.8 172 L571.8 172.2 L570.8 172.3 L569.8 172.1 L568.8 171.9 L567.8 171.8 L566.8 171.7 L565.8 171.6 L564.8 171.5 L563.8 171.4 L562.8 171.3 L561.8 171.3 L560.8 171.3 L559.8 171.3 L558.8 171.3 L557.8 171.4 L556.8 171.4 L555.8 171.5 L554.8 171.6 L553.8 171.8 L552.8 171.9 L551.8 172.1 L550.8 172.3 L549.8 172.3 L548.8 172.1 L547.8 171.9 L546.8 171.8 L545.8 171.6 L544.8 171.5 L543.8 171.5 L542.8 171.4 L541.8 171.3 L540.8 171.3 L539.8 171.3 L538.8 171.3 L537.8 171.3 L536.8 171.4 L535.8 171.5 L534.8 171.6 L533.8 171.7 L532.8 171.8 L531.8 171.9 L530.8 172.1 L529.8 172.3 L528.8 172.2 L527.8 172 L526.8 171.9 L525.8 171.7 L524.8 171.6 L523.8 171.5 L522.8 171.4 L521.8 171.4 L520.8 171.3 L519.8 171.3 L518.8 171.3 L517.8 171.3 L516.8 171.4 L515.8 171.4 L514.8 171.5 L513.8 171.6 L512.8 171.7 L511.8 171.8 L510.8 172 L509.8 172.1 L508.8 172.4 L507.8 172.2 L506.8 172 L505.8 171.8 L504.8 171.7 L503.8 171.6 L502.8 171.5 L501.8 171.4 L500.8 171.4 L499.8 171.3 L498.8 171.3 L497.8 171.3 L496.8 171.3 L495.8 171.4 L494.8 171.4 L493.8 171.5 L492.8 171.6 L491.8 171.7 L490.8 171.9 L489.8 172 L488.8 172.2 L487.8 172.3 L486.8 172.1 L485.8 172 L484.8 171.8 L483.8 171.7 L482.8 171.6 L481.8 171.5 L480.8 171.4 L479.8 171.4 L478.8 171.3 L477.8 171.3 L476.8 171.3 L475.8 171.3 L474.8 171.4 L473.8 171.4 L472.8 171.5 L471.8 171.6 L470.8 171.7 L469.8 171.9 L468.8 172 L467.8 172.2 L466.8 172.3 L465.8 172.1 L464.8 171.9 L463.8 171.8 L462.8 171.7 L461.8 171.5 L460.8 171.5 L459.8 171.4 L458.8 171.3 L457.8 171.3 L456.8 171.3 L455.8 171.3 L454.8 171.3 L453.8 171.4 L452.8 171.5 L451.8 171.5 L450.8 171.6 L449.8 171.8 L448.8 171.9 L447.8 172.1 L446.8 172.3 L445.8 172.2 L444.8 172.1 L443.8 171.9 L442.8 171.8 L441.8 171.6 L440.8 171.5 L439.8 171.4 L438.8 171.4 L437.8 171.3 L436.8 171.3 L435.8 171.3 L434.8 171.3 L433.8 171.3 L432.8 171.4 L431.8 171.5 L430.8 171.6 L429.8 171.7 L428.8 171.8 L427.8 172 L426.8 172.1 L425.8 172.3 L424.8 172.2 L423.8 172 L422.8 171.9 L421.8 171.7 L420.8 171.6 L419.8 171.5 L418.8 171.4 L417.8 171.4 L416.8 171.3 L415.8 171.3 L414.8 171.3 L413.8 171.3 L412.8 171.4 L411.8 171.4 L410.8 171.5 L409.8 171.6 L408.8 171.7 L407.8 171.8 L406.8 172 L405.8 172.2 L404.8 172.4 L403.8 172.2 L402.8 172 L401.8 171.8 L400.8 171.7 L399.8 171.6 L398.8 171.5 L397.8 171.4 L396.8 171.4 L395.8 171.3 L394.8 171.3 L393.8 171.3 L392.8 171.3 L391.8 171.4 L390.8 171.4 L389.8 171.5 L388.8 171.6 L387.8 171.7 L386.8 171.9 L385.8 172 L384.8 172.2 L383.8 172.3 L382.8 172.1 L381.8 171.9 L380.8 171.8 L379.8 171.7 L378.8 171.6 L377.8 171.5 L376.8 171.4 L375.8 171.3 L374.8 171.3 L373.8 171.3 L372.8 171.3 L371.8 171.3 L370.8 171.4 L369.8 171.4 L368.8 171.5 L367.8 171.6 L366.8 171.8 L365.8 171.9 L364.8 172.1 L363.8 172.3 L362.8 172.3 L361.8 172.1 L360.8 171.9 L359.8 171.8 L358.8 171.6 L357.8 171.5 L356.8 171.5 L355.8 171.4 L354.8 171.3 L353.8 171.3 L352.8 171.3 L351.8 171.3 L350.8 171.3 L349.8 171.4 L348.8 171.5 L347.8 171.6 L346.8 171.7 L345.8 171.8 L344.8 171.9 L343.8 172.1 L342.8 172.3 L341.8 172.2 L340.8 172 L339.8 171.9 L338.8 171.7 L337.8 171.6 L336.8 171.5 L335.8 171.4 L334.8 171.4 L333.8 171.3 L332.8 171.3 L331.8 171.3 L330.8 171.3 L329.8 171.4 L328.8 171.4 L327.8 171.5 L326.8 171.6 L325.8 171.7 L324.8 171.8 L323.8 172 L322.8 172.1 L321.8 172.4 L320.8 172.2 L319.8 172 L318.8 171.8 L317.8 171.7 L316.8 171.6 L315.8 171.5 L314.8 171.4 L313.8 171.4 L312.8 171.3 L311.8 171.3 L310.8 171.3 L309.8 171.3 L308.8 171.4 L307.8 171.4 L306.8 171.5 L305.8 171.6 L304.8 171.7 L303.8 171.8 L302.8 172 L301.8 172.2 L300.8 172.4 L299.8 172.1 L298.8 172 L297.8 171.8 L296.8 171.7 L295.8 171.6 L294.8 171.5 L293.8 171.4 L292.8 171.4 L291.8 171.3 L290.8 171.3 L289.8 171.3 L288.8 171.3 L287.8 171.4 L286.8 171.4 L285.8 171.5 L284.8 171.6 L283.8 171.7 L282.8 171.9 L281.8 172 L280.8 172.2 L279.8 172.3 L278.8 172.1 L277.8 171.9 L276.8 171.8 L275.8 171.7 L274.8 171.6 L273.8 171.5 L272.8 171.4 L271.8 171.3 L270.8 171.3 L269.8 171.3 L268.8 171.3 L267.8 171.3 L266.8 171.4 L265.8 171.5 L264.8 171.5 L263.8 171.6 L262.8 171.8 L261.8 171.9 L260.8 172.1 L259.8 172.3 L258.8 172.2 L257.8 172.1 L256.8 171.9 L255.8 171.8 L254.8 171.6 L253.8 171.5 L252.8 171.4 L251.8 171.4 L250.8 171.3 L249.8 171.3 L248.8 171.3 L247.8 171.3 L246.8 171.3 L245.8 171.4 L244.8 171.5 L243.8 171.6 L242.8 171.7 L241.8 171.8 L240.8 171.9 L239.8 172.1 L238.8 172.3 L237.8 172.2 L236.8 172 L235.8 171.9 L234.8 171.7 L233.8 171.6 L232.8 171.5 L231.8 171.4 L230.8 171.4 L229.8 171.3 L228.8 171.3 L227.8 171.3 L226.8 171.3 L225.8 171.4 L224.8 171.4 L223.8 171.5 L222.8 171.6 L221.8 171.7 L220.8 171.8 L219.8 172 L218.8 172.2 L217.8 172.4 L216.8 172.2 L215.8 172 L214.8 171.8 L213.8 171.7 L212.8 171.6 L211.8 171.5 L210.8 171.4 L209.8 171.4 L208.8 171.3 L207.8 171.3 L206.8 171.3 L205.8 171.3 L204.8 171.4 L203.8 171.4 L202.8 171.5 L201.8 171.6 L200.8 171.7 L199.8 171.9 L198.8 172 L197.8 172.2 L196.8 172.3 L195.8 172.1 L194.8 171.9 L193.8 171.8 L192.8 171.7 L191.8 171.6 L190.8 171.5 L189.8 171.4 L188.8 171.3 L187.8 171.3 L186.8 171.3 L185.8 171.3 L184.8 171.3 L183.8 171.4 L182.8 171.4 L181.8 171.5 L180.8 171.6 L179.8 171.8 L178.8 171.9 L177.8 172.1 L176.8 172.2 L175.8 172.3 L174.8 172.1 L173.8 171.9 L172.8 171.8 L171.8 171.6 L170.8 171.5 L169.8 171.5 L168.8 171.4 L167.8 171.3 L166.8 171.3 L165.8 171.3 L164.8 171.3 L163.8 171.3 L162.8 171.4 L161.8 171.5 L160.8 171.6 L159.8 171.7 L158.8 171.8 L157.8 171.9 L156.8 172.1 L155.8 172.3 L154.8 172.2 L153.8 172 L152.8 171.9 L151.8 171.7 L150.8 171.6 L149.8 171.5 L148.8 171.4 L147.6 171.4 L146.4 171.4 L145.2 171.4 L143.9 171.6 L142.7 171.7 L141.5 171.9 L140.3 172.2 L139.1 172.5 L138 172.9 L136.8 173.3 L135.7 173.8 L134.6 174.3 L133.5 174.9 L132.5 175.5 L131.3 175.8 L130.2 176.1 L129.3 176.3 L128.3 176.6 L127.3 176.9 L126.4 177.2 L125.4 177.6 L124.5 177.9 L123.6 178.3 L122.6 178.7 L121.7 179.1 L120.8 179.5 L119.9 179.9 L119 180.4 L118.2 180.9 L117.3 181.4 L116.4 181.9 L115.6 182.4 L114.7 183 L113.9 183.6 L113 184 L112 184.3 L111 184.5 L110 184.8 L109.1 185.1 L108.1 185.4 L107.2 185.7 L106.2 186 L105.3 186.4 L104.4 186.8 L103.4 187.2 L102.5 187.6 L101.6 188 L100.7 188.5 L99.9 188.9 L99 189.4 L98.1 189.9 L97.2 190.5 L96.4 191 L95.5 191.6 L94.7 192.2 L93.7 192.4 L92.8 192.7 L91.8 192.9 L90.8 193.2 L89.8 193.5 L88.9 193.8 L87.9 194.2 L87 194.5 L86.1 194.9 L85.2 195.3 L84.2 195.7 L83.3 196.1 L82.5 196.6 L81.6 197 L80.7 197.5 L79.9 197.9 L79.1 198.4 L78.3 198.9 L77.5 199.4 L76.7 199.9 L75.9 200.2 L75 200.3 L74.1 200.5 L73.3 200.6 L72.4 200.7 L71.6 200.8 L70.8 200.9 L70 201 L69.2 201.1 L68.5 201.2 L67.7 201.3 L66.9 201.4 L66.1 201.5 L65.3 201.6 L64.5 201.7 L63.8 201.8 L63 201.9 L62.2 202 L61.3 202.1 L60.5 202.2 L59.7 202.3 L58.9 202 L58.2 201.6 L57.4 201.3 L56.7 201 L55.9 200.7 L55.2 200.4 L54.5 200.1 L53.7 199.8 L53 199.5 L52.3 199.2 L51.6 198.9 L50.9 198.6 L50.1 198.3 L49.4 197.9 L48.7 197.6 L47.9 197.3 L47.2 197 L46.4 196.7 L45.7 196.4 L44.9 196 L44.4 195.4 L43.9 194.8 L43.4 194.1 L42.9 193.5 L42.4 192.8 L41.9 192.2 L41.4 191.6 L41 190.9 L40.5 190.3 L40 189.7 L39.6 189 L39.1 188.4 L38.6 187.8 L38.1 187.1 L37.7 186.5 L37.2 185.9 L36.7 185.2 L36.2 184.6 L35.7 183.9 L35.2 183.2 L35 182.5 L34.9 181.7 L34.8 180.8 L34.7 180 L34.6 179.2 L34.5 178.4 L34.4 177.7 L34.3 176.9 L34.2 176.1 L34.1 175.3 L34 174.5 L33.9 173.8 L33.8 173 L33.7 172.2 L33.7 171.4 L33.6 170.6 L33.5 169.8 L33.4 169 L33.3 168.2 L33.2 167.4 L33.2 166.5 L33.6 165.8 L33.9 165 L34.2 164.3 L34.5 163.5 L34.9 162.8 L35.2 162.1 L35.5 161.4 L35.8 160.6 L36.1 159.9 L36.4 159.2 L36.8 158.5 L37.1 157.8 L37.4 157 L37.7 156.3 L38 155.6 L38.3 154.8 L38.7 154.1 L39 153.4 L39.3 152.6 L39.7 151.8 L40.4 151.4 L41 150.9 L41.7 150.4 L42.3 149.9 L43 149.4 L43.6 149 L44.3 148.5 L44.9 148 L45.5 147.6 L46.2 147.1 L46.8 146.6 L47.4 146.2 L48.1 145.7 L48.7 145.2 L49.4 144.8 L50 144.3 L50.7 143.8 L51.3 143.3 L52 142.9 L52.7 142.4 L53.5 142.2 L54.3 142.1 L55.1 142 L55.9 141.9 L56.7 141.9 L57.5 141.8 L58.3 141.7 L59.1 141.6 L59.9 141.5 L60.6 141.5 L61.4 141.4 L62.2 141.3 L63 141.2 L63.8 141.1 L64.6 141 L65.4 141 L66.2 140.9 L67 140.8 L67.8 140.7 L68.6 140.6 L69.4 140.8 L70.2 141.1 L70.9 141.5 L71.7 141.8 L72.4 142.1 L73.2 142.5 L74 142.8 L74.8 143.1 L75.6 143.5 L76.4 143.8 L77.2 144.1 L78.1 144.4 L78.9 144.7 L79.8 145.1 L80.7 145.4 L81.7 145.7 L82.6 145.9 L83.6 146.2 L84.5 146.5 L85.5 146.7 L86.5 147 L87.3 147.6 L88.2 148.2 L89 148.7 L89.9 149.2 L90.8 149.7 L91.6 150.2 L92.5 150.7 L93.4 151.1 L94.3 151.6 L95.2 152 L96.1 152.4 L97.1 152.8 L98 153.1 L98.9 153.5 L99.9 153.8 L100.9 154.1 L101.8 154.4 L102.8 154.6 L103.8 154.9 L104.8 155.1 L105.6 155.6 L106.5 156.2 L107.3 156.7 L108.2 157.3 L109.1 157.8 L109.9 158.3 L110.8 158.8 L111.7 159.2 L112.6 159.7 L113.5 160.1 L114.4 160.5 L115.3 160.9 L116.3 161.2 L117.2 161.6 L118.2 161.9 L119.1 162.2 L120.1 162.5 L121 162.8 L122 163.1 L123 163.3 L124 163.6 L124.8 164.2 L125.7 164.8 L126.5 165.3 L127.4 165.8 L128.2 166.3 L129.1 166.8 L130 167.3 L131 167.8 L132.1 168.3 L133.2 168.7 L134.4 169.1 L135.5 169.5 L136.7 169.8 L137.9 170 L139.1 170.2 L140.4 170.4 L141.6 170.5 L142.8 170.5 L144 170.5 L145.2 170.4 L146.4 170.5 L147.6 170.7 L148.8 170.9 L149.8 171 L150.8 171.2 L151.8 171.3 L152.8 171.3 L153.8 171.4 L154.8 171.5 L155.8 171.5 L156.8 171.5 L157.8 171.5 L158.8 171.5 L159.8 171.4 L160.8 171.3 L161.8 171.2 L162.8 171.1 L163.8 171 L164.8 170.9 L165.8 170.7 L166.8 170.5 L167.8 170.6 L168.8 170.8 L169.8 170.9 L170.8 171.1 L171.8 171.2 L172.8 171.3 L173.8 171.4 L174.8 171.4 L175.8 171.5 L176.8 171.5 L177.8 171.5 L178.8 171.5 L179.8 171.4 L180.8 171.4 L181.8 171.3 L182.8 171.2 L183.8 171.1 L184.8 171 L185.8 170.8 L186.8 170.7 L187.8 170.4 L188.8 170.6 L189.8 170.8 L190.8 171 L191.8 171.1 L192.8 171.2 L193.8 171.3 L194.8 171.4 L195.8 171.4 L196.8 171.5 L197.8 171.5 L198.8 171.5 L199.8 171.5 L200.8 171.4 L201.8 171.4 L202.8 171.3 L203.8 171.2 L204.8 171.1 L205.8 170.9 L206.8 170.8 L207.8 170.6 L208.8 170.5 L209.8 170.7 L210.8 170.8 L211.8 171 L212.8 171.1 L213.8 171.2 L214.8 171.3 L215.8 171.4 L216.8 171.5 L217.8 171.5 L218.8 171.5 L219.8 171.5 L220.8 171.5 L221.8 171.4 L222.8 171.4 L223.8 171.3 L224.8 171.2 L225.8 171.1 L226.8 170.9 L227.8 170.8 L228.8 170.6 L229.8 170.5 L230.8 170.7 L231.8 170.9 L232.8 171 L233.8 171.1 L234.8 171.3 L235.8 171.3 L236.8 171.4 L237.8 171.5 L238.8 171.5 L239.8 171.5 L240.8 171.5 L241.8 171.5 L242.8 171.4 L243.8 171.3 L244.8 171.3 L245.8 171.1 L246.8 171 L247.8 170.9 L248.8 170.7 L249.8 170.5 L250.8 170.6 L251.8 170.8 L252.8 170.9 L253.8 171.1 L254.8 171.2 L255.8 171.3 L256.8 171.4 L257.8 171.4 L258.8 171.5 L259.8 171.5 L260.8 171.5 L261.8 171.5 L262.8 171.5 L263.8 171.4 L264.8 171.3 L265.8 171.2 L266.8 171.1 L267.8 171 L268.8 170.8 L269.8 170.7 L270.8 170.5 L271.8 170.6 L272.8 170.8 L273.8 170.9 L274.8 171.1 L275.8 171.2 L276.8 171.3 L277.8 171.4 L278.8 171.4 L279.8 171.5 L280.8 171.5 L281.8 171.5 L282.8 171.5 L283.8 171.4 L284.8 171.4 L285.8 171.3 L286.8 171.2 L287.8 171.1 L288.8 171 L289.8 170.8 L290.8 170.6 L291.8 170.4 L292.8 170.7 L293.8 170.8 L294.8 171 L295.8 171.1 L296.8 171.2 L297.8 171.3 L298.8 171.4 L299.8 171.4 L300.8 171.5 L301.8 171.5 L302.8 171.5 L303.8 171.5 L304.8 171.4 L305.8 171.4 L306.8 171.3 L307.8 171.2 L308.8 171.1 L309.8 170.9 L310.8 170.8 L311.8 170.6 L312.8 170.5 L313.8 170.7 L314.8 170.9 L315.8 171 L316.8 171.1 L317.8 171.2 L318.8 171.3 L319.8 171.4 L320.8 171.5 L321.8 171.5 L322.8 171.5 L323.8 171.5 L324.8 171.5 L325.8 171.4 L326.8 171.4 L327.8 171.3 L328.8 171.2 L329.8 171 L330.8 170.9 L331.8 170.7 L332.8 170.5 L333.8 170.5 L334.8 170.7 L335.8 170.9 L336.8 171 L337.8 171.2 L338.8 171.3 L339.8 171.3 L340.8 171.4 L341.8 171.5 L342.8 171.5 L343.8 171.5 L344.8 171.5 L345.8 171.5 L346.8 171.4 L347.8 171.3 L348.8 171.2 L349.8 171.1 L350.8 171 L351.8 170.9 L352.8 170.7 L353.8 170.5 L354.8 170.6 L355.8 170.8 L356.8 170.9 L357.8 171.1 L358.8 171.2 L359.8 171.3 L360.8 171.4 L361.8 171.4 L362.8 171.5 L363.8 171.5 L364.8 171.5 L365.8 171.5 L366.8 171.4 L367.8 171.4 L368.8 171.3 L369.8 171.2 L370.8 171.1 L371.8 171 L372.8 170.8 L373.8 170.7 L374.8 170.4 L375.8 170.6 L376.8 170.8 L377.8 171 L378.8 171.1 L379.8 171.2 L380.8 171.3 L381.8 171.4 L382.8 171.4 L383.8 171.5 L384.8 171.5 L385.8 171.5 L386.8 171.5 L387.8 171.4 L388.8 171.4 L389.8 171.3 L390.8 171.2 L391.8 171.1 L392.8 170.9 L393.8 170.8 L394.8 170.6 L395.8 170.5 L396.8 170.7 L397.8 170.8 L398.8 171 L399.8 171.1 L400.8 171.2 L401.8 171.3 L402.8 171.4 L403.8 171.4 L404.8 171.5 L405.8 171.5 L406.8 171.5 L407.8 171.5 L408.8 171.4 L409.8 171.4 L410.8 171.3 L411.8 171.2 L412.8 171.1 L413.8 170.9 L414.8 170.8 L415.8 170.6 L416.8 170.5 L417.8 170.7 L418.8 170.9 L419.8 171 L420.8 171.1 L421.8 171.3 L422.8 171.3 L423.8 171.4 L424.8 171.5 L425.8 171.5 L426.8 171.5 L427.8 171.5 L428.8 171.5 L429.8 171.4 L430.8 171.3 L431.8 171.3 L432.8 171.1 L433.8 171 L434.8 170.9 L435.8 170.7 L436.8 170.5 L437.8 170.6 L438.8 170.7 L439.8 170.9 L440.8 171 L441.8 171.2 L442.8 171.3 L443.8 171.4 L444.8 171.4 L445.8 171.5 L446.8 171.5 L447.8 171.5 L448.8 171.5 L449.8 171.5 L450.8 171.4 L451.8 171.3 L452.8 171.2 L453.8 171.1 L454.8 171 L455.8 170.8 L456.8 170.7 L457.8 170.5 L458.8 170.6 L459.8 170.8 L460.8 170.9 L461.8 171.1 L462.8 171.2 L463.8 171.3 L464.8 171.4 L465.8 171.4 L466.8 171.5 L467.8 171.5 L468.8 171.5 L469.8 171.5 L470.8 171.4 L471.8 171.4 L472.8 171.3 L473.8 171.2 L474.8 171.1 L475.8 171 L476.8 170.8 L477.8 170.6 L478.8 170.4 L479.8 170.6 L480.8 170.8 L481.8 171 L482.8 171.1 L483.8 171.2 L484.8 171.3 L485.8 171.4 L486.8 171.4 L487.8 171.5 L488.8 171.5 L489.8 171.5 L490.8 171.5 L491.8 171.4 L492.8 171.4 L493.8 171.3 L494.8 171.2 L495.8 171.1 L496.8 170.9 L497.8 170.8 L498.8 170.6 L499.8 170.5 L500.8 170.7 L501.8 170.9 L502.8 171 L503.8 171.1 L504.8 171.2 L505.8 171.3 L506.8 171.4 L507.8 171.5 L508.8 171.5 L509.8 171.5 L510.8 171.5 L511.8 171.5 L512.8 171.4 L513.8 171.4 L514.8 171.3 L515.8 171.2 L516.8 171 L517.8 170.9 L518.8 170.7 L519.8 170.5 L520.8 170.5 L521.8 170.7 L522.8 170.9 L523.8 171 L524.8 171.2 L525.8 171.3 L526.8 171.3 L527.8 171.4 L528.8 171.5 L529.8 171.5 L530.8 171.5 L531.8 171.5 L532.8 171.5 L533.8 171.4 L534.8 171.3 L535.8 171.2 L536.8 171.1 L537.8 171 L538.8 170.9 L539.8 170.7 L540.8 170.5 L541.8 170.6 L542.8 170.8 L543.8 170.9 L544.8 171.1 L545.8 171.2 L546.8 171.3 L547.8 171.4 L548.8 171.4 L549.8 171.5 L550.8 171.5 L551.8 171.5 L552.8 171.5 L553.8 171.4 L554.8 171.4 L555.8 171.3 L556.8 171.2 L557.8 171.1 L558.8 171 L559.8 170.8 L560.8 170.7 L561.8 170.4 L562.8 170.6 L563.8 170.8 L564.8 171 L565.8 171.1 L566.8 171.2 L567.8 171.3 L568.8 171.4 L569.8 171.4 L570.8 171.5 L571.8 171.5 L572.8 171.5 L573.8 171.5 L574.8 171.4 L575.8 171.4 L576.8 171.3 L577.8 171.2 L578.8 171.1 L579.8 171 L580.8 170.8 M743.8 186.8 L742.8 187 L741.8 187.2 L740.8 187.3 L739.8 187.4 L738.8 187.5 L737.8 187.6 L736.8 187.7 L735.8 187.8 L734.8 187.8 L733.8 187.8 L732.8 187.8 L731.8 187.8 L730.8 187.7 L729.8 187.7 L728.8 187.6 L727.8 187.5 L726.8 187.3 L725.8 187.2 L724.8 187 L723.8 186.8 L722.8 186.8 L721.8 187 L720.8 187.2 L719.8 187.3 L718.8 187.5 L717.8 187.6 L716.8 187.6 L715.8 187.7 L714.8 187.8 L713.8 187.8 L712.8 187.8 L711.8 187.8 L710.8 187.8 L709.8 187.7 L708.8 187.6 L707.8 187.5 L706.8 187.4 L705.8 187.3 L704.8 187.2 L703.8 187 L702.8 186.8 L701.8 186.9 L700.8 187.1 L699.8 187.2 L698.8 187.4 L697.8 187.5 L696.8 187.6 L695.8 187.7 L694.8 187.7 L693.8 187.8 L692.8 187.8 L691.8 187.8 L690.8 187.8 L689.8 187.7 L688.8 187.7 L687.8 187.6 L686.8 187.5 L685.8 187.4 L684.8 187.3 L683.8 187.1 L682.8 187 L681.8 186.7 L680.8 186.9 L679.8 187.1 L678.8 187.3 L677.8 187.4 L676.8 187.5 L675.8 187.6 L674.8 187.7 L673.8 187.7 L672.8 187.8 L671.8 187.8 L670.8 187.8 L669.8 187.8 L668.8 187.7 L667.8 187.7 L666.8 187.6 L665.8 187.5 L664.8 187.4 L663.8 187.2 L662.8 187.1 L661.8 186.9 L660.8 186.8 L659.8 187 L658.8 187.1 L657.8 187.3 L656.8 187.4 L655.8 187.5 L654.8 187.6 L653.8 187.7 L652.8 187.7 L651.8 187.8 L650.8 187.8 L649.8 187.8 L648.8 187.8 L647.8 187.7 L646.8 187.7 L645.8 187.6 L644.8 187.5 L643.8 187.4 L642.8 187.2 L641.8 187.1 L640.8 186.9 L639.8 186.8 L638.8 187 L637.8 187.2 L636.8 187.3 L635.8 187.4 L634.8 187.6 L633.8 187.6 L632.8 187.7 L631.8 187.8 L630.8 187.8 L629.8 187.8 L628.8 187.8 L627.8 187.8 L626.8 187.7 L625.8 187.6 L624.8 187.6 L623.8 187.5 L622.8 187.3 L621.8 187.2 L620.8 187 L619.8 186.8 L618.8 186.9 L617.8 187 L616.8 187.2 L615.8 187.3 L614.8 187.5 L613.8 187.6 L612.8 187.7 L611.8 187.7 L610.8 187.8 L609.8 187.8 L608.8 187.8 L607.8 187.8 L606.8 187.8 L605.8 187.7 L604.8 187.6 L603.8 187.5 L602.8 187.4 L601.8 187.3 L600.8 187.1 L599.8 187 L598.8 186.8 L597.8 186.9 L596.8 187.1 L595.8 187.2 L594.8 187.4 L593.8 187.5 L592.8 187.6 L591.8 187.7 L590.8 187.7 L589.8 187.8 L588.8 187.8 L587.8 187.8 L586.8 187.8 L585.8 187.7 L584.8 187.7 L583.8 187.6 L582.8 187.5 L581.8 187.4 L580.8 187.3 L579.8 187.1 L578.8 186.9 L577.8 186.7 L576.8 186.9 L575.8 187.1 L574.8 187.3 L573.8 187.4 L572.8 187.5 L571.8 187.6 L570.8 187.7 L569.8 187.7 L568.8 187.8 L567.8 187.8 L566.8 187.8 L565.8 187.8 L564.8 187.7 L563.8 187.7 L562.8 187.6 L561.8 187.5 L560.8 187.4 L559.8 187.2 L558.8 187.1 L557.8 186.9 L556.8 186.8 L555.8 187 L554.8 187.2 L553.8 187.3 L552.8 187.4 L551.8 187.5 L550.8 187.6 L549.8 187.7 L548.8 187.8 L547.8 187.8 L546.8 187.8 L545.8 187.8 L544.8 187.8 L543.8 187.7 L542.8 187.7 L541.8 187.6 L540.8 187.5 L539.8 187.3 L538.8 187.2 L537.8 187 L536.8 186.8 L535.8 186.8 L534.8 187 L533.8 187.2 L532.8 187.3 L531.8 187.5 L530.8 187.6 L529.8 187.6 L528.8 187.7 L527.8 187.8 L526.8 187.8 L525.8 187.8 L524.8 187.8 L523.8 187.8 L522.8 187.7 L521.8 187.6 L520.8 187.5 L519.8 187.4 L518.8 187.3 L517.8 187.2 L516.8 187 L515.8 186.8 L514.8 186.9 L513.8 187.1 L512.8 187.2 L511.8 187.4 L510.8 187.5 L509.8 187.6 L508.8 187.7 L507.8 187.7 L506.8 187.8 L505.8 187.8 L504.8 187.8 L503.8 187.8 L502.8 187.7 L501.8 187.7 L500.8 187.6 L499.8 187.5 L498.8 187.4 L497.8 187.3 L496.8 187.1 L495.8 187 L494.8 186.7 L493.8 186.9 L492.8 187.1 L491.8 187.3 L490.8 187.4 L489.8 187.5 L488.8 187.6 L487.8 187.7 L486.8 187.7 L485.8 187.8 L484.8 187.8 L483.8 187.8 L482.8 187.8 L481.8 187.7 L480.8 187.7 L479.8 187.6 L478.8 187.5 L477.8 187.4 L476.8 187.3 L475.8 187.1 L474.8 186.9 L473.8 186.7 L472.8 187 L471.8 187.1 L470.8 187.3 L469.8 187.4 L468.8 187.5 L467.8 187.6 L466.8 187.7 L465.8 187.7 L464.8 187.8 L463.8 187.8 L462.8 187.8 L461.8 187.8 L460.8 187.7 L459.8 187.7 L458.8 187.6 L457.8 187.5 L456.8 187.4 L455.8 187.2 L454.8 187.1 L453.8 186.9 L452.8 186.8 L451.8 187 L450.8 187.2 L449.8 187.3 L448.8 187.4 L447.8 187.5 L446.8 187.6 L445.8 187.7 L444.8 187.8 L443.8 187.8 L442.8 187.8 L441.8 187.8 L440.8 187.8 L439.8 187.7 L438.8 187.6 L437.8 187.6 L436.8 187.5 L435.8 187.3 L434.8 187.2 L433.8 187 L432.8 186.8 L431.8 186.9 L430.8 187 L429.8 187.2 L428.8 187.3 L427.8 187.5 L426.8 187.6 L425.8 187.7 L424.8 187.7 L423.8 187.8 L422.8 187.8 L421.8 187.8 L420.8 187.8 L419.8 187.8 L418.8 187.7 L417.8 187.6 L416.8 187.5 L415.8 187.4 L414.8 187.3 L413.8 187.2 L412.8 187 L411.8 186.8 L410.8 186.9 L409.8 187.1 L408.8 187.2 L407.8 187.4 L406.8 187.5 L405.8 187.6 L404.8 187.7 L403.8 187.7 L402.8 187.8 L401.8 187.8 L400.8 187.8 L399.8 187.8 L398.8 187.7 L397.8 187.7 L396.8 187.6 L395.8 187.5 L394.8 187.4 L393.8 187.3 L392.8 187.1 L391.8 186.9 L390.8 186.7 L389.8 186.9 L388.8 187.1 L387.8 187.3 L386.8 187.4 L385.8 187.5 L384.8 187.6 L383.8 187.7 L382.8 187.7 L381.8 187.8 L380.8 187.8 L379.8 187.8 L378.8 187.8 L377.8 187.7 L376.8 187.7 L375.8 187.6 L374.8 187.5 L373.8 187.4 L372.8 187.2 L371.8 187.1 L370.8 186.9 L369.8 186.8 L368.8 187 L367.8 187.2 L366.8 187.3 L365.8 187.4 L364.8 187.5 L363.8 187.6 L362.8 187.7 L361.8 187.8 L360.8 187.8 L359.8 187.8 L358.8 187.8 L357.8 187.8 L356.8 187.7 L355.8 187.7 L354.8 187.6 L353.8 187.5 L352.8 187.3 L351.8 187.2 L350.8 187 L349.8 186.9 L348.8 186.8 L347.8 187 L346.8 187.2 L345.8 187.3 L344.8 187.5 L343.8 187.6 L342.8 187.6 L341.8 187.7 L340.8 187.8 L339.8 187.8 L338.8 187.8 L337.8 187.8 L336.8 187.8 L335.8 187.7 L334.8 187.6 L333.8 187.5 L332.8 187.4 L331.8 187.3 L330.8 187.2 L329.8 187 L328.8 186.8 L327.8 186.9 L326.8 187.1 L325.8 187.2 L324.8 187.4 L323.8 187.5 L322.8 187.6 L321.8 187.7 L320.8 187.7 L319.8 187.8 L318.8 187.8 L317.8 187.8 L316.8 187.8 L315.8 187.7 L314.8 187.7 L313.8 187.6 L312.8 187.5 L311.8 187.4 L310.8 187.3 L309.8 187.1 L308.8 187 L307.8 186.7 L306.8 186.9 L305.8 187.1 L304.8 187.3 L303.8 187.4 L302.8 187.5 L301.8 187.6 L300.8 187.7 L299.8 187.7 L298.8 187.8 L297.8 187.8 L296.8 187.8 L295.8 187.8 L294.8 187.7 L293.8 187.7 L292.8 187.6 L291.8 187.5 L290.8 187.4 L289.8 187.3 L288.8 187.1 L287.8 186.9 L286.8 186.7 L285.8 187 L284.8 187.1 L283.8 187.3 L282.8 187.4 L281.8 187.5 L280.8 187.6 L279.8 187.7 L278.8 187.7 L277.8 187.8 L276.8 187.8 L275.8 187.8 L274.8 187.8 L273.8 187.7 L272.8 187.7 L271.8 187.6 L270.8 187.5 L269.8 187.4 L268.8 187.2 L267.8 187.1 L266.8 186.9 L265.8 186.8 L264.8 187 L263.8 187.2 L262.8 187.3 L261.8 187.4 L260.8 187.5 L259.8 187.6 L258.8 187.7 L257.8 187.8 L256.8 187.8 L255.8 187.8 L254.8 187.8 L253.8 187.8 L252.8 187.7 L251.8 187.6 L250.8 187.6 L249.8 187.5 L248.8 187.3 L247.8 187.2 L246.8 187 L245.8 186.8 L244.8 186.8 L243.8 187 L242.8 187.2 L241.8 187.3 L240.8 187.5 L239.8 187.6 L238.8 187.7 L237.8 187.7 L236.8 187.8 L235.8 187.8 L234.8 187.8 L233.8 187.8 L232.8 187.8 L231.8 187.7 L230.8 187.6 L229.8 187.5 L228.8 187.4 L227.8 187.3 L226.8 187.2 L225.8 187 L224.8 186.8 L223.8 186.9 L222.8 187.1 L221.8 187.2 L220.8 187.4 L219.8 187.5 L218.8 187.6 L217.8 187.7 L216.8 187.7 L215.8 187.8 L214.8 187.8 L213.8 187.8 L212.8 187.8 L211.8 187.7 L210.8 187.7 L209.8 187.6 L208.8 187.5 L207.8 187.4 L206.8 187.3 L205.8 187.1 L204.8 186.9 L203.8 186.7 L202.8 186.9 L201.8 187.1 L200.8 187.3 L199.8 187.4 L198.8 187.5 L197.8 187.6 L196.8 187.7 L195.8 187.7 L194.8 187.8 L193.8 187.8 L192.8 187.8 L191.8 187.8 L190.8 187.7 L189.8 187.7 L188.8 187.6 L187.8 187.5 L186.8 187.4 L185.8 187.2 L184.8 187.1 L183.8 186.9 L182.8 186.8 L181.8 187 L180.8 187.1 L179.8 187.3 L178.8 187.4 L177.8 187.5 L176.8 187.6 L175.8 187.7 L174.8 187.8 L173.8 187.8 L172.8 187.8 L171.8 187.8 L170.8 187.8 L169.8 187.7 L168.8 187.7 L167.8 187.6 L166.8 187.5 L165.8 187.3 L164.8 187.2 L163.8 187 L162.8 186.9 L161.8 186.8 L160.8 187 L159.8 187.2 L158.8 187.3 L157.8 187.5 L156.8 187.6 L155.8 187.6 L154.8 187.7 L153.8 187.8 L152.8 187.8 L151.8 187.8 L150.8 187.8 L149.8 187.8 L148.8 187.7 L148 187.6 L147.2 187.6 L146.4 187.5 L145.6 187.5 L144.8 187.4 L144 187.4 L143.2 187.3 L142.4 187.6 L141.7 187.9 L141 188.3 L140.3 188.7 L139.6 189 L138.9 189.4 L138.2 189.7 L137.5 190.1 L136.6 190.5 L135.7 190.9 L134.8 191.3 L133.9 191.7 L132.9 192 L132 192.3 L131 192.6 L130.1 192.9 L129.1 193.2 L128.1 193.4 L127.1 193.6 L126.3 194.2 L125.4 194.8 L124.6 195.4 L123.7 195.9 L122.9 196.5 L122 196.9 L121.1 197.4 L120.2 197.8 L119.3 198.2 L118.3 198.5 L117.4 198.8 L116.4 199.1 L115.4 199.3 L114.4 199.5 L113.4 199.7 L112.5 200.2 L111.7 200.8 L110.8 201.4 L110 201.9 L109.1 202.4 L108.2 202.9 L107.3 203.4 L106.4 203.8 L105.5 204.3 L104.6 204.7 L103.7 205.1 L102.8 205.5 L101.9 205.8 L100.9 206.2 L100 206.5 L99 206.8 L98.1 207.1 L97.1 207.4 L96.1 207.7 L95.1 207.9 L94.2 208.2 L93.3 208.8 L92.5 209.4 L91.6 209.9 L90.8 210.4 L89.9 210.9 L89 211.4 L88.1 211.9 L87.2 212.4 L86.2 212.8 L85.3 213.2 L84.3 213.6 L83.2 214 L82.2 214.4 L81.1 214.7 L80 215 L78.9 215.2 L77.8 215.4 L76.6 215.6 L75.4 215.8 L74.2 215.8 L73.1 216.2 L72 216.6 L70.8 217 L69.6 217.3 L68.5 217.5 L67.3 217.7 L66.1 217.9 L64.8 218 L63.6 218 L62.4 218 L61.2 217.9 L60 217.8 L58.8 217.7 L57.6 217.5 L56.4 217.2 L55.2 216.9 L54.1 216.5 L52.9 216.1 L51.8 215.6 L50.7 215.1 L49.6 214.7 L48.4 214.5 L47.2 214.3 L46.1 214 L44.9 213.6 L43.8 213.2 L42.7 212.7 L41.6 212.2 L40.5 211.6 L39.4 211 L38.4 210.4 L37.4 209.7 L36.4 209 L35.5 208.2 L34.6 207.4 L33.7 206.5 L32.9 205.6 L32.1 204.7 L31.4 203.8 L30.7 202.8 L30 201.8 L29.1 201 L28.2 200.2 L27.3 199.4 L26.5 198.5 L25.7 197.5 L25 196.6 L24.2 195.6 L23.6 194.6 L23 193.5 L22.4 192.5 L21.9 191.4 L21.4 190.3 L21 189.1 L20.6 188 L20.3 186.8 L20 185.6 L19.7 184.4 L19.6 183.2 L19.4 182 L19.4 180.8 L19 179.7 L18.6 178.5 L18.3 177.4 L18 176.2 L17.8 175 L17.6 173.8 L17.5 172.6 L17.4 171.4 L17.4 170.2 L17.4 169 L17.5 167.8 L17.6 166.5 L17.8 165.3 L18.1 164.2 L18.4 163 L18.7 161.8 L19.1 160.7 L19.5 159.5 L20 158.4 L20.6 157.4 L20.9 156.2 L21.1 155 L21.4 153.9 L21.8 152.7 L22.2 151.5 L22.6 150.4 L23.1 149.3 L23.6 148.2 L24.2 147.1 L24.8 146.1 L25.5 145.1 L26.2 144.1 L27 143.2 L27.8 142.2 L28.6 141.4 L29.5 140.5 L30.4 139.7 L31.3 138.9 L32.3 138.2 L33.3 137.6 L34.2 136.8 L35 135.9 L35.8 135 L36.7 134.2 L37.6 133.4 L38.5 132.6 L39.5 131.9 L40.5 131.2 L41.6 130.6 L42.6 130 L43.7 129.4 L44.8 128.9 L45.9 128.5 L47.1 128.1 L48.2 127.7 L49.4 127.4 L50.6 127.2 L51.8 126.9 L53 126.8 L54.2 126.7 L55.4 126.6 L56.5 126.2 L57.7 125.9 L58.9 125.6 L60 125.3 L61.2 125.1 L62.4 125 L63.6 124.9 L64.9 124.8 L66.1 124.8 L67.3 124.9 L68.5 125 L69.7 125.2 L70.9 125.4 L72.1 125.6 L73.2 126 L74.4 126.3 L75.5 126.7 L76.6 127.2 L77.7 127.7 L78.7 128.2 L79.8 128.4 L80.9 128.6 L82 128.9 L83.1 129.1 L84.2 129.4 L85.2 129.7 L86.2 130.1 L87.2 130.5 L88.2 130.8 L89.1 131.2 L90 131.6 L90.9 132.1 L91.8 132.5 L92.7 133 L93.6 133.5 L94.5 134 L95.3 134.5 L96.2 135 L97 135.6 L97.9 136.2 L98.8 136.6 L99.8 136.8 L100.8 137 L101.7 137.3 L102.7 137.6 L103.6 137.9 L104.6 138.2 L105.5 138.6 L106.5 139 L107.4 139.3 L108.3 139.7 L109.2 140.2 L110.1 140.6 L111 141.1 L111.9 141.5 L112.8 142 L113.6 142.5 L114.5 143.1 L115.3 143.6 L116.2 144.2 L117 144.7 L118 144.9 L119 145.2 L120 145.5 L121 145.7 L121.9 146.1 L122.9 146.4 L123.8 146.7 L124.7 147.1 L125.7 147.4 L126.6 147.8 L127.5 148.3 L128.4 148.7 L129.3 149.1 L130.2 149.6 L131.1 150.1 L131.9 150.6 L132.8 151.1 L133.7 151.7 L134.5 152.2 L135.3 152.8 L136.3 153.2 L137.2 153.4 L138 153.6 L138.8 153.7 L139.5 153.9 L140.3 154.1 L141.1 154.2 L141.9 154.3 L142.6 154.4 L143.4 154.6 L144.2 154.7 L144.9 154.8 L145.7 154.8 L146.5 154.9 L147.2 155 L148 155 L148.8 155.1 L149.8 155.2 L150.8 155.2 L151.8 155.3 L152.8 155.4 L153.8 155.5 L154.8 155.6 L155.8 155.8 L156.8 155.9 L157.8 156 L158.8 155.8 L159.8 155.7 L160.8 155.6 L161.8 155.4 L162.8 155.3 L163.8 155.2 L164.8 155.2 L165.8 155.1 L166.8 155.1 L167.8 155 L168.8 155 L169.8 155 L170.8 155 L171.8 155 L172.8 155.1 L173.8 155.2 L174.8 155.2 L175.8 155.3 L176.8 155.4 L177.8 155.5 L178.8 155.7 L179.8 155.8 L180.8 156 L181.8 155.9 L182.8 155.7 L183.8 155.6 L184.8 155.4 L185.8 155.3 L186.8 155.2 L187.8 155.1 L188.8 155.1 L189.8 155 L190.8 155 L191.8 155 L192.8 155 L193.8 155.1 L194.8 155.1 L195.8 155.2 L196.8 155.3 L197.8 155.4 L198.8 155.5 L199.8 155.7 L200.8 155.8 L201.8 156.1 L202.8 155.9 L203.8 155.7 L204.8 155.5 L205.8 155.4 L206.8 155.3 L207.8 155.2 L208.8 155.1 L209.8 155.1 L210.8 155 L211.8 155 L212.8 155 L213.8 155 L214.8 155.1 L215.8 155.1 L216.8 155.2 L217.8 155.3 L218.8 155.4 L219.8 155.6 L220.8 155.7 L221.8 155.9 L222.8 156 L223.8 155.8 L224.8 155.7 L225.8 155.5 L226.8 155.4 L227.8 155.3 L228.8 155.2 L229.8 155.1 L230.8 155.1 L231.8 155 L232.8 155 L233.8 155 L234.8 155 L235.8 155.1 L236.8 155.1 L237.8 155.2 L238.8 155.3 L239.8 155.4 L240.8 155.6 L241.8 155.7 L242.8 155.9 L243.8 156 L244.8 155.8 L245.8 155.6 L246.8 155.5 L247.8 155.4 L248.8 155.2 L249.8 155.2 L250.8 155.1 L251.8 155 L252.8 155 L253.8 155 L254.8 155 L255.8 155 L256.8 155.1 L257.8 155.2 L258.8 155.2 L259.8 155.4 L260.8 155.5 L261.8 155.6 L262.8 155.8 L263.8 156 L264.8 155.9 L265.8 155.8 L266.8 155.6 L267.8 155.5 L268.8 155.3 L269.8 155.2 L270.8 155.1 L271.8 155.1 L272.8 155 L273.8 155 L274.8 155 L275.8 155 L276.8 155 L277.8 155.1 L278.8 155.2 L279.8 155.3 L280.8 155.4 L281.8 155.5 L282.8 155.7 L283.8 155.8 L284.8 156 L285.8 155.9 L286.8 155.7 L287.8 155.6 L288.8 155.4 L289.8 155.3 L290.8 155.2 L291.8 155.1 L292.8 155.1 L293.8 155 L294.8 155 L295.8 155 L296.8 155 L297.8 155.1 L298.8 155.1 L299.8 155.2 L300.8 155.3 L301.8 155.4 L302.8 155.5 L303.8 155.7 L304.8 155.9 L305.8 156.1 L306.8 155.9 L307.8 155.7 L308.8 155.5 L309.8 155.4 L310.8 155.3 L311.8 155.2 L312.8 155.1 L313.8 155.1 L314.8 155 L315.8 155 L316.8 155 L317.8 155 L318.8 155.1 L319.8 155.1 L320.8 155.2 L321.8 155.3 L322.8 155.4 L323.8 155.6 L324.8 155.7 L325.8 155.9 L326.8 156 L327.8 155.8 L328.8 155.6 L329.8 155.5 L330.8 155.4 L331.8 155.3 L332.8 155.2 L333.8 155.1 L334.8 155 L335.8 155 L336.8 155 L337.8 155 L338.8 155 L339.8 155.1 L340.8 155.1 L341.8 155.2 L342.8 155.3 L343.8 155.5 L344.8 155.6 L345.8 155.8 L346.8 156 L347.8 156 L348.8 155.8 L349.8 155.6 L350.8 155.5 L351.8 155.3 L352.8 155.2 L353.8 155.2 L354.8 155.1 L355.8 155 L356.8 155 L357.8 155 L358.8 155 L359.8 155 L360.8 155.1 L361.8 155.2 L362.8 155.3 L363.8 155.4 L364.8 155.5 L365.8 155.6 L366.8 155.8 L367.8 156 L368.8 155.9 L369.8 155.7 L370.8 155.6 L371.8 155.4 L372.8 155.3 L373.8 155.2 L374.8 155.1 L375.8 155.1 L376.8 155 L377.8 155 L378.8 155 L379.8 155 L380.8 155.1 L381.8 155.1 L382.8 155.2 L383.8 155.3 L384.8 155.4 L385.8 155.5 L386.8 155.7 L387.8 155.8 L388.8 156.1 L389.8 155.9 L390.8 155.7 L391.8 155.5 L392.8 155.4 L393.8 155.3 L394.8 155.2 L395.8 155.1 L396.8 155.1 L397.8 155 L398.8 155 L399.8 155 L400.8 155 L401.8 155.1 L402.8 155.1 L403.8 155.2 L404.8 155.3 L405.8 155.4 L406.8 155.5 L407.8 155.7 L408.8 155.9 L409.8 156.1 L410.8 155.8 L411.8 155.7 L412.8 155.5 L413.8 155.4 L414.8 155.3 L415.8 155.2 L416.8 155.1 L417.8 155.1 L418.8 155 L419.8 155 L420.8 155 L421.8 155 L422.8 155.1 L423.8 155.1 L424.8 155.2 L425.8 155.3 L426.8 155.4 L427.8 155.6 L428.8 155.7 L429.8 155.9 L430.8 156 L431.8 155.8 L432.8 155.6 L433.8 155.5 L434.8 155.4 L435.8 155.3 L436.8 155.2 L437.8 155.1 L438.8 155 L439.8 155 L440.8 155 L441.8 155 L442.8 155 L443.8 155.1 L444.8 155.2 L445.8 155.2 L446.8 155.3 L447.8 155.5 L448.8 155.6 L449.8 155.8 L450.8 156 L451.8 155.9 L452.8 155.8 L453.8 155.6 L454.8 155.5 L455.8 155.3 L456.8 155.2 L457.8 155.1 L458.8 155.1 L459.8 155 L460.8 155 L461.8 155 L462.8 155 L463.8 155 L464.8 155.1 L465.8 155.2 L466.8 155.3 L467.8 155.4 L468.8 155.5 L469.8 155.6 L470.8 155.8 L471.8 156 L472.8 155.9 L473.8 155.7 L474.8 155.6 L475.8 155.4 L476.8 155.3 L477.8 155.2 L478.8 155.1 L479.8 155.1 L480.8 155 L481.8 155 L482.8 155 L483.8 155 L484.8 155.1 L485.8 155.1 L486.8 155.2 L487.8 155.3 L488.8 155.4 L489.8 155.5 L490.8 155.7 L491.8 155.9 L492.8 156.1 L493.8 155.9 L494.8 155.7 L495.8 155.5 L496.8 155.4 L497.8 155.3 L498.8 155.2 L499.8 155.1 L500.8 155.1 L501.8 155 L502.8 155 L503.8 155 L504.8 155 L505.8 155.1 L506.8 155.1 L507.8 155.2 L508.8 155.3 L509.8 155.4 L510.8 155.6 L511.8 155.7 L512.8 155.9 L513.8 156 L514.8 155.8 L515.8 155.6 L516.8 155.5 L517.8 155.4 L518.8 155.3 L519.8 155.2 L520.8 155.1 L521.8 155 L522.8 155 L523.8 155 L524.8 155 L525.8 155 L526.8 155.1 L527.8 155.1 L528.8 155.2 L529.8 155.3 L530.8 155.5 L531.8 155.6 L532.8 155.8 L533.8 155.9 L534.8 156 L535.8 155.8 L536.8 155.6 L537.8 155.5 L538.8 155.3 L539.8 155.2 L540.8 155.2 L541.8 155.1 L542.8 155 L543.8 155 L544.8 155 L545.8 155 L546.8 155 L547.8 155.1 L548.8 155.2 L549.8 155.3 L550.8 155.4 L551.8 155.5 L552.8 155.6 L553.8 155.8 L554.8 156 L555.8 155.9 L556.8 155.7 L557.8 155.6 L558.8 155.4 L559.8 155.3 L560.8 155.2 L561.8 155.1 L562.8 155.1 L563.8 155 L564.8 155 L565.8 155 L566.8 155 L567.8 155.1 L568.8 155.1 L569.8 155.2 L570.8 155.3 L571.8 155.4 L572.8 155.5 L573.8 155.7 L574.8 155.8 L575.8 156.1 L576.8 155.9 L577.8 155.7 L578.8 155.5 L579.8 155.4 L580.8 155.3" fill="none" stroke="#242424" stroke-width="1.12" stroke-linejoin="round"/>
<rect x="741.1999999999999" y="180.0" width="5" height="9.6" fill="#fff"/>
<path d="M742.3 171.9 Q743.8 171.9 743.8 173.4 V179.9" stroke="#242424" stroke-width="1" fill="none"/>
<ellipse cx="740.0" cy="183.9" rx="2.5" ry="3.5" fill="#fff" stroke="#242424" stroke-width="0.9"/>
<rect x="580.8" y="153.5" width="72.0" height="18.0" rx="1.2" fill="#fbfbfb" stroke="#3a3a3a" stroke-width="1"/>
<path d="M583.8 153.8V171.5 M586.8 153.8V171.5 M589.8 153.8V171.5 M592.8 153.8V171.5 M595.8 153.8V171.5 M598.8 153.8V171.5 M601.8 153.8V171.5 M604.8 153.8V171.5 M607.8 153.8V171.5 M610.8 153.8V171.5 M613.8 153.8V171.5 M616.8 153.8V171.5 M619.8 153.8V171.5 M622.8 153.8V171.5 M625.8 153.8V171.5 M628.8 153.8V171.5 M631.8 153.8V171.5 M634.8 153.8V171.5 M637.8 153.8V171.5 M640.8 153.8V171.5 M643.8 153.8V171.5 M646.8 153.8V171.5 M649.8 153.8V171.5" stroke="#3a3a3a" stroke-width="1.05" fill="none"/>
<path d="M112.2 170.9 L129 170.9 A4.7 4.7 0 0 0 131.2 162 L83.2 137.2 A38.5 38.5 0 1 0 83.2 205.6 L131.2 180.8 A4.7 4.7 0 0 0 129 171.9 L112.2 171.9 Z M111.2 171.4 L76.3 152 A22.2 22.2 0 1 0 76.3 190.8 Z" fill="#939498" fill-rule="evenodd" stroke="#1e1e1e" stroke-width="1.4" stroke-linejoin="round"/>
<path d="M122 168.2 L81.4 144.4 A31.4 31.4 0 1 0 81.4 198.4 L122 174.6" fill="none" stroke="#4c4c50" stroke-width="0.9" stroke-dasharray="10 5" stroke-dashoffset="3"/>
<path d="M113.2 171.4 H132" stroke="#cfcfcf" stroke-width="0.7" fill="none"/>
<path d="M149.8 179.4 V154.4 A5.2 5.2 0 0 1 160.2 154.4 V179.4 Z" fill="#e9e9e9" stroke="#7e7e7e" stroke-width="1.05"/>
<rect x="149.5" y="178.9" width="11.0" height="8.6" fill="#8d8d8f"/>
<path d="M149.4 197.4 V207.0 Q149.4 208.2 150.6 208.2 H159.4 Q160.6 208.2 160.6 207.0 V197.4 Z" fill="#e9e9e9" stroke="#7e7e7e" stroke-width="1.05"/>
<path d="M142.8 182.8 H148.8 V187.6 H161.2 V182.8 H167.2 V187.6 L168.4 198.20000000000002 H141.4 L142.8 187.6 Z" fill="#7a7b7e" stroke="#4a4a4a" stroke-width="0.9" stroke-linejoin="round"/>
<path d="M143.2 183.20000000000002 H148.4 V187.6 H143.2 Z M161.6 183.20000000000002 H166.8 V187.6 H161.6 Z" fill="#8f9093"/>
<path d="M142.8 187.6 H167.2" stroke="#4a4a4a" stroke-width="0.8"/>
<path d="M336.40000000000003 179.4 V154.4 A5.2 5.2 0 0 1 346.8 154.4 V179.4 Z" fill="#e9e9e9" stroke="#7e7e7e" stroke-width="1.05"/>
<rect x="336.1" y="178.9" width="11.0" height="8.6" fill="#8d8d8f"/>
<path d="M336.0 197.4 V207.0 Q336.0 208.2 337.20000000000005 208.2 H346.0 Q347.20000000000005 208.2 347.20000000000005 207.0 V197.4 Z" fill="#e9e9e9" stroke="#7e7e7e" stroke-width="1.05"/>
<path d="M329.40000000000003 182.8 H335.40000000000003 V187.6 H347.8 V182.8 H353.8 V187.6 L355.0 198.20000000000002 H328.0 L329.40000000000003 187.6 Z" fill="#7a7b7e" stroke="#4a4a4a" stroke-width="0.9" stroke-linejoin="round"/>
<path d="M329.8 183.20000000000002 H335.0 V187.6 H329.8 Z M348.20000000000005 183.20000000000002 H353.40000000000003 V187.6 H348.20000000000005 Z" fill="#8f9093"/>
<path d="M329.40000000000003 187.6 H353.8" stroke="#4a4a4a" stroke-width="0.8"/>
<path d="M523.4 179.4 V154.4 A5.2 5.2 0 0 1 533.8000000000001 154.4 V179.4 Z" fill="#e9e9e9" stroke="#7e7e7e" stroke-width="1.05"/>
<rect x="523.1" y="178.9" width="11.0" height="8.6" fill="#8d8d8f"/>
<path d="M523.0 197.4 V207.0 Q523.0 208.2 524.2 208.2 H533.0 Q534.2 208.2 534.2 207.0 V197.4 Z" fill="#e9e9e9" stroke="#7e7e7e" stroke-width="1.05"/>
<path d="M516.4 182.8 H522.4 V187.6 H534.8000000000001 V182.8 H540.8000000000001 V187.6 L542.0 198.20000000000002 H515.0 L516.4 187.6 Z" fill="#7a7b7e" stroke="#4a4a4a" stroke-width="0.9" stroke-linejoin="round"/>
<path d="M516.8000000000001 183.20000000000002 H522.0 V187.6 H516.8000000000001 Z M535.2 183.20000000000002 H540.4 V187.6 H535.2 Z" fill="#8f9093"/>
<path d="M516.4 187.6 H540.8000000000001" stroke="#4a4a4a" stroke-width="0.8"/>
</g>
<g style="mix-blend-mode:multiply"><polygon points="224,176.7 233.6,168.5 242.9,177.3 275.3,145.1 285.7,155.6 241.8,199.8" fill="#8fbd8f"/>
<polygon points="224,176.7 233.6,168.5 242.9,177.3 275.3,145.1 285.7,155.6 241.8,199.8" fill="#8fbd8f" transform="translate(4.0 458.59999999999997)"/>
<rect x="233.49999999999997" y="334.9" width="45.8" height="13" fill="#de9074" transform="rotate(45.5 256.4 341.4)"/>
<rect x="233.49999999999997" y="334.9" width="45.8" height="13" fill="#de9074" transform="rotate(-45.5 256.4 341.4)"/></g>
<path d="M136 546 V689 M157.8 547.3 V609 M345 547.3 V609 M50 556.9 H345" stroke="#000" stroke-width="1.3" fill="none"/>
<path d="M136.4 556.9 L118.5 553.2 V560.6 Z M157.4 556.9 L176 553.2 V560.6 Z M345.4 556.9 L327.5 553.2 V560.6 Z" fill="#000"/>
<path d="M744.7 593.2 H756.3 V628.7 M756.3 645.4 V706.9 M746.9 628.7 H806.8 M746.9 645.4 H806.8" stroke="#000" stroke-width="1.3" fill="none"/>
<path d="M756.3 628.7 L752 609.5 H760.6 Z M756.3 646 L752 668.2 H760.6 Z" fill="#000"/>
<g font-family="'Liberation Sans', sans-serif" opacity="0.999" text-rendering="geometricPrecision"><text transform="translate(230.4 233.4) scale(0.92 1)" font-size="23.5" fill="#000000" textLength="368.0" lengthAdjust="spacing">Correct method of fitting wire rope grips</text>
<text transform="translate(230.4 259.1) scale(0.92 1)" font-size="23.5" fill="#123a8c" textLength="394.0" lengthAdjust="spacing">Správny spôsob upevnenia oceľových lán</text>
<text transform="translate(230.2 285.1) scale(0.92 1)" font-size="23.5" fill="#fb1f47" textLength="395.7" lengthAdjust="spacing">Az acélkötelek rögzítésének helyes módja</text>
<text transform="translate(231.4 397.2) scale(0.92 1)" font-size="23.5" fill="#000000" textLength="369.1" lengthAdjust="spacing">Inorrect method of fitting wire rope grips</text>
<text transform="translate(231.4 423.5) scale(0.92 1)" font-size="23.5" fill="#123a8c" textLength="419.3" lengthAdjust="spacing">Nesprávny spôsob upevnenia oceľových lán</text>
<text transform="translate(233.0 449.6) scale(0.92 1)" font-size="23.5" fill="#fb1f47" textLength="417.8" lengthAdjust="spacing">Az acélkötelek rögzítésének helytelen módja</text>
<text transform="translate(60.3 497.3) scale(0.89 1)" font-size="16.6" fill="#000000" stroke="#000000" stroke-width="0.2" textLength="174.8" lengthAdjust="spacing">Min. 1x diameter of rope</text>
<text transform="translate(60.3 514.3) scale(0.89 1)" font-size="16.6" fill="#123a8c" stroke="#123a8c" stroke-width="0.2" textLength="145.2" lengthAdjust="spacing">Min. 1x priemer lana</text>
<text transform="translate(60.3 531.6) scale(0.89 1)" font-size="16.6" fill="#fb1f47" stroke="#fb1f47" stroke-width="0.2" textLength="158.9" lengthAdjust="spacing">Min. 1x kötél átmérõje</text>
<text transform="translate(189.8 572.2) scale(0.89 1)" font-size="13.3" fill="#000000" stroke="#000000" stroke-width="0.2" textLength="114.4" lengthAdjust="spacing">6x diameter of rope</text>
<text transform="translate(189.8 585.6) scale(0.89 1)" font-size="13.3" fill="#123a8c" stroke="#123a8c" stroke-width="0.2" textLength="92.5" lengthAdjust="spacing">6x priemer lana</text>
<text transform="translate(189.8 598.2) scale(0.89 1)" font-size="13.3" fill="#fb1f47" stroke="#fb1f47" stroke-width="0.2" textLength="100.7" lengthAdjust="spacing">6x kötél átmérõje</text>
<text transform="translate(607.2 531.6) scale(0.89 1)" font-size="16.0" fill="#000000" stroke="#000000" stroke-width="0.2" textLength="177.5" lengthAdjust="spacing">Normal diameter of rope</text>
<text transform="translate(607.2 549.8) scale(0.89 1)" font-size="16.0" fill="#123a8c" stroke="#123a8c" stroke-width="0.2" textLength="93.9" lengthAdjust="spacing">Priemer lana</text>
<text transform="translate(607.2 568.3) scale(0.89 1)" font-size="16.0" fill="#fb1f47" stroke="#fb1f47" stroke-width="0.2" textLength="107.2" lengthAdjust="spacing">Kötél átmérõje</text></g>
</svg>
</body></html>
